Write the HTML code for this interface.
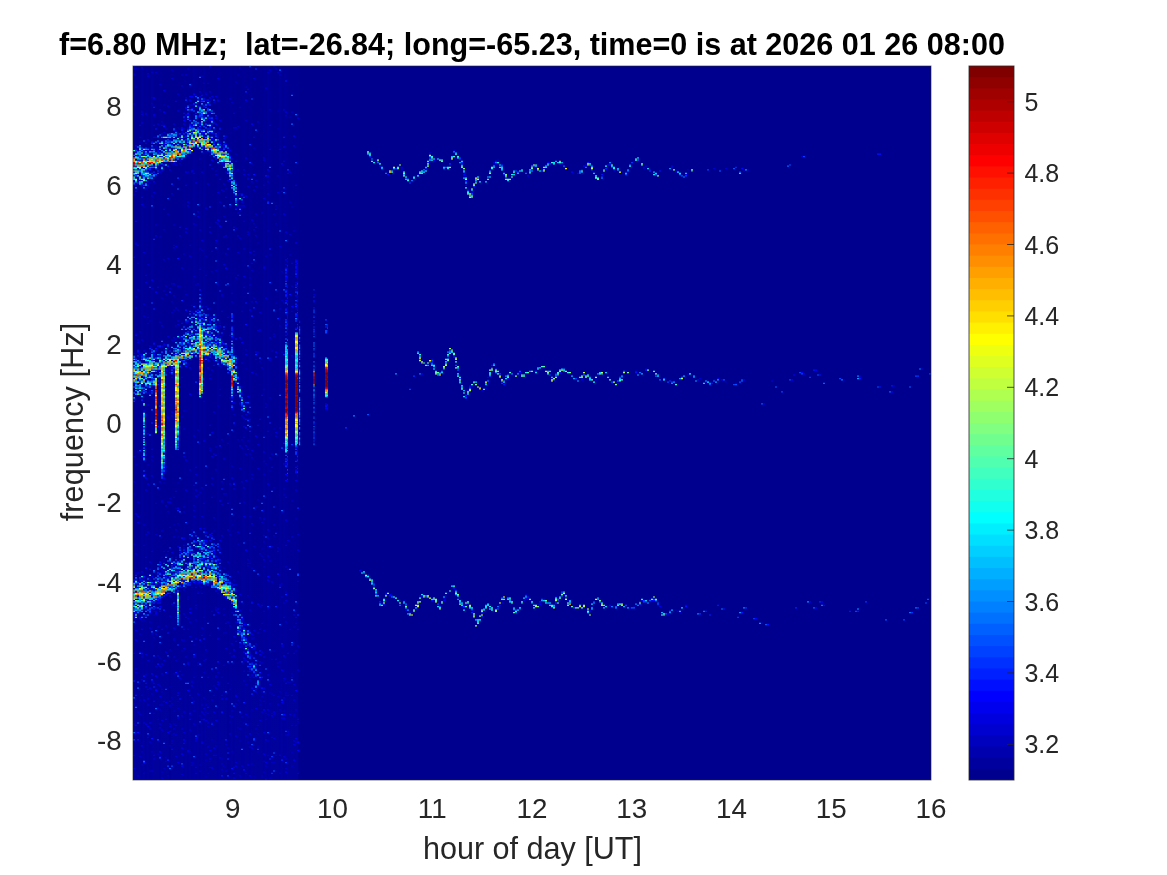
<!DOCTYPE html>
<html lang="en">
<head>
<meta charset="utf-8">
<title>Doppler spectrogram f=6.80 MHz</title>
<style>
html,body{margin:0;padding:0;background:#fff;}
body{width:1167px;height:875px;overflow:hidden;position:relative;font-family:"Liberation Sans",Arial,Helvetica,sans-serif;}
svg{position:absolute;left:0;top:0;display:block;}
text{font-family:"Liberation Sans",Arial,Helvetica,sans-serif;}
.tk{font-size:27.78px;fill:#262626;}
.cb{font-size:25px;fill:#262626;}
.lab{font-size:30.56px;fill:#262626;}
.ttl{font-size:30.56px;font-weight:bold;fill:#000;white-space:pre;}
.tm{stroke:#262626;stroke-width:1;stroke-opacity:.22;}
.cm{stroke:#262626;stroke-width:1;stroke-opacity:.8;}
</style>
</head>
<body>
<svg width="1167" height="875" viewBox="0 0 1167 875">
<rect x="0" y="0" width="1167" height="875" fill="#ffffff"/>
<!-- spectrogram background -->
<rect x="133.0" y="66.0" width="798.0" height="714.0" fill="#00008f"/>
<defs><linearGradient id="nf" x1="0" y1="0" x2="0" y2="1"><stop offset="0" stop-color="#000093"/><stop offset=".62" stop-color="#000095"/><stop offset="1" stop-color="#01019d"/></linearGradient></defs>
<rect x="133.0" y="66.0" width="165.4" height="714.0" fill="url(#nf)"/>
<rect x="141.00" y="66" width="2.000" height="714" fill="#0000b4" fill-opacity="0.22"/>
<rect x="145.00" y="66" width="2.000" height="714" fill="#0000b4" fill-opacity="0.15"/>
<rect x="149.00" y="66" width="2.000" height="714" fill="#0000b4" fill-opacity="0.09"/>
<rect x="151.00" y="66" width="2.000" height="714" fill="#0000b4" fill-opacity="0.23"/>
<rect x="159.00" y="66" width="2.000" height="714" fill="#0000b4" fill-opacity="0.10"/>
<rect x="169.00" y="66" width="2.000" height="714" fill="#00008f" fill-opacity="0.31"/>
<rect x="183.00" y="66" width="2.000" height="714" fill="#0000b4" fill-opacity="0.17"/>
<rect x="187.00" y="66" width="2.000" height="714" fill="#0000b4" fill-opacity="0.14"/>
<rect x="191.00" y="66" width="2.000" height="714" fill="#0000b4" fill-opacity="0.13"/>
<rect x="193.00" y="66" width="2.000" height="714" fill="#0000b4" fill-opacity="0.25"/>
<rect x="195.00" y="66" width="2.000" height="714" fill="#0000b4" fill-opacity="0.11"/>
<rect x="199.00" y="66" width="2.000" height="714" fill="#0000b4" fill-opacity="0.20"/>
<rect x="203.00" y="66" width="2.000" height="714" fill="#0000b4" fill-opacity="0.27"/>
<rect x="217.00" y="66" width="2.000" height="714" fill="#0000b4" fill-opacity="0.21"/>
<rect x="227.00" y="66" width="2.000" height="714" fill="#00008f" fill-opacity="0.20"/>
<rect x="229.00" y="66" width="2.000" height="714" fill="#0000b4" fill-opacity="0.18"/>
<rect x="233.00" y="66" width="2.000" height="714" fill="#0000b4" fill-opacity="0.12"/>
<rect x="241.00" y="66" width="2.000" height="714" fill="#0000b4" fill-opacity="0.11"/>
<rect x="243.00" y="66" width="2.000" height="714" fill="#0000b4" fill-opacity="0.18"/>
<rect x="249.00" y="66" width="2.000" height="714" fill="#0000b4" fill-opacity="0.21"/>
<rect x="263.00" y="66" width="2.000" height="714" fill="#0000b4" fill-opacity="0.21"/>
<rect x="267.00" y="66" width="2.000" height="714" fill="#0000b4" fill-opacity="0.22"/>
<rect x="269.00" y="66" width="2.000" height="714" fill="#0000b4" fill-opacity="0.10"/>
<rect x="279.00" y="66" width="2.000" height="714" fill="#0000b4" fill-opacity="0.24"/>
<rect x="283.00" y="66" width="2.000" height="714" fill="#0000b4" fill-opacity="0.18"/>
<rect x="285.00" y="66" width="2.000" height="714" fill="#0000b4" fill-opacity="0.13"/>
<!-- spectrogram data cells -->
<g transform="translate(133 66) scale(2 1.2)" shape-rendering="auto">
<path fill="#00009f" d="M160 73h1v1h-1zM117 74h1v1h-1zM162 74h1v1h-1zM148 76h1v1h-1zM160 77h1v1h-1zM249 83h1v1h-1zM123 84h1v1h-1zM185 86h1v1h-1zM271 86h1v1h-1zM235 89h1v1h-1zM244 89h1v1h-1zM141 92h1v1h-1zM173 94h1v1h-1zM142 240h1v1h-1zM147 246h1v1h-1zM154 253h1v1h-1zM208 255h1v1h-1zM190 256h1v1h-1zM279 260h1v1h-1zM238 262h1v1h-1zM264 262h1v1h-1zM272 262h1v1h-1zM230 264h1v1h-1zM165 269h1v1h-1zM159 435h1v1h-1zM122 442h1v1h-1zM126 442h1v1h-1zM143 442h1v1h-1zM148 444h1v1h-1zM258 446h1v1h-1zM183 450h1v1h-1zM247 450h1v1h-1z"/>
<path fill="#0000af" d="M151 77h1v1h-1zM153 77h1v1h-1zM182 78h1v1h-1zM250 79h1v1h-1zM215 84h1v1h-1zM124 86h1v1h-1zM293 86h1v1h-1zM134 87h1v1h-1zM244 88h1v1h-1zM230 90h1v1h-1zM178 91h1v1h-1zM174 96h1v1h-1zM167 101h1v1h-1zM170 101h1v1h-1zM156 245h1v1h-1zM150 251h1v1h-1zM205 251h1v1h-1zM237 258h1v1h-1zM231 260h1v1h-1zM289 263h1v1h-1zM296 263h1v1h-1zM166 277h1v1h-1zM160 437h1v1h-1zM184 442h1v1h-1zM126 443h1v1h-1zM162 443h1v1h-1zM183 446h1v1h-1zM229 447h1v1h-1zM167 449h1v1h-1zM229 450h1v1h-1zM192 451h1v1h-1zM271 453h1v1h-1zM267 457h1v1h-1z"/>
<path fill="#0000bf" d="M53 1h1v1h-1zM2 2h1v1h-1zM19 3h1v1h-1zM9 5h1v1h-1zM11 5h1v1h-1zM67 5h1v1h-1zM72 5h1v1h-1zM0 6h1v1h-1zM52 7h1v1h-1zM34 8h1v1h-1zM51 13h1v1h-1zM35 14h1v1h-1zM37 14h1v1h-1zM13 15h1v1h-1zM1 17h1v1h-1zM28 17h1v1h-1zM56 17h1v1h-1zM36 22h1v1h-1zM9 26h1v1h-1zM28 29h1v1h-1zM40 30h1v1h-1zM49 30h1v1h-1zM9 31h1v1h-1zM15 32h1v1h-1zM53 34h1v1h-1zM68 36h1v1h-1zM72 37h1v1h-1zM4 38h1v1h-1zM79 38h1v1h-1zM6 39h1v1h-1zM6 40h1v1h-1zM30 40h1v1h-1zM38 41h2v1h-2zM76 41h1v1h-1zM78 42h1v1h-1zM38 44h1v1h-1zM36 45h1v1h-1zM56 45h1v1h-1zM14 46h1v1h-1zM32 46h1v1h-1zM37 47h1v1h-1zM38 48h1v1h-1zM52 50h1v1h-1zM22 51h1v1h-1zM23 52h1v1h-1zM72 52h1v1h-1zM33 54h1v1h-1zM42 55h1v1h-1zM16 56h1v1h-1zM24 56h1v1h-1zM33 57h2v1h-2zM39 57h1v1h-1zM42 57h1v1h-1zM3 59h1v1h-1zM19 59h1v1h-1zM34 59h1v1h-1zM41 59h1v1h-1zM18 60h1v1h-1zM16 61h1v1h-1zM38 62h1v1h-1zM3 63h1v1h-1zM22 63h1v1h-1zM21 65h1v1h-1zM10 66h1v1h-1zM20 66h1v1h-1zM35 67h1v1h-1zM5 68h1v1h-1zM7 68h2v1h-2zM34 68h1v1h-1zM46 68h1v1h-1zM60 68h1v1h-1zM4 69h1v1h-1zM32 69h1v1h-1zM43 69h1v1h-1zM5 70h1v1h-1zM8 70h1v1h-1zM18 71h1v1h-1zM51 73h1v1h-1zM27 75h1v1h-1zM24 76h2v1h-2zM41 76h1v1h-1zM56 76h1v1h-1zM160 76h1v1h-1zM33 77h1v1h-1zM56 77h1v1h-1zM16 81h1v1h-1zM214 81h1v1h-1zM199 82h1v1h-1zM39 85h1v1h-1zM134 85h1v1h-1zM255 85h1v1h-1zM13 86h1v1h-1zM134 86h1v1h-1zM277 86h1v1h-1zM41 87h1v1h-1zM51 87h1v1h-1zM27 88h1v1h-1zM29 88h1v1h-1zM47 88h1v1h-1zM247 89h1v1h-1zM259 89h1v1h-1zM41 90h1v1h-1zM72 91h1v1h-1zM275 91h1v1h-1zM49 92h1v1h-1zM67 92h1v1h-1zM57 93h1v1h-1zM57 94h1v1h-1zM0 95h1v1h-1zM61 95h1v1h-1zM138 96h1v1h-1zM8 97h1v1h-1zM1 98h1v1h-1zM65 99h1v1h-1zM4 100h1v1h-1zM7 100h1v1h-1zM57 100h1v1h-1zM61 100h1v1h-1zM45 104h1v1h-1zM169 104h1v1h-1zM50 106h1v1h-1zM9 108h1v1h-1zM50 108h1v1h-1zM54 108h1v1h-1zM78 113h1v1h-1zM53 116h1v1h-1zM71 116h1v1h-1zM5 117h1v1h-1zM48 117h1v1h-1zM79 117h1v1h-1zM53 118h1v1h-1zM53 120h1v1h-1zM17 123h1v1h-1zM70 123h1v1h-1zM45 125h1v1h-1zM55 129h1v1h-1zM41 130h1v1h-1zM60 131h1v1h-1zM71 131h1v1h-1zM31 132h1v1h-1zM51 135h1v1h-1zM15 136h1v1h-1zM67 137h1v1h-1zM57 140h1v1h-1zM78 140h1v1h-1zM13 142h1v1h-1zM1 147h1v1h-1zM41 147h1v1h-1zM62 147h1v1h-1zM20 149h1v1h-1zM28 149h1v1h-1zM33 152h1v1h-1zM34 153h1v1h-1zM25 156h1v1h-1zM60 157h1v1h-1zM68 157h1v1h-1zM36 158h1v1h-1zM66 158h1v1h-1zM17 160h1v1h-1zM2 164h1v1h-1zM7 165h1v1h-1zM76 165h1v1h-1zM41 170h1v1h-1zM59 170h1v1h-1zM39 171h1v1h-1zM74 171h1v1h-1zM77 173h1v1h-1zM36 174h1v1h-1zM30 175h1v1h-1zM58 176h1v1h-1zM82 179h1v1h-1zM19 181h1v1h-1zM16 183h1v1h-1zM23 183h1v1h-1zM79 183h1v1h-1zM9 185h1v1h-1zM18 185h1v1h-1zM82 186h1v1h-1zM49 189h1v1h-1zM16 190h1v1h-1zM26 190h1v1h-1zM44 190h1v1h-1zM14 193h1v1h-1zM60 193h1v1h-1zM74 195h1v1h-1zM19 196h1v1h-1zM59 196h1v1h-1zM71 197h1v1h-1zM29 199h1v1h-1zM36 200h1v1h-1zM38 202h1v1h-1zM77 202h1v1h-1zM20 203h1v1h-1zM22 203h1v1h-1zM29 204h1v1h-1zM54 204h1v1h-1zM79 204h1v1h-1zM19 205h1v1h-1zM32 208h1v1h-1zM7 209h1v1h-1zM41 209h1v1h-1zM35 210h1v1h-1zM8 212h1v1h-1zM13 213h1v1h-1zM27 213h1v1h-1zM35 213h1v1h-1zM7 214h1v1h-1zM43 214h1v1h-1zM28 215h1v1h-1zM21 216h1v1h-1zM25 216h1v1h-1zM73 216h1v1h-1zM37 217h1v1h-1zM63 219h1v1h-1zM39 220h1v1h-1zM63 220h1v1h-1zM3 221h1v1h-1zM25 222h1v1h-1zM1 223h1v1h-1zM28 223h1v1h-1zM44 223h1v1h-1zM70 223h1v1h-1zM30 224h1v1h-1zM42 224h1v1h-1zM23 225h1v1h-1zM70 225h1v1h-1zM50 226h1v1h-1zM24 227h1v1h-1zM20 228h1v1h-1zM28 229h1v1h-1zM10 230h1v1h-1zM45 232h1v1h-1zM48 233h1v1h-1zM24 235h1v1h-1zM56 236h1v1h-1zM9 237h1v1h-1zM50 237h1v1h-1zM62 238h1v1h-1zM74 238h1v1h-1zM14 239h1v1h-1zM45 240h1v1h-1zM11 241h1v1h-1zM40 242h1v1h-1zM61 244h1v1h-1zM144 244h1v1h-1zM68 245h1v1h-1zM4 246h1v1h-1zM43 246h1v1h-1zM63 246h1v1h-1zM0 247h1v1h-1zM28 247h1v1h-1zM26 248h1v1h-1zM150 248h1v1h-1zM4 250h1v1h-1zM19 250h1v1h-1zM43 250h1v1h-1zM16 251h1v1h-1zM56 252h1v1h-1zM8 254h1v1h-1zM35 255h1v1h-1zM192 255h1v1h-1zM38 257h1v1h-1zM189 257h1v1h-1zM24 259h1v1h-1zM290 261h1v1h-1zM355 261h1v1h-1zM164 264h1v1h-1zM301 264h1v1h-1zM7 265h1v1h-1zM5 266h1v1h-1zM54 267h1v1h-1zM43 269h1v1h-1zM65 269h1v1h-1zM13 272h1v1h-1zM54 272h1v1h-1zM8 273h1v1h-1zM43 274h1v1h-1zM48 276h1v1h-1zM68 276h1v1h-1zM35 279h1v1h-1zM53 280h1v1h-1zM66 281h1v1h-1zM18 282h1v1h-1zM42 283h1v1h-1zM97 283h1v1h-1zM66 284h1v1h-1zM49 286h1v1h-1zM96 286h1v1h-1zM26 287h1v1h-1zM58 289h1v1h-1zM78 289h1v1h-1zM6 290h1v1h-1zM50 290h1v1h-1zM50 298h1v1h-1zM70 302h1v1h-1zM79 302h1v1h-1zM32 303h1v1h-1zM55 309h1v1h-1zM52 311h1v1h-1zM54 311h1v1h-1zM47 314h1v1h-1zM22 318h1v1h-1zM38 318h1v1h-1zM54 318h1v1h-1zM4 319h1v1h-1zM38 320h1v1h-1zM58 323h1v1h-1zM0 325h1v1h-1zM9 325h1v1h-1zM81 327h1v1h-1zM9 328h1v1h-1zM76 328h1v1h-1zM65 329h1v1h-1zM66 331h1v1h-1zM1 332h1v1h-1zM16 333h1v1h-1zM49 333h1v1h-1zM16 334h1v1h-1zM53 335h1v1h-1zM41 336h1v1h-1zM68 337h1v1h-1zM82 339h1v1h-1zM59 340h1v1h-1zM65 340h1v1h-1zM59 343h1v1h-1zM54 346h1v1h-1zM15 347h1v1h-1zM22 347h1v1h-1zM70 351h1v1h-1zM75 352h1v1h-1zM33 355h1v1h-1zM0 356h1v1h-1zM46 356h1v1h-1zM75 357h1v1h-1zM20 359h1v1h-1zM18 360h1v1h-1zM62 361h1v1h-1zM14 363h1v1h-1zM55 363h1v1h-1zM11 364h1v1h-1zM44 365h1v1h-1zM21 368h1v1h-1zM30 370h1v1h-1zM17 371h1v1h-1zM25 371h1v1h-1zM30 375h1v1h-1zM58 375h1v1h-1zM81 377h1v1h-1zM64 380h1v1h-1zM22 381h1v1h-1zM20 382h1v1h-1zM49 382h1v1h-1zM18 384h1v1h-1zM29 386h1v1h-1zM40 387h1v1h-1zM6 390h1v1h-1zM11 390h1v1h-1zM29 390h1v1h-1zM48 390h1v1h-1zM82 390h1v1h-1zM65 391h1v1h-1zM70 391h1v1h-1zM22 392h1v1h-1zM38 392h1v1h-1zM67 393h1v1h-1zM25 394h1v1h-1zM65 396h1v1h-1zM40 397h1v1h-1zM0 398h1v1h-1zM52 398h1v1h-1zM5 399h1v1h-1zM26 399h1v1h-1zM60 400h1v1h-1zM69 400h1v1h-1zM43 401h1v1h-1zM28 402h1v1h-1zM64 402h1v1h-1zM15 404h1v1h-1zM35 404h1v1h-1zM29 405h1v1h-1zM31 406h1v1h-1zM64 408h1v1h-1zM14 409h1v1h-1zM19 409h1v1h-1zM26 409h1v1h-1zM32 410h1v1h-1zM23 411h1v1h-1zM14 412h1v1h-1zM34 412h1v1h-1zM17 413h1v1h-1zM20 414h1v1h-1zM57 414h2v1h-2zM57 416h1v1h-1zM65 417h1v1h-1zM16 418h1v1h-1zM45 418h1v1h-1zM59 418h1v1h-1zM28 419h1v1h-1zM34 419h1v1h-1zM14 421h1v1h-1zM28 421h1v1h-1zM47 421h1v1h-1zM35 422h1v1h-1zM7 423h1v1h-1zM11 423h1v1h-1zM37 424h1v1h-1zM8 426h1v1h-1zM17 426h1v1h-1zM43 426h1v1h-1zM3 427h1v1h-1zM11 427h1v1h-1zM28 427h1v1h-1zM50 428h1v1h-1zM29 429h1v1h-1zM33 429h1v1h-1zM69 429h1v1h-1zM82 429h1v1h-1zM31 430h1v1h-1zM69 430h1v1h-1zM2 431h1v1h-1zM31 431h1v1h-1zM74 431h1v1h-1zM12 433h1v1h-1zM24 433h1v1h-1zM38 433h1v1h-1zM29 434h1v1h-1zM34 434h1v1h-1zM10 437h1v1h-1zM23 437h1v1h-1zM32 438h1v1h-1zM76 438h1v1h-1zM42 439h1v1h-1zM196 440h1v1h-1zM57 441h1v1h-1zM156 441h1v1h-1zM27 442h1v1h-1zM148 442h1v1h-1zM197 443h1v1h-1zM259 443h1v1h-1zM27 444h1v1h-1zM135 445h1v1h-1zM198 445h1v1h-1zM53 446h1v1h-1zM124 447h1v1h-1zM152 447h1v1h-1zM49 448h1v1h-1zM243 449h1v1h-1zM63 450h1v1h-1zM238 450h1v1h-1zM250 450h1v1h-1zM31 451h1v1h-1zM41 451h1v1h-1zM45 452h1v1h-1zM58 453h1v1h-1zM10 454h1v1h-1zM39 454h1v1h-1zM65 454h1v1h-1zM170 454h1v1h-1zM1 455h1v1h-1zM49 455h1v1h-1zM4 456h1v1h-1zM51 456h1v1h-1zM10 457h1v1h-1zM0 459h1v1h-1zM35 459h1v1h-1zM0 460h1v1h-1zM27 460h1v1h-1zM51 460h1v1h-1zM31 461h1v1h-1zM4 462h1v1h-1zM8 463h1v1h-1zM55 463h1v1h-1zM76 463h1v1h-1zM64 464h1v1h-1zM81 464h1v1h-1zM80 467h1v1h-1zM27 469h1v1h-1zM78 469h1v1h-1zM51 471h1v1h-1zM58 471h1v1h-1zM45 472h2v1h-2zM3 473h1v1h-1zM9 473h1v1h-1zM38 474h1v1h-1zM55 474h1v1h-1zM58 474h1v1h-1zM10 476h1v1h-1zM59 476h2v1h-2zM20 478h1v1h-1zM25 478h1v1h-1zM30 482h1v1h-1zM54 483h1v1h-1zM24 487h1v1h-1zM50 487h1v1h-1zM70 487h1v1h-1zM81 487h1v1h-1zM4 490h1v1h-1zM13 493h1v1h-1zM69 494h1v1h-1zM21 495h1v1h-1zM35 495h1v1h-1zM55 495h1v1h-1zM73 496h1v1h-1zM47 497h1v1h-1zM60 497h1v1h-1zM72 497h1v1h-1zM32 499h1v1h-1zM45 499h1v1h-1zM11 500h1v1h-1zM72 500h1v1h-1zM63 502h1v1h-1zM39 503h1v1h-1zM58 503h1v1h-1zM55 504h1v1h-1zM57 504h1v1h-1zM1 505h1v1h-1zM35 505h1v1h-1zM42 505h1v1h-1zM20 506h1v1h-1zM79 506h1v1h-1zM59 508h1v1h-1zM30 509h1v1h-1zM41 509h1v1h-1zM44 509h1v1h-1zM58 511h1v1h-1zM29 512h1v1h-1zM75 512h1v1h-1zM9 513h1v1h-1zM77 513h2v1h-2zM56 515h1v1h-1zM40 516h1v1h-1zM18 517h1v1h-1zM63 517h1v1h-1zM63 518h1v1h-1zM0 519h1v1h-1zM14 519h1v1h-1zM48 519h1v1h-1zM14 521h1v1h-1zM73 521h1v1h-1zM68 522h1v1h-1zM76 522h1v1h-1zM9 523h1v1h-1zM69 523h1v1h-1zM4 524h1v1h-1zM76 524h2v1h-2zM64 525h1v1h-1zM72 525h1v1h-1zM19 526h1v1h-1zM29 526h1v1h-1zM3 528h1v1h-1zM52 528h1v1h-1zM63 528h1v1h-1zM22 529h1v1h-1zM65 529h1v1h-1zM0 531h1v1h-1zM68 531h1v1h-1zM72 531h1v1h-1zM18 532h1v1h-1zM18 533h1v1h-1zM11 534h1v1h-1zM12 535h1v1h-1zM22 535h1v1h-1zM59 536h1v1h-1zM73 536h1v1h-1zM20 537h1v1h-1zM75 537h1v1h-1zM36 538h1v1h-1zM10 539h1v1h-1zM53 539h1v1h-1zM66 539h1v1h-1zM69 539h1v1h-1zM3 540h1v1h-1zM28 540h1v1h-1zM35 540h1v1h-1zM67 540h1v1h-1zM70 540h1v1h-1zM80 540h1v1h-1zM33 541h1v1h-1zM57 542h1v1h-1zM12 544h1v1h-1zM66 544h1v1h-1zM35 545h1v1h-1zM37 546h1v1h-1zM48 546h1v1h-1zM82 546h1v1h-1zM55 547h1v1h-1zM0 548h1v1h-1zM20 548h1v1h-1zM81 549h1v1h-1zM37 550h1v1h-1zM52 551h1v1h-1zM1 555h1v1h-1zM77 555h1v1h-1zM62 556h1v1h-1zM19 557h1v1h-1zM39 561h1v1h-1zM12 562h1v1h-1zM53 562h1v1h-1zM67 562h1v1h-1zM57 563h1v1h-1zM19 564h1v1h-1zM46 565h1v1h-1zM18 566h1v1h-1zM41 566h1v1h-1zM15 567h1v1h-1zM62 567h1v1h-1zM47 568h1v1h-1zM4 571h1v1h-1zM9 571h1v1h-1zM28 571h1v1h-1zM49 571h1v1h-1zM62 571h1v1h-1zM12 573h1v1h-1zM67 574h1v1h-1zM71 574h1v1h-1zM3 575h1v1h-1zM16 576h1v1h-1zM75 576h1v1h-1zM44 577h1v1h-1zM36 578h1v1h-1zM16 579h1v1h-1zM38 579h1v1h-1zM65 579h1v1h-1zM29 580h1v1h-1zM69 580h2v1h-2zM4 582h1v1h-1zM33 582h1v1h-1zM45 583h1v1h-1zM66 583h1v1h-1zM79 583h1v1h-1zM15 585h1v1h-1zM76 585h1v1h-1zM8 587h1v1h-1zM33 587h1v1h-1zM14 588h1v1h-1zM65 588h1v1h-1zM5 589h1v1h-1zM37 589h1v1h-1zM73 589h1v1h-1zM17 591h1v1h-1zM64 591h1v1h-1zM36 592h1v1h-1zM60 592h1v1h-1zM68 593h1v1h-1zM60 594h1v1h-1z"/>
<path fill="#0000cf" d="M0 0h1v1h-1zM70 0h1v1h-1zM4 1h1v1h-1zM27 2h1v1h-1zM71 2h1v1h-1zM68 3h1v1h-1zM7 6h1v1h-1zM0 7h1v1h-1zM24 7h1v1h-1zM73 7h1v1h-1zM7 8h1v1h-1zM19 10h1v1h-1zM60 10h1v1h-1zM24 16h1v1h-1zM66 18h1v1h-1zM57 19h1v1h-1zM38 21h1v1h-1zM22 23h1v1h-1zM36 23h1v1h-1zM26 26h1v1h-1zM38 29h1v1h-1zM42 29h1v1h-1zM0 31h1v1h-1zM17 33h1v1h-1zM13 36h1v1h-1zM75 36h1v1h-1zM50 39h1v1h-1zM4 40h1v1h-1zM10 40h1v1h-1zM26 40h1v1h-1zM26 41h1v1h-1zM35 41h1v1h-1zM25 43h1v1h-1zM30 44h1v1h-1zM62 46h1v1h-1zM12 48h1v1h-1zM20 48h1v1h-1zM3 49h1v1h-1zM29 49h1v1h-1zM33 49h1v1h-1zM36 49h1v1h-1zM43 51h1v1h-1zM50 51h1v1h-1zM16 52h1v1h-1zM25 52h1v1h-1zM40 54h1v1h-1zM15 55h1v1h-1zM24 55h1v1h-1zM38 55h1v1h-1zM32 56h1v1h-1zM46 58h1v1h-1zM45 60h1v1h-1zM26 63h1v1h-1zM25 64h1v1h-1zM15 66h1v1h-1zM31 66h1v1h-1zM43 66h1v1h-1zM17 67h1v1h-1zM11 68h1v1h-1zM13 68h1v1h-1zM38 68h1v1h-1zM43 68h1v1h-1zM44 69h1v1h-1zM68 69h1v1h-1zM73 69h1v1h-1zM17 70h1v1h-1zM23 70h1v1h-1zM47 70h1v1h-1zM160 70h1v1h-1zM36 71h1v1h-1zM5 72h1v1h-1zM149 74h1v1h-1zM65 76h1v1h-1zM21 77h1v1h-1zM65 78h1v1h-1zM121 78h1v1h-1zM75 79h1v1h-1zM19 81h1v1h-1zM23 81h1v1h-1zM59 81h1v1h-1zM158 82h1v1h-1zM256 83h1v1h-1zM134 84h1v1h-1zM269 84h1v1h-1zM290 85h1v1h-1zM296 85h1v1h-1zM52 86h1v1h-1zM55 86h1v1h-1zM236 86h1v1h-1zM307 86h1v1h-1zM271 87h1v1h-1zM34 88h1v1h-1zM46 88h1v1h-1zM78 88h1v1h-1zM271 88h1v1h-1zM30 89h1v1h-1zM190 89h1v1h-1zM55 90h1v1h-1zM57 90h1v1h-1zM165 91h1v1h-1zM189 93h1v1h-1zM2 95h1v1h-1zM48 95h1v1h-1zM59 96h1v1h-1zM67 96h1v1h-1zM37 98h1v1h-1zM45 98h1v1h-1zM81 99h1v1h-1zM46 102h1v1h-1zM44 103h1v1h-1zM60 103h1v1h-1zM74 104h1v1h-1zM10 105h1v1h-1zM72 105h1v1h-1zM67 106h1v1h-1zM0 107h1v1h-1zM52 107h1v1h-1zM167 107h1v1h-1zM51 108h1v1h-1zM46 109h1v1h-1zM65 110h1v1h-1zM43 113h1v1h-1zM36 118h1v1h-1zM51 118h1v1h-1zM71 119h1v1h-1zM64 122h1v1h-1zM61 123h1v1h-1zM32 125h1v1h-1zM30 131h1v1h-1zM42 131h1v1h-1zM11 132h1v1h-1zM20 132h1v1h-1zM50 134h1v1h-1zM26 135h1v1h-1zM33 136h1v1h-1zM60 136h1v1h-1zM80 137h1v1h-1zM57 138h1v1h-1zM23 141h1v1h-1zM46 141h1v1h-1zM52 141h1v1h-1zM61 141h1v1h-1zM53 143h1v1h-1zM34 145h1v1h-1zM1 148h1v1h-1zM2 149h1v1h-1zM21 150h1v1h-1zM73 150h1v1h-1zM20 151h1v1h-1zM55 152h1v1h-1zM39 154h1v1h-1zM60 154h1v1h-1zM5 155h1v1h-1zM52 155h1v1h-1zM46 156h1v1h-1zM78 157h1v1h-1zM15 161h1v1h-1zM81 161h1v1h-1zM77 163h1v1h-1zM59 164h1v1h-1zM45 165h1v1h-1zM81 166h1v1h-1zM24 168h1v1h-1zM65 168h1v1h-1zM33 169h1v1h-1zM6 174h1v1h-1zM51 176h1v1h-1zM82 177h1v1h-1zM76 178h1v1h-1zM6 180h1v1h-1zM81 180h1v1h-1zM32 181h1v1h-1zM31 182h1v1h-1zM42 182h1v1h-1zM58 182h1v1h-1zM22 183h1v1h-1zM12 184h1v1h-1zM55 184h1v1h-1zM2 186h1v1h-1zM77 186h1v1h-1zM15 187h1v1h-1zM20 191h1v1h-1zM44 191h1v1h-1zM1 192h1v1h-1zM76 192h1v1h-1zM49 196h1v1h-1zM75 197h1v1h-1zM5 198h1v1h-1zM34 200h1v1h-1zM1 201h1v1h-1zM21 201h1v1h-1zM73 202h1v1h-1zM81 202h1v1h-1zM44 204h1v1h-1zM76 204h2v1h-2zM29 205h1v1h-1zM63 205h1v1h-1zM5 208h1v1h-1zM36 208h1v1h-1zM47 209h1v1h-1zM38 210h1v1h-1zM49 210h1v1h-1zM77 211h1v1h-1zM22 215h1v1h-1zM34 215h1v1h-1zM37 216h1v1h-1zM42 216h1v1h-1zM42 218h1v1h-1zM32 220h1v1h-1zM62 220h1v1h-1zM77 220h1v1h-1zM27 222h1v1h-1zM42 223h1v1h-1zM31 224h1v1h-1zM17 225h1v1h-1zM43 225h1v1h-1zM21 227h1v1h-1zM2 228h1v1h-1zM4 228h1v1h-1zM19 228h1v1h-1zM28 228h1v1h-1zM41 229h2v1h-2zM2 230h1v1h-1zM15 231h1v1h-1zM42 231h1v1h-1zM8 233h1v1h-1zM21 233h1v1h-1zM31 235h1v1h-1zM2 236h1v1h-1zM15 236h1v1h-1zM24 237h1v1h-1zM32 237h1v1h-1zM69 237h1v1h-1zM46 238h1v1h-1zM0 239h1v1h-1zM157 239h1v1h-1zM29 240h1v1h-1zM56 240h1v1h-1zM20 241h1v1h-1zM3 242h1v1h-1zM10 242h1v1h-1zM18 243h1v1h-1zM39 243h1v1h-1zM45 243h1v1h-1zM8 244h1v1h-1zM14 244h1v1h-1zM26 244h1v1h-1zM43 244h1v1h-1zM51 245h1v1h-1zM25 246h1v1h-1zM54 247h1v1h-1zM156 247h1v1h-1zM27 248h1v1h-1zM50 248h1v1h-1zM12 250h1v1h-1zM64 251h1v1h-1zM256 252h1v1h-1zM394 252h1v1h-1zM39 253h1v1h-1zM47 253h1v1h-1zM8 256h1v1h-1zM12 256h1v1h-1zM61 256h1v1h-1zM231 258h1v1h-1zM363 258h1v1h-1zM19 259h1v1h-1zM177 259h1v1h-1zM227 259h1v1h-1zM38 260h1v1h-1zM209 260h1v1h-1zM224 260h1v1h-1zM283 260h1v1h-1zM231 261h1v1h-1zM2 262h1v1h-1zM6 262h1v1h-1zM51 262h1v1h-1zM270 262h1v1h-1zM12 263h1v1h-1zM184 263h1v1h-1zM177 264h1v1h-1zM303 264h1v1h-1zM0 265h1v1h-1zM52 265h1v1h-1zM52 266h1v1h-1zM380 266h1v1h-1zM173 267h1v1h-1zM13 268h1v1h-1zM176 268h1v1h-1zM3 269h1v1h-1zM8 270h1v1h-1zM174 270h1v1h-1zM53 273h2v1h-2zM51 274h1v1h-1zM50 280h1v1h-1zM56 282h1v1h-1zM25 287h1v1h-1zM40 288h1v1h-1zM56 290h1v1h-1zM19 291h1v1h-1zM17 292h1v1h-1zM24 292h1v1h-1zM17 293h1v1h-1zM55 293h1v1h-1zM58 294h1v1h-1zM38 299h1v1h-1zM55 300h1v1h-1zM12 301h1v1h-1zM20 302h1v1h-1zM25 302h1v1h-1zM67 304h1v1h-1zM30 308h1v1h-1zM71 308h1v1h-1zM44 311h1v1h-1zM57 312h1v1h-1zM62 315h1v1h-1zM22 316h1v1h-1zM41 317h1v1h-1zM59 320h1v1h-1zM2 321h1v1h-1zM40 323h1v1h-1zM56 323h1v1h-1zM69 323h1v1h-1zM5 325h1v1h-1zM25 325h1v1h-1zM39 325h1v1h-1zM59 326h1v1h-1zM82 326h1v1h-1zM77 329h1v1h-1zM7 332h1v1h-1zM31 334h1v1h-1zM62 335h1v1h-1zM15 336h1v1h-1zM28 336h1v1h-1zM16 337h1v1h-1zM81 339h1v1h-1zM31 340h1v1h-1zM82 341h1v1h-1zM5 342h1v1h-1zM39 343h1v1h-1zM56 345h1v1h-1zM0 346h1v1h-1zM44 346h1v1h-1zM50 347h1v1h-1zM39 348h1v1h-1zM48 348h1v1h-1zM30 349h1v1h-1zM34 351h1v1h-1zM6 353h1v1h-1zM31 353h1v1h-1zM81 353h1v1h-1zM21 354h1v1h-1zM45 356h1v1h-1zM32 357h1v1h-1zM39 359h1v1h-1zM76 359h1v1h-1zM79 362h1v1h-1zM2 363h1v1h-1zM35 364h1v1h-1zM30 366h1v1h-1zM25 367h1v1h-1zM61 367h1v1h-1zM74 372h1v1h-1zM2 375h1v1h-1zM34 375h1v1h-1zM40 376h1v1h-1zM63 376h1v1h-1zM35 385h1v1h-1zM21 386h1v1h-1zM7 388h1v1h-1zM29 389h1v1h-1zM38 391h1v1h-1zM39 394h1v1h-1zM33 395h1v1h-1zM77 395h1v1h-1zM27 399h1v1h-1zM22 400h1v1h-1zM67 400h1v1h-1zM39 401h1v1h-1zM72 401h1v1h-1zM43 402h1v1h-1zM39 403h1v1h-1zM9 404h1v1h-1zM17 404h1v1h-1zM26 404h1v1h-1zM72 404h1v1h-1zM31 405h1v1h-1zM1 406h1v1h-1zM63 406h1v1h-1zM16 407h1v1h-1zM34 407h1v1h-1zM67 408h1v1h-1zM6 409h1v1h-1zM21 409h1v1h-1zM31 409h1v1h-1zM15 411h1v1h-1zM57 411h1v1h-1zM25 412h1v1h-1zM42 412h1v1h-1zM8 413h1v1h-1zM21 413h1v1h-1zM47 413h1v1h-1zM42 414h1v1h-1zM22 416h1v1h-1zM26 417h1v1h-1zM34 417h1v1h-1zM76 417h1v1h-1zM17 418h1v1h-1zM26 418h1v1h-1zM29 418h1v1h-1zM32 418h1v1h-1zM21 419h1v1h-1zM31 419h1v1h-1zM38 419h1v1h-1zM77 419h1v1h-1zM14 420h1v1h-1zM40 420h1v1h-1zM19 421h1v1h-1zM33 421h1v1h-1zM52 421h1v1h-1zM1 422h1v1h-1zM19 423h1v1h-1zM17 425h1v1h-1zM42 426h1v1h-1zM42 427h1v1h-1zM1 428h1v1h-1zM42 428h1v1h-1zM6 429h1v1h-1zM31 429h1v1h-1zM39 429h1v1h-1zM48 429h1v1h-1zM45 430h1v1h-1zM12 431h1v1h-1zM32 431h1v1h-1zM39 431h1v1h-1zM9 432h1v1h-1zM13 432h1v1h-1zM44 432h1v1h-1zM6 433h1v1h-1zM33 433h1v1h-1zM49 433h1v1h-1zM1 434h1v1h-1zM8 435h1v1h-1zM25 436h1v1h-1zM32 439h1v1h-1zM34 439h1v1h-1zM157 439h1v1h-1zM74 442h1v1h-1zM185 443h1v1h-1zM197 444h1v1h-1zM13 445h1v1h-1zM76 445h1v1h-1zM195 445h1v1h-1zM59 446h1v1h-1zM207 446h1v1h-1zM1 447h1v1h-1zM75 447h1v1h-1zM124 448h1v1h-1zM202 448h1v1h-1zM31 449h1v1h-1zM64 449h1v1h-1zM21 450h1v1h-1zM49 451h1v1h-1zM67 452h1v1h-1zM41 453h1v1h-1zM11 454h1v1h-1zM80 454h1v1h-1zM228 454h1v1h-1zM272 454h1v1h-1zM138 455h1v1h-1zM273 455h1v1h-1zM25 456h1v1h-1zM45 457h1v1h-1zM80 457h1v1h-1zM18 458h1v1h-1zM75 459h1v1h-1zM81 459h1v1h-1zM52 460h1v1h-1zM5 461h1v1h-1zM53 462h1v1h-1zM28 463h1v1h-1zM47 463h1v1h-1zM46 464h1v1h-1zM314 464h1v1h-1zM56 465h1v1h-1zM16 466h1v1h-1zM48 466h1v1h-1zM12 467h1v1h-1zM8 468h1v1h-1zM34 468h1v1h-1zM63 469h1v1h-1zM82 469h1v1h-1zM1 470h1v1h-1zM53 470h1v1h-1zM60 470h1v1h-1zM65 470h1v1h-1zM62 472h1v1h-1zM11 473h1v1h-1zM34 474h1v1h-1zM28 475h1v1h-1zM20 477h1v1h-1zM59 477h1v1h-1zM24 478h1v1h-1zM57 480h1v1h-1zM53 481h2v1h-2zM61 481h1v1h-1zM53 483h1v1h-1zM74 483h1v1h-1zM82 483h1v1h-1zM25 485h1v1h-1zM46 485h1v1h-1zM55 485h1v1h-1zM59 485h1v1h-1zM18 486h1v1h-1zM3 488h1v1h-1zM0 489h1v1h-1zM48 489h1v1h-1zM77 489h1v1h-1zM80 489h1v1h-1zM6 490h1v1h-1zM58 490h1v1h-1zM12 491h1v1h-1zM4 492h1v1h-1zM20 492h1v1h-1zM26 492h1v1h-1zM36 494h1v1h-1zM58 494h1v1h-1zM71 494h1v1h-1zM7 495h1v1h-1zM15 495h1v1h-1zM56 495h1v1h-1zM32 497h1v1h-1zM64 497h1v1h-1zM13 500h1v1h-1zM59 500h1v1h-1zM1 502h1v1h-1zM82 503h1v1h-1zM23 504h1v1h-1zM6 507h1v1h-1zM24 507h1v1h-1zM41 508h1v1h-1zM37 509h1v1h-1zM58 509h1v1h-1zM23 510h1v1h-1zM75 510h1v1h-1zM9 512h1v1h-1zM55 512h1v1h-1zM29 513h1v1h-1zM47 514h1v1h-1zM12 515h1v1h-1zM42 515h1v1h-1zM80 515h1v1h-1zM13 516h1v1h-1zM60 516h1v1h-1zM7 519h1v1h-1zM45 521h1v1h-1zM64 521h1v1h-1zM40 524h1v1h-1zM44 524h1v1h-1zM70 524h1v1h-1zM79 524h1v1h-1zM35 526h1v1h-1zM75 526h1v1h-1zM39 528h1v1h-1zM80 528h1v1h-1zM15 529h1v1h-1zM18 529h1v1h-1zM30 529h1v1h-1zM19 531h1v1h-1zM51 531h1v1h-1zM13 532h2v1h-2zM34 532h1v1h-1zM36 532h1v1h-1zM63 532h1v1h-1zM72 532h1v1h-1zM35 535h1v1h-1zM13 536h1v1h-1zM81 536h1v1h-1zM30 537h1v1h-1zM49 537h1v1h-1zM2 538h1v1h-1zM25 538h1v1h-1zM64 538h1v1h-1zM37 539h1v1h-1zM44 539h1v1h-1zM56 540h1v1h-1zM78 540h1v1h-1zM24 541h1v1h-1zM48 541h1v1h-1zM80 541h1v1h-1zM54 542h1v1h-1zM22 543h1v1h-1zM34 544h1v1h-1zM14 545h1v1h-1zM36 545h1v1h-1zM63 545h1v1h-1zM37 547h1v1h-1zM39 547h1v1h-1zM13 548h1v1h-1zM18 548h1v1h-1zM30 548h1v1h-1zM21 549h1v1h-1zM57 549h1v1h-1zM62 549h1v1h-1zM79 549h1v1h-1zM18 550h1v1h-1zM13 551h1v1h-1zM53 552h1v1h-1zM61 552h1v1h-1zM14 553h1v1h-1zM28 553h1v1h-1zM18 554h1v1h-1zM77 554h1v1h-1zM25 555h1v1h-1zM65 555h1v1h-1zM20 556h1v1h-1zM48 556h1v1h-1zM32 557h1v1h-1zM76 557h1v1h-1zM56 558h1v1h-1zM7 559h1v1h-1zM69 559h1v1h-1zM70 560h1v1h-1zM19 562h1v1h-1zM8 563h1v1h-1zM81 563h1v1h-1zM34 564h1v1h-1zM27 570h1v1h-1zM27 571h1v1h-1zM79 572h1v1h-1zM36 573h1v1h-1zM0 574h1v1h-1zM41 574h1v1h-1zM73 574h1v1h-1zM13 575h1v1h-1zM21 575h1v1h-1zM75 575h1v1h-1zM43 576h1v1h-1zM76 577h1v1h-1zM51 580h1v1h-1zM44 581h1v1h-1zM59 581h1v1h-1zM29 582h1v1h-1zM54 583h1v1h-1zM31 584h1v1h-1zM38 584h2v1h-2zM0 585h1v1h-1zM39 585h1v1h-1zM44 586h1v1h-1zM9 587h1v1h-1zM46 587h1v1h-1zM31 589h1v1h-1zM56 589h1v1h-1zM82 589h1v1h-1zM24 590h1v1h-1zM2 591h1v1h-1zM53 591h1v1h-1zM14 593h1v1h-1zM50 593h1v1h-1z"/>
<path fill="#0000df" d="M0 2h2v1h-2zM26 7h1v1h-1zM42 10h1v1h-1zM15 20h1v1h-1zM33 21h1v1h-1zM33 25h1v1h-1zM39 25h1v1h-1zM41 25h1v1h-1zM10 27h1v1h-1zM32 27h1v1h-1zM48 27h1v1h-1zM42 28h1v1h-1zM21 29h1v1h-1zM28 32h3v1h-3zM35 34h1v1h-1zM76 38h1v1h-1zM37 40h1v1h-1zM10 41h1v1h-1zM82 43h1v1h-1zM39 44h1v1h-1zM38 45h1v1h-1zM43 45h1v1h-1zM4 47h1v1h-1zM25 48h1v1h-1zM10 49h1v1h-1zM14 49h1v1h-1zM32 49h1v1h-1zM39 49h1v1h-1zM68 49h1v1h-1zM27 51h1v1h-1zM51 51h1v1h-1zM34 55h1v1h-1zM14 56h1v1h-1zM22 56h1v1h-1zM28 58h1v1h-1zM35 58h1v1h-1zM10 59h2v1h-2zM60 59h1v1h-1zM15 62h1v1h-1zM43 63h1v1h-1zM6 64h1v1h-1zM46 65h1v1h-1zM41 66h1v1h-1zM44 66h1v1h-1zM80 66h1v1h-1zM8 69h1v1h-1zM7 70h1v1h-1zM43 70h2v1h-2zM48 70h1v1h-1zM12 72h1v1h-1zM1 74h1v1h-1zM4 74h1v1h-1zM38 74h1v1h-1zM334 75h1v1h-1zM4 76h1v1h-1zM49 77h1v1h-1zM23 78h1v1h-1zM51 79h1v1h-1zM20 80h1v1h-1zM44 80h1v1h-1zM180 80h1v1h-1zM20 81h1v1h-1zM44 81h1v1h-1zM180 82h1v1h-1zM269 83h1v1h-1zM255 84h1v1h-1zM18 86h1v1h-1zM305 87h1v1h-1zM13 88h1v1h-1zM26 88h1v1h-1zM191 88h1v1h-1zM246 88h1v1h-1zM77 89h1v1h-1zM142 90h1v1h-1zM67 91h1v1h-1zM166 91h1v1h-1zM2 94h1v1h-1zM9 94h1v1h-1zM43 94h1v1h-1zM47 95h1v1h-1zM51 97h1v1h-1zM26 99h1v1h-1zM6 101h1v1h-1zM167 103h1v1h-1zM42 105h1v1h-1zM169 105h1v1h-1zM19 106h1v1h-1zM53 106h1v1h-1zM56 108h1v1h-1zM52 111h1v1h-1zM27 113h1v1h-1zM54 113h1v1h-1zM4 115h1v1h-1zM27 116h1v1h-1zM54 116h2v1h-2zM52 117h1v1h-1zM15 119h1v1h-1zM32 121h1v1h-1zM52 122h1v1h-1zM75 123h1v1h-1zM59 128h1v1h-1zM1 129h1v1h-1zM38 134h1v1h-1zM61 134h1v1h-1zM26 138h1v1h-1zM38 138h1v1h-1zM76 138h1v1h-1zM11 141h1v1h-1zM45 142h1v1h-1zM41 145h1v1h-1zM58 155h1v1h-1zM28 158h1v1h-1zM0 159h1v1h-1zM79 164h1v1h-1zM81 165h1v1h-1zM65 167h1v1h-1zM76 168h2v1h-2zM81 170h1v1h-1zM81 172h2v1h-2zM52 174h1v1h-1zM55 175h1v1h-1zM81 175h1v1h-1zM20 181h1v1h-1zM81 186h1v1h-1zM77 189h1v1h-1zM82 192h1v1h-1zM66 193h1v1h-1zM82 194h1v1h-1zM33 195h1v1h-1zM77 195h1v1h-1zM82 195h1v1h-1zM77 199h1v1h-1zM81 199h1v1h-1zM77 201h1v1h-1zM58 203h1v1h-1zM35 208h1v1h-1zM38 209h2v1h-2zM77 210h1v1h-1zM82 210h1v1h-1zM22 212h1v1h-1zM77 212h1v1h-1zM36 215h1v1h-1zM14 216h1v1h-1zM38 217h1v1h-1zM32 219h1v1h-1zM28 221h1v1h-1zM97 221h1v1h-1zM29 222h1v1h-1zM48 224h1v1h-1zM68 226h1v1h-1zM29 227h1v1h-1zM24 228h1v1h-1zM27 229h1v1h-1zM44 232h1v1h-1zM22 234h1v1h-1zM31 234h1v1h-1zM22 235h1v1h-1zM61 238h1v1h-1zM8 239h1v1h-1zM3 240h2v1h-2zM30 241h1v1h-1zM79 241h1v1h-1zM11 242h1v1h-1zM18 242h1v1h-1zM68 243h1v1h-1zM40 245h1v1h-1zM24 246h1v1h-1zM26 246h1v1h-1zM143 246h1v1h-1zM37 251h1v1h-1zM1 253h1v1h-1zM200 254h1v1h-1zM246 254h1v1h-1zM59 255h1v1h-1zM0 257h1v1h-1zM232 257h1v1h-1zM277 257h1v1h-1zM212 258h1v1h-1zM177 261h1v1h-1zM319 262h1v1h-1zM177 263h1v1h-1zM286 263h1v1h-1zM168 266h1v1h-1zM8 271h1v1h-1zM7 272h1v1h-1zM32 272h1v1h-1zM0 274h1v1h-1zM57 275h1v1h-1zM10 276h1v1h-1zM53 276h1v1h-1zM49 280h1v1h-1zM96 281h1v1h-1zM315 281h1v1h-1zM7 282h1v1h-1zM96 284h1v1h-1zM49 285h1v1h-1zM97 285h1v1h-1zM97 286h1v1h-1zM19 288h1v1h-1zM16 291h1v1h-1zM54 291h1v1h-1zM63 294h1v1h-1zM62 299h1v1h-1zM73 301h1v1h-1zM39 305h1v1h-1zM71 305h1v1h-1zM22 312h1v1h-1zM53 316h1v1h-1zM56 316h1v1h-1zM9 319h1v1h-1zM65 321h1v1h-1zM6 324h1v1h-1zM4 325h1v1h-1zM68 326h1v1h-1zM77 327h1v1h-1zM26 328h1v1h-1zM76 330h1v1h-1zM75 331h1v1h-1zM69 334h1v1h-1zM76 334h1v1h-1zM81 336h1v1h-1zM15 338h1v1h-1zM15 339h1v1h-1zM9 341h1v1h-1zM49 343h1v1h-1zM81 345h1v1h-1zM13 346h1v1h-1zM7 348h1v1h-1zM67 348h1v1h-1zM55 351h1v1h-1zM12 352h1v1h-1zM50 352h1v1h-1zM26 353h1v1h-1zM31 358h1v1h-1zM14 362h1v1h-1zM17 363h2v1h-2zM16 366h1v1h-1zM1 373h1v1h-1zM55 375h1v1h-1zM65 377h1v1h-1zM76 378h1v1h-1zM2 380h1v1h-1zM5 382h1v1h-1zM70 382h1v1h-1zM47 386h1v1h-1zM67 386h1v1h-1zM14 387h1v1h-1zM52 388h1v1h-1zM44 391h1v1h-1zM20 392h1v1h-1zM79 392h1v1h-1zM25 393h1v1h-1zM28 393h1v1h-1zM43 395h1v1h-1zM36 397h1v1h-1zM34 398h1v1h-1zM25 399h1v1h-1zM76 399h1v1h-1zM25 401h1v1h-1zM82 403h1v1h-1zM32 404h1v1h-1zM40 404h1v1h-1zM19 405h1v1h-1zM40 407h1v1h-1zM24 410h2v1h-2zM35 410h1v1h-1zM38 410h1v1h-1zM42 410h1v1h-1zM65 411h1v1h-1zM68 412h1v1h-1zM36 413h1v1h-1zM35 415h1v1h-1zM13 416h1v1h-1zM21 416h1v1h-1zM31 416h1v1h-1zM43 416h1v1h-1zM22 417h1v1h-1zM20 419h1v1h-1zM43 419h1v1h-1zM22 420h1v1h-1zM4 421h1v1h-1zM12 421h1v1h-1zM14 423h1v1h-1zM15 425h2v1h-2zM18 426h1v1h-1zM5 427h1v1h-1zM67 428h1v1h-1zM14 429h1v1h-1zM16 429h1v1h-1zM0 432h1v1h-1zM73 432h1v1h-1zM26 434h1v1h-1zM31 434h1v1h-1zM161 436h1v1h-1zM51 437h1v1h-1zM53 440h1v1h-1zM143 441h1v1h-1zM45 442h1v1h-1zM130 443h1v1h-1zM217 445h1v1h-1zM8 447h1v1h-1zM19 448h1v1h-1zM262 449h1v1h-1zM165 451h1v1h-1zM42 452h1v1h-1zM141 452h1v1h-1zM53 453h1v1h-1zM228 453h1v1h-1zM1 454h1v1h-1zM0 455h1v1h-1zM11 455h1v1h-1zM0 456h1v1h-1zM3 459h1v1h-1zM21 459h1v1h-1zM26 459h1v1h-1zM52 462h1v1h-1zM51 463h1v1h-1zM20 468h1v1h-1zM4 469h1v1h-1zM14 469h1v1h-1zM25 469h1v1h-1zM52 469h1v1h-1zM54 469h1v1h-1zM50 475h1v1h-1zM55 475h1v1h-1zM56 476h1v1h-1zM31 477h1v1h-1zM1 478h1v1h-1zM51 479h1v1h-1zM49 481h1v1h-1zM53 484h1v1h-1zM60 485h1v1h-1zM36 486h1v1h-1zM16 488h1v1h-1zM64 488h1v1h-1zM59 491h1v1h-1zM49 492h1v1h-1zM65 492h1v1h-1zM55 493h1v1h-1zM63 496h1v1h-1zM14 498h1v1h-1zM27 498h1v1h-1zM57 499h1v1h-1zM58 504h1v1h-1zM14 506h1v1h-1zM22 507h1v1h-1zM67 507h1v1h-1zM60 509h1v1h-1zM79 509h1v1h-1zM4 511h1v1h-1zM42 513h1v1h-1zM10 514h1v1h-1zM68 515h1v1h-1zM29 516h1v1h-1zM62 516h1v1h-1zM8 518h1v1h-1zM41 518h1v1h-1zM65 518h1v1h-1zM11 519h1v1h-1zM32 523h1v1h-1zM51 524h1v1h-1zM13 525h1v1h-1zM51 525h1v1h-1zM7 527h1v1h-1zM5 528h1v1h-1zM16 530h1v1h-1zM7 532h1v1h-1zM61 535h1v1h-1zM67 536h1v1h-1zM34 538h1v1h-1zM70 538h1v1h-1zM49 542h1v1h-1zM74 543h2v1h-2zM16 544h1v1h-1zM82 544h1v1h-1zM41 545h1v1h-1zM5 547h1v1h-1zM6 548h1v1h-1zM1 549h1v1h-1zM7 550h1v1h-1zM8 552h1v1h-1zM20 552h1v1h-1zM24 552h1v1h-1zM0 556h1v1h-1zM21 557h1v1h-1zM77 557h1v1h-1zM51 558h1v1h-1zM31 560h1v1h-1zM81 560h1v1h-1zM66 561h1v1h-1zM31 562h1v1h-1zM80 562h1v1h-1zM34 563h1v1h-1zM80 565h1v1h-1zM4 566h1v1h-1zM37 567h1v1h-1zM58 567h1v1h-1zM24 568h1v1h-1zM40 568h1v1h-1zM59 568h1v1h-1zM38 570h1v1h-1zM65 573h1v1h-1zM10 574h1v1h-1zM40 574h1v1h-1zM10 577h1v1h-1zM38 577h1v1h-1zM22 580h1v1h-1zM66 580h1v1h-1zM51 583h1v1h-1zM50 584h1v1h-1zM76 588h1v1h-1zM58 591h1v1h-1zM66 594h1v1h-1z"/>
<path fill="#0000ef" d="M29 25h1v1h-1zM10 26h1v1h-1zM32 28h1v1h-1zM36 28h1v1h-1zM56 28h1v1h-1zM36 31h2v1h-2zM34 32h1v1h-1zM37 32h1v1h-1zM32 33h1v1h-1zM26 34h1v1h-1zM26 35h1v1h-1zM22 37h1v1h-1zM29 37h1v1h-1zM38 38h1v1h-1zM32 42h1v1h-1zM35 42h1v1h-1zM37 43h1v1h-1zM41 43h1v1h-1zM31 44h1v1h-1zM39 47h2v1h-2zM33 48h1v1h-1zM15 49h1v1h-1zM24 51h1v1h-1zM27 52h1v1h-1zM40 52h1v1h-1zM35 55h1v1h-1zM80 58h1v1h-1zM42 59h1v1h-1zM24 60h1v1h-1zM14 62h1v1h-1zM19 62h1v1h-1zM12 63h1v1h-1zM29 63h1v1h-1zM19 65h1v1h-1zM33 65h1v1h-1zM11 66h1v1h-1zM24 66h1v1h-1zM75 67h1v1h-1zM12 69h1v1h-1zM148 72h1v1h-1zM2 78h1v1h-1zM153 79h1v1h-1zM207 80h1v1h-1zM13 81h1v1h-1zM181 81h1v1h-1zM21 82h1v1h-1zM45 82h1v1h-1zM206 82h1v1h-1zM226 82h1v1h-1zM1 83h1v1h-1zM123 83h1v1h-1zM205 85h1v1h-1zM165 86h1v1h-1zM258 86h1v1h-1zM50 89h1v1h-1zM4 91h1v1h-1zM197 91h1v1h-1zM7 96h1v1h-1zM31 97h1v1h-1zM1 104h1v1h-1zM54 106h1v1h-1zM4 109h1v1h-1zM76 161h1v1h-1zM82 167h1v1h-1zM76 176h2v1h-2zM9 178h1v1h-1zM82 180h1v1h-1zM77 183h1v1h-1zM82 185h1v1h-1zM76 186h1v1h-1zM77 187h1v1h-1zM90 190h1v1h-1zM81 191h1v1h-1zM61 196h1v1h-1zM82 196h1v1h-1zM31 205h1v1h-1zM76 206h1v1h-1zM82 206h1v1h-1zM77 207h1v1h-1zM40 208h1v1h-1zM77 208h1v1h-1zM82 208h1v1h-1zM33 209h1v1h-1zM77 209h1v1h-1zM32 210h2v1h-2zM76 212h1v1h-1zM26 213h1v1h-1zM76 214h2v1h-2zM77 216h1v1h-1zM81 218h1v1h-1zM45 219h1v1h-1zM30 223h1v1h-1zM36 223h1v1h-1zM77 223h1v1h-1zM1 224h1v1h-1zM22 224h1v1h-1zM76 224h1v1h-1zM41 225h1v1h-1zM20 226h1v1h-1zM49 226h1v1h-1zM35 227h1v1h-1zM41 227h1v1h-1zM35 229h2v1h-2zM41 230h1v1h-1zM54 230h1v1h-1zM43 231h1v1h-1zM16 232h1v1h-1zM14 233h1v1h-1zM13 234h1v1h-1zM26 236h1v1h-1zM46 236h1v1h-1zM30 237h1v1h-1zM71 238h1v1h-1zM10 240h1v1h-1zM51 241h1v1h-1zM36 242h1v1h-1zM46 242h1v1h-1zM24 244h1v1h-1zM149 244h1v1h-1zM37 245h1v1h-1zM44 248h1v1h-1zM23 249h1v1h-1zM3 250h1v1h-1zM28 251h1v1h-1zM47 251h1v1h-1zM18 252h1v1h-1zM10 253h1v1h-1zM16 253h1v1h-1zM18 255h1v1h-1zM334 255h1v1h-1zM335 256h1v1h-1zM11 259h1v1h-1zM292 260h1v1h-1zM9 261h1v1h-1zM224 261h1v1h-1zM305 261h1v1h-1zM2 264h1v1h-1zM239 264h1v1h-1zM241 264h1v1h-1zM169 266h1v1h-1zM2 270h1v1h-1zM0 271h1v1h-1zM53 272h1v1h-1zM64 274h1v1h-1zM166 275h1v1h-1zM96 282h1v1h-1zM96 285h1v1h-1zM57 294h1v1h-1zM61 308h1v1h-1zM81 318h1v1h-1zM57 319h1v1h-1zM82 319h1v1h-1zM41 324h1v1h-1zM82 324h1v1h-1zM45 327h1v1h-1zM77 330h1v1h-1zM77 333h1v1h-1zM82 333h1v1h-1zM77 341h1v1h-1zM6 343h1v1h-1zM22 368h1v1h-1zM59 381h1v1h-1zM36 388h1v1h-1zM39 389h1v1h-1zM38 390h1v1h-1zM39 391h1v1h-1zM38 395h1v1h-1zM33 401h1v1h-1zM29 402h1v1h-1zM28 405h1v1h-1zM40 405h1v1h-1zM25 406h1v1h-1zM37 406h1v1h-1zM39 407h1v1h-1zM37 408h1v1h-1zM41 408h1v1h-1zM28 410h1v1h-1zM35 411h1v1h-1zM19 413h1v1h-1zM37 415h1v1h-1zM17 417h1v1h-1zM13 418h1v1h-1zM30 418h1v1h-1zM8 419h1v1h-1zM22 419h1v1h-1zM31 420h1v1h-1zM113 420h1v1h-1zM2 422h1v1h-1zM9 425h1v1h-1zM7 426h1v1h-1zM8 428h1v1h-1zM10 430h1v1h-1zM32 430h1v1h-1zM36 431h1v1h-1zM49 431h1v1h-1zM8 433h1v1h-1zM160 435h1v1h-1zM8 436h2v1h-2zM21 438h1v1h-1zM45 441h1v1h-1zM211 442h1v1h-1zM155 443h1v1h-1zM205 444h1v1h-1zM258 444h1v1h-1zM155 445h1v1h-1zM259 445h1v1h-1zM11 446h1v1h-1zM338 446h1v1h-1zM62 448h1v1h-1zM238 449h1v1h-1zM276 449h1v1h-1zM164 450h1v1h-1zM263 450h1v1h-1zM248 451h1v1h-1zM51 453h2v1h-2zM136 453h1v1h-1zM13 454h1v1h-1zM42 455h1v1h-1zM264 456h1v1h-1zM5 459h1v1h-1zM3 460h1v1h-1zM311 460h1v1h-1zM54 462h1v1h-1zM171 462h1v1h-1zM59 473h1v1h-1zM42 477h1v1h-1zM50 486h1v1h-1zM55 488h1v1h-1zM63 490h1v1h-1zM50 491h1v1h-1zM27 497h1v1h-1zM74 503h1v1h-1zM63 510h1v1h-1zM76 514h1v1h-1zM6 517h1v1h-1zM61 519h1v1h-1zM61 521h1v1h-1zM22 524h1v1h-1zM28 524h1v1h-1zM74 530h1v1h-1zM40 538h1v1h-1zM69 541h1v1h-1zM35 544h1v1h-1zM8 547h1v1h-1zM17 555h1v1h-1zM58 556h1v1h-1zM80 578h1v1h-1zM57 582h1v1h-1zM24 583h1v1h-1z"/>
<path fill="#0000ff" d="M38 0h1v1h-1zM30 23h1v1h-1zM34 24h1v1h-1zM28 25h1v1h-1zM38 26h1v1h-1zM28 28h1v1h-1zM34 28h1v1h-1zM33 29h1v1h-1zM29 35h1v1h-1zM15 38h1v1h-1zM25 39h1v1h-1zM27 40h1v1h-1zM27 43h1v1h-1zM25 45h1v1h-1zM33 47h2v1h-2zM28 48h1v1h-1zM41 48h1v1h-1zM59 48h1v1h-1zM29 50h1v1h-1zM24 52h1v1h-1zM30 53h1v1h-1zM21 54h1v1h-1zM40 56h1v1h-1zM26 59h1v1h-1zM39 60h1v1h-1zM7 61h1v1h-1zM29 61h1v1h-1zM15 64h1v1h-1zM40 64h1v1h-1zM15 65h1v1h-1zM27 65h1v1h-1zM1 66h1v1h-1zM45 66h1v1h-1zM24 67h1v1h-1zM34 67h1v1h-1zM17 68h1v1h-1zM25 68h1v1h-1zM27 68h1v1h-1zM1 69h1v1h-1zM38 69h1v1h-1zM12 70h1v1h-1zM27 70h1v1h-1zM17 71h1v1h-1zM38 71h1v1h-1zM45 71h1v1h-1zM7 72h1v1h-1zM14 72h1v1h-1zM15 76h1v1h-1zM44 77h1v1h-1zM39 78h1v1h-1zM150 78h1v1h-1zM74 81h1v1h-1zM213 81h1v1h-1zM238 81h1v1h-1zM225 83h1v1h-1zM304 85h1v1h-1zM67 86h1v1h-1zM240 86h1v1h-1zM6 87h1v1h-1zM14 87h1v1h-1zM29 87h1v1h-1zM219 88h1v1h-1zM222 89h1v1h-1zM165 90h1v1h-1zM276 90h1v1h-1zM5 91h1v1h-1zM186 93h1v1h-1zM7 94h1v1h-1zM166 95h1v1h-1zM10 96h1v1h-1zM7 99h1v1h-1zM166 99h1v1h-1zM52 104h1v1h-1zM42 128h1v1h-1zM43 133h1v1h-1zM23 134h1v1h-1zM81 147h1v1h-1zM77 160h1v1h-1zM81 162h2v1h-2zM81 163h1v1h-1zM82 164h1v1h-1zM46 168h1v1h-1zM81 168h1v1h-1zM81 171h1v1h-1zM76 174h1v1h-1zM77 175h1v1h-1zM76 177h1v1h-1zM82 183h1v1h-1zM77 184h1v1h-1zM11 188h1v1h-1zM76 195h1v1h-1zM82 199h1v1h-1zM79 200h1v1h-1zM82 203h1v1h-1zM38 212h1v1h-1zM83 212h1v1h-1zM24 214h1v1h-1zM41 214h1v1h-1zM41 216h1v1h-1zM43 216h1v1h-1zM25 219h1v1h-1zM37 223h1v1h-1zM35 224h1v1h-1zM49 224h1v1h-1zM39 225h1v1h-1zM23 226h1v1h-1zM53 226h1v1h-1zM80 227h1v1h-1zM44 229h1v1h-1zM44 230h1v1h-1zM27 231h1v1h-1zM15 232h1v1h-1zM25 233h1v1h-1zM29 233h1v1h-1zM46 233h1v1h-1zM5 237h1v1h-1zM11 237h1v1h-1zM2 238h1v1h-1zM23 241h1v1h-1zM0 243h1v1h-1zM4 243h1v1h-1zM10 243h1v1h-1zM35 244h1v1h-1zM37 244h1v1h-1zM6 246h1v1h-1zM42 246h1v1h-1zM6 247h1v1h-1zM10 247h1v1h-1zM23 247h1v1h-1zM46 247h1v1h-1zM40 249h1v1h-1zM5 253h1v1h-1zM12 253h1v1h-1zM341 253h1v1h-1zM188 254h1v1h-1zM251 254h1v1h-1zM193 255h1v1h-1zM213 255h1v1h-1zM144 256h1v1h-1zM330 257h1v1h-1zM187 260h1v1h-1zM282 261h1v1h-1zM294 261h1v1h-1zM329 261h1v1h-1zM242 264h1v1h-1zM7 266h1v1h-1zM167 270h1v1h-1zM379 271h1v1h-1zM28 273h1v1h-1zM53 281h1v1h-1zM55 286h1v1h-1zM5 287h1v1h-1zM56 294h1v1h-1zM7 306h1v1h-1zM35 312h1v1h-1zM5 316h1v1h-1zM82 320h1v1h-1zM82 321h1v1h-1zM15 322h1v1h-1zM77 326h1v1h-1zM15 329h1v1h-1zM82 329h1v1h-1zM76 331h1v1h-1zM81 334h1v1h-1zM15 335h1v1h-1zM81 337h1v1h-1zM5 340h1v1h-1zM76 340h1v1h-1zM15 343h1v1h-1zM76 345h1v1h-1zM43 362h1v1h-1zM47 364h1v1h-1zM33 385h1v1h-1zM36 395h1v1h-1zM35 399h1v1h-1zM36 402h1v1h-1zM56 403h1v1h-1zM28 404h1v1h-1zM23 405h1v1h-1zM41 413h1v1h-1zM24 414h1v1h-1zM20 415h1v1h-1zM37 416h2v1h-2zM23 417h1v1h-1zM15 421h1v1h-1zM13 422h1v1h-1zM39 424h1v1h-1zM67 425h1v1h-1zM1 427h1v1h-1zM12 428h1v1h-1zM33 430h1v1h-1zM24 431h1v1h-1zM39 432h1v1h-1zM51 432h1v1h-1zM24 434h1v1h-1zM45 436h1v1h-1zM1 437h1v1h-1zM41 437h1v1h-1zM126 439h1v1h-1zM128 440h1v1h-1zM215 440h1v1h-1zM18 441h1v1h-1zM2 442h1v1h-1zM12 443h1v1h-1zM46 443h1v1h-1zM196 443h1v1h-1zM13 444h1v1h-1zM254 445h1v1h-1zM344 446h1v1h-1zM50 447h1v1h-1zM184 447h1v1h-1zM203 448h1v1h-1zM208 448h1v1h-1zM183 449h1v1h-1zM345 449h1v1h-1zM13 450h1v1h-1zM50 451h1v1h-1zM341 451h1v1h-1zM28 452h1v1h-1zM181 452h1v1h-1zM224 452h1v1h-1zM28 455h1v1h-1zM11 456h1v1h-1zM267 456h1v1h-1zM0 458h1v1h-1zM55 465h1v1h-1zM55 468h1v1h-1zM4 489h1v1h-1zM56 490h1v1h-1zM58 491h1v1h-1zM75 491h1v1h-1zM30 492h1v1h-1zM9 506h1v1h-1zM59 507h1v1h-1zM11 508h1v1h-1zM6 514h1v1h-1zM61 514h1v1h-1zM59 518h1v1h-1zM11 520h1v1h-1zM27 520h1v1h-1zM81 520h1v1h-1zM22 522h1v1h-1zM44 527h1v1h-1zM46 527h1v1h-1zM10 529h1v1h-1zM37 534h1v1h-1zM65 536h1v1h-1zM28 539h1v1h-1zM75 540h1v1h-1zM28 544h1v1h-1zM25 561h1v1h-1zM82 563h1v1h-1zM25 564h1v1h-1zM19 569h1v1h-1zM82 570h1v1h-1zM13 571h1v1h-1zM24 573h1v1h-1zM50 589h1v1h-1z"/>
<path fill="#0010ff" d="M76 12h1v1h-1zM35 27h1v1h-1zM37 28h1v1h-1zM35 33h1v1h-1zM10 34h1v1h-1zM27 39h1v1h-1zM31 39h1v1h-1zM33 39h1v1h-1zM32 41h1v1h-1zM41 41h1v1h-1zM39 45h1v1h-1zM28 49h1v1h-1zM15 50h1v1h-1zM11 52h1v1h-1zM33 52h1v1h-1zM34 56h1v1h-1zM32 57h1v1h-1zM26 58h1v1h-1zM25 59h1v1h-1zM75 59h1v1h-1zM17 62h1v1h-1zM24 62h1v1h-1zM40 62h1v1h-1zM9 63h1v1h-1zM40 63h1v1h-1zM45 65h1v1h-1zM25 66h1v1h-1zM9 67h1v1h-1zM40 67h1v1h-1zM5 71h1v1h-1zM12 71h1v1h-1zM1 72h1v1h-1zM6 72h1v1h-1zM15 73h1v1h-1zM372 73h2v1h-2zM5 74h1v1h-1zM14 75h1v1h-1zM48 75h1v1h-1zM41 77h1v1h-1zM181 79h1v1h-1zM38 82h1v1h-1zM237 82h2v1h-2zM3 86h1v1h-1zM199 86h1v1h-1zM224 86h1v1h-1zM47 87h1v1h-1zM263 87h1v1h-1zM8 89h1v1h-1zM60 90h1v1h-1zM127 90h1v1h-1zM234 90h1v1h-1zM66 91h1v1h-1zM4 95h1v1h-1zM51 98h1v1h-1zM51 119h1v1h-1zM47 152h1v1h-1zM22 160h1v1h-1zM77 166h1v1h-1zM81 167h1v1h-1zM76 175h1v1h-1zM81 182h1v1h-1zM33 186h1v1h-1zM76 190h1v1h-1zM78 190h1v1h-1zM82 190h1v1h-1zM77 193h1v1h-1zM90 195h1v1h-1zM90 196h1v1h-1zM56 197h1v1h-1zM76 202h1v1h-1zM26 203h1v1h-1zM32 203h1v1h-1zM76 203h1v1h-1zM70 204h1v1h-1zM77 205h1v1h-1zM32 207h1v1h-1zM82 207h1v1h-1zM81 208h1v1h-1zM29 211h1v1h-1zM81 211h1v1h-1zM27 212h1v1h-1zM34 213h1v1h-1zM38 213h1v1h-1zM56 215h1v1h-1zM76 215h2v1h-2zM97 216h1v1h-1zM97 220h1v1h-1zM38 224h1v1h-1zM40 227h1v1h-1zM51 227h1v1h-1zM10 231h1v1h-1zM39 232h1v1h-1zM41 232h1v1h-1zM12 233h1v1h-1zM11 235h1v1h-1zM21 236h1v1h-1zM29 238h1v1h-1zM48 239h1v1h-1zM20 240h1v1h-1zM4 241h1v1h-1zM50 241h1v1h-1zM12 242h1v1h-1zM17 242h1v1h-1zM31 242h1v1h-1zM23 244h1v1h-1zM1 245h1v1h-1zM9 245h1v1h-1zM2 247h1v1h-1zM13 247h1v1h-1zM46 249h1v1h-1zM179 249h1v1h-1zM26 250h1v1h-1zM19 251h1v1h-1zM256 253h1v1h-1zM340 253h1v1h-1zM4 254h1v1h-1zM251 255h1v1h-1zM261 257h1v1h-1zM343 257h1v1h-1zM5 260h1v1h-1zM363 260h1v1h-1zM289 264h1v1h-1zM185 265h1v1h-1zM379 266h1v1h-1zM168 267h1v1h-1zM373 267h1v1h-1zM5 271h1v1h-1zM49 276h1v1h-1zM97 282h1v1h-1zM54 283h1v1h-1zM96 283h1v1h-1zM54 285h1v1h-1zM12 300h1v1h-1zM56 301h1v1h-1zM58 304h1v1h-1zM75 314h1v1h-1zM43 316h1v1h-1zM77 331h1v1h-1zM77 332h1v1h-1zM15 333h1v1h-1zM82 335h1v1h-1zM81 338h1v1h-1zM14 341h1v1h-1zM77 344h1v1h-1zM44 352h1v1h-1zM24 393h1v1h-1zM37 403h1v1h-1zM26 405h1v1h-1zM38 408h1v1h-1zM41 411h1v1h-1zM43 411h1v1h-1zM40 412h1v1h-1zM13 413h1v1h-1zM28 413h1v1h-1zM34 416h1v1h-1zM6 418h1v1h-1zM23 419h1v1h-1zM42 419h1v1h-1zM72 423h1v1h-1zM1 424h1v1h-1zM16 424h1v1h-1zM5 425h1v1h-1zM0 428h1v1h-1zM3 428h2v1h-2zM25 428h1v1h-1zM20 429h1v1h-1zM30 430h1v1h-1zM27 431h1v1h-1zM14 432h1v1h-1zM37 432h1v1h-1zM50 432h1v1h-1zM49 435h1v1h-1zM43 436h1v1h-1zM18 439h1v1h-1zM16 440h1v1h-1zM128 441h2v1h-2zM144 442h1v1h-1zM162 442h1v1h-1zM197 442h1v1h-1zM8 445h1v1h-1zM12 445h1v1h-1zM149 445h1v1h-1zM260 445h1v1h-1zM166 446h1v1h-1zM203 446h1v1h-1zM253 446h1v1h-1zM3 447h1v1h-1zM12 447h2v1h-2zM59 447h1v1h-1zM166 448h1v1h-1zM292 449h1v1h-1zM276 450h1v1h-1zM5 451h1v1h-1zM11 451h1v1h-1zM1 452h1v1h-1zM295 452h1v1h-1zM286 454h1v1h-1zM358 454h1v1h-1zM362 454h1v1h-1zM304 455h1v1h-1zM54 460h1v1h-1zM317 465h1v1h-1zM17 472h1v1h-1zM35 477h1v1h-1zM33 478h1v1h-1zM74 481h1v1h-1zM63 487h1v1h-1zM61 488h1v1h-1zM61 489h1v1h-1zM42 496h1v1h-1zM59 497h1v1h-1zM12 498h1v1h-1zM21 505h1v1h-1zM5 508h1v1h-1zM64 509h1v1h-1zM64 518h1v1h-1zM1 524h1v1h-1zM23 527h1v1h-1zM44 538h1v1h-1zM2 555h1v1h-1zM9 560h1v1h-1zM2 561h1v1h-1zM49 585h1v1h-1zM55 586h1v1h-1zM44 591h1v1h-1z"/>
<path fill="#0020ff" d="M56 21h1v1h-1zM30 31h1v1h-1zM36 34h1v1h-1zM37 35h1v1h-1zM33 40h1v1h-1zM33 42h1v1h-1zM35 43h1v1h-1zM38 43h1v1h-1zM30 48h1v1h-1zM29 51h2v1h-2zM32 51h1v1h-1zM32 52h1v1h-1zM37 52h2v1h-2zM43 52h1v1h-1zM20 53h1v1h-1zM24 53h1v1h-1zM34 53h1v1h-1zM17 56h1v1h-1zM25 56h1v1h-1zM19 57h1v1h-1zM20 58h1v1h-1zM12 59h1v1h-1zM26 61h1v1h-1zM9 64h1v1h-1zM17 64h1v1h-1zM43 65h1v1h-1zM35 66h1v1h-1zM30 67h1v1h-1zM45 68h1v1h-1zM16 69h1v1h-1zM28 70h1v1h-1zM5 73h1v1h-1zM40 73h2v1h-2zM44 73h1v1h-1zM10 74h1v1h-1zM3 76h1v1h-1zM48 77h1v1h-1zM147 80h1v1h-1zM227 80h1v1h-1zM184 82h1v1h-1zM17 83h1v1h-1zM301 84h1v1h-1zM7 85h2v1h-2zM131 85h1v1h-1zM146 85h1v1h-1zM236 85h1v1h-1zM2 86h1v1h-1zM8 86h1v1h-1zM145 87h1v1h-1zM10 88h1v1h-1zM1 90h1v1h-1zM185 90h1v1h-1zM8 91h1v1h-1zM4 98h1v1h-1zM50 104h1v1h-1zM54 107h1v1h-1zM55 109h1v1h-1zM67 113h1v1h-1zM67 114h1v1h-1zM10 144h1v1h-1zM68 152h1v1h-1zM76 169h1v1h-1zM76 170h1v1h-1zM76 172h1v1h-1zM76 179h1v1h-1zM76 183h1v1h-1zM8 184h1v1h-1zM81 184h1v1h-1zM76 187h1v1h-1zM18 188h1v1h-1zM76 188h1v1h-1zM76 191h1v1h-1zM24 195h1v1h-1zM77 198h1v1h-1zM81 198h1v1h-1zM81 200h1v1h-1zM60 201h1v1h-1zM90 201h1v1h-1zM10 202h1v1h-1zM37 202h1v1h-1zM28 204h1v1h-1zM82 205h1v1h-1zM81 206h1v1h-1zM37 207h1v1h-1zM81 207h1v1h-1zM49 208h1v1h-1zM59 208h1v1h-1zM90 208h1v1h-1zM49 209h1v1h-1zM72 210h1v1h-1zM49 211h1v1h-1zM26 212h1v1h-1zM83 213h1v1h-1zM82 215h1v1h-1zM97 215h1v1h-1zM41 217h1v1h-1zM49 217h1v1h-1zM82 217h1v1h-1zM96 217h2v1h-2zM40 218h1v1h-1zM83 218h1v1h-1zM49 219h1v1h-1zM81 219h1v1h-1zM49 220h1v1h-1zM27 221h1v1h-1zM36 222h1v1h-1zM38 223h1v1h-1zM83 223h1v1h-1zM37 224h1v1h-1zM25 225h1v1h-1zM31 225h1v1h-1zM49 225h1v1h-1zM24 230h1v1h-1zM42 230h1v1h-1zM24 231h1v1h-1zM28 231h1v1h-1zM45 231h1v1h-1zM13 233h1v1h-1zM42 233h1v1h-1zM41 234h1v1h-1zM2 237h1v1h-1zM18 237h1v1h-1zM10 238h1v1h-1zM45 238h1v1h-1zM21 240h1v1h-1zM38 240h1v1h-1zM61 240h1v1h-1zM75 240h1v1h-1zM0 241h1v1h-1zM2 241h1v1h-1zM37 241h1v1h-1zM38 242h1v1h-1zM71 242h1v1h-1zM160 242h1v1h-1zM6 243h1v1h-1zM47 243h1v1h-1zM157 243h1v1h-1zM24 245h1v1h-1zM149 246h1v1h-1zM1 249h1v1h-1zM12 251h1v1h-1zM179 251h1v1h-1zM181 252h1v1h-1zM201 254h1v1h-1zM19 256h1v1h-1zM50 259h1v1h-1zM52 260h1v1h-1zM8 262h1v1h-1zM170 264h1v1h-1zM12 265h1v1h-1zM168 268h1v1h-1zM4 271h1v1h-1zM166 274h1v1h-1zM0 277h1v1h-1zM4 278h1v1h-1zM13 283h1v1h-1zM9 297h1v1h-1zM50 297h1v1h-1zM68 297h1v1h-1zM90 298h1v1h-1zM90 308h1v1h-1zM22 314h1v1h-1zM82 317h1v1h-1zM82 325h1v1h-1zM77 328h1v1h-1zM82 328h1v1h-1zM81 329h1v1h-1zM14 338h1v1h-1zM50 348h1v1h-1zM53 364h1v1h-1zM82 368h1v1h-1zM22 370h1v1h-1zM58 389h1v1h-1zM71 389h1v1h-1zM31 391h1v1h-1zM36 391h1v1h-1zM40 394h1v1h-1zM30 395h1v1h-1zM35 395h1v1h-1zM31 396h1v1h-1zM35 398h1v1h-1zM38 400h1v1h-1zM25 403h1v1h-1zM34 410h1v1h-1zM23 412h1v1h-1zM15 414h1v1h-1zM27 414h1v1h-1zM35 414h1v1h-1zM13 415h1v1h-1zM19 416h1v1h-1zM18 421h1v1h-1zM41 422h1v1h-1zM32 423h1v1h-1zM25 425h1v1h-1zM42 425h1v1h-1zM16 426h1v1h-1zM15 429h1v1h-1zM0 430h1v1h-1zM13 430h1v1h-1zM28 430h1v1h-1zM120 431h1v1h-1zM11 432h1v1h-1zM25 432h1v1h-1zM21 433h1v1h-1zM73 434h1v1h-1zM160 434h1v1h-1zM17 439h1v1h-1zM76 440h1v1h-1zM126 440h1v1h-1zM15 441h1v1h-1zM49 443h1v1h-1zM12 444h1v1h-1zM123 446h1v1h-1zM343 446h1v1h-1zM125 448h1v1h-1zM71 450h1v1h-1zM8 451h1v1h-1zM331 451h1v1h-1zM10 452h1v1h-1zM8 453h1v1h-1zM15 453h1v1h-1zM169 453h1v1h-1zM190 453h1v1h-1zM2 454h1v1h-1zM8 455h1v1h-1zM169 455h1v1h-1zM174 455h1v1h-1zM1 456h1v1h-1zM6 457h1v1h-1zM40 457h1v1h-1zM82 457h1v1h-1zM288 457h1v1h-1zM52 463h1v1h-1zM56 477h1v1h-1zM55 481h1v1h-1zM58 483h1v1h-1zM58 500h1v1h-1zM58 502h1v1h-1zM16 505h1v1h-1zM63 505h1v1h-1zM9 511h1v1h-1zM0 512h1v1h-1zM10 517h1v1h-1zM59 523h1v1h-1zM74 528h1v1h-1zM55 530h1v1h-1zM39 548h1v1h-1zM46 561h1v1h-1zM47 572h1v1h-1zM47 577h1v1h-1zM68 577h1v1h-1zM17 578h1v1h-1zM74 578h1v1h-1zM5 580h1v1h-1zM69 589h1v1h-1z"/>
<path fill="#0030ff" d="M61 2h1v1h-1zM26 28h1v1h-1zM40 28h1v1h-1zM34 29h1v1h-1zM38 32h1v1h-1zM28 36h1v1h-1zM37 37h1v1h-1zM34 38h1v1h-1zM25 42h1v1h-1zM28 45h1v1h-1zM30 46h1v1h-1zM36 48h1v1h-1zM34 49h1v1h-1zM28 50h1v1h-1zM33 50h1v1h-1zM35 50h1v1h-1zM38 50h1v1h-1zM33 53h1v1h-1zM26 55h1v1h-1zM21 56h1v1h-1zM23 56h1v1h-1zM41 56h1v1h-1zM17 58h1v1h-1zM41 58h1v1h-1zM45 58h1v1h-1zM23 59h1v1h-1zM30 59h1v1h-1zM38 59h1v1h-1zM28 61h1v1h-1zM16 63h1v1h-1zM24 64h1v1h-1zM58 65h1v1h-1zM4 68h1v1h-1zM6 68h1v1h-1zM45 69h1v1h-1zM1 70h1v1h-1zM12 73h1v1h-1zM11 75h1v1h-1zM118 75h1v1h-1zM163 76h1v1h-1zM149 77h1v1h-1zM163 77h1v1h-1zM122 79h1v1h-1zM48 80h1v1h-1zM58 80h1v1h-1zM164 80h1v1h-1zM249 80h1v1h-1zM2 81h1v1h-1zM158 81h1v1h-1zM208 81h1v1h-1zM15 82h1v1h-1zM7 84h1v1h-1zM47 84h1v1h-1zM239 84h1v1h-1zM77 86h1v1h-1zM229 86h1v1h-1zM12 87h1v1h-1zM48 87h1v1h-1zM258 87h1v1h-1zM3 88h1v1h-1zM303 88h1v1h-1zM9 89h1v1h-1zM47 89h1v1h-1zM4 92h1v1h-1zM22 93h1v1h-1zM49 94h1v1h-1zM2 97h1v1h-1zM0 98h1v1h-1zM19 98h1v1h-1zM5 99h1v1h-1zM170 100h1v1h-1zM75 101h1v1h-1zM38 117h1v1h-1zM81 173h1v1h-1zM82 181h1v1h-1zM90 186h1v1h-1zM43 187h1v1h-1zM81 188h2v1h-2zM82 189h1v1h-1zM90 192h1v1h-1zM81 195h1v1h-1zM30 200h1v1h-1zM31 204h1v1h-1zM28 206h1v1h-1zM34 210h1v1h-1zM35 211h1v1h-1zM40 211h1v1h-1zM76 211h1v1h-1zM96 211h1v1h-1zM90 212h1v1h-1zM90 214h1v1h-1zM76 216h1v1h-1zM82 218h1v1h-1zM34 219h1v1h-1zM41 219h1v1h-1zM90 220h1v1h-1zM76 221h1v1h-1zM44 222h1v1h-1zM90 223h1v1h-1zM32 229h1v1h-1zM38 230h1v1h-1zM38 231h1v1h-1zM17 233h1v1h-1zM8 235h1v1h-1zM40 236h1v1h-1zM22 239h1v1h-1zM49 240h1v1h-1zM13 242h1v1h-1zM49 243h1v1h-1zM63 243h1v1h-1zM7 244h1v1h-1zM27 244h1v1h-1zM50 244h1v1h-1zM2 246h1v1h-1zM51 247h1v1h-1zM149 247h1v1h-1zM13 248h1v1h-1zM16 248h1v1h-1zM13 249h1v1h-1zM162 252h1v1h-1zM47 255h1v1h-1zM211 256h1v1h-1zM8 257h1v1h-1zM208 257h1v1h-1zM9 258h1v1h-1zM140 258h1v1h-1zM211 258h1v1h-1zM392 258h1v1h-1zM12 259h1v1h-1zM244 259h1v1h-1zM338 259h1v1h-1zM221 260h1v1h-1zM12 262h1v1h-1zM268 262h1v1h-1zM31 263h1v1h-1zM1 264h1v1h-1zM184 264h1v1h-1zM7 267h1v1h-1zM53 267h1v1h-1zM49 275h1v1h-1zM0 279h1v1h-1zM56 280h1v1h-1zM57 295h1v1h-1zM106 301h1v1h-1zM90 306h1v1h-1zM22 308h1v1h-1zM65 309h1v1h-1zM79 315h1v1h-1zM81 317h1v1h-1zM81 319h1v1h-1zM3 320h1v1h-1zM81 321h1v1h-1zM81 322h1v1h-1zM81 323h1v1h-1zM77 325h1v1h-1zM76 327h1v1h-1zM76 329h1v1h-1zM15 332h1v1h-1zM76 333h1v1h-1zM82 338h1v1h-1zM14 343h1v1h-1zM36 349h1v1h-1zM70 367h1v1h-1zM64 370h1v1h-1zM13 391h1v1h-1zM34 396h1v1h-1zM40 398h1v1h-1zM34 400h1v1h-1zM42 400h1v1h-1zM68 400h1v1h-1zM18 401h1v1h-1zM28 401h1v1h-1zM40 403h1v1h-1zM43 405h1v1h-1zM26 407h1v1h-1zM23 408h1v1h-1zM23 409h1v1h-1zM25 409h1v1h-1zM39 410h1v1h-1zM42 411h1v1h-1zM30 412h1v1h-1zM35 413h1v1h-1zM19 418h1v1h-1zM22 421h1v1h-1zM12 422h1v1h-1zM20 423h1v1h-1zM26 423h1v1h-1zM46 423h1v1h-1zM12 424h1v1h-1zM47 424h1v1h-1zM48 425h1v1h-1zM46 426h1v1h-1zM22 427h1v1h-1zM21 428h1v1h-1zM2 430h1v1h-1zM27 430h1v1h-1zM34 430h1v1h-1zM47 430h2v1h-2zM4 431h1v1h-1zM4 432h1v1h-1zM27 432h2v1h-2zM18 433h1v1h-1zM18 434h1v1h-1zM7 437h1v1h-1zM50 437h1v1h-1zM48 439h1v1h-1zM121 440h1v1h-1zM9 441h1v1h-1zM14 442h1v1h-1zM7 444h1v1h-1zM212 445h1v1h-1zM366 446h1v1h-1zM10 447h1v1h-1zM211 447h1v1h-1zM0 448h1v1h-1zM3 451h1v1h-1zM306 451h1v1h-1zM227 453h1v1h-1zM3 454h1v1h-1zM389 455h1v1h-1zM283 456h1v1h-1zM174 458h1v1h-1zM302 459h1v1h-1zM310 460h1v1h-1zM173 462h1v1h-1zM22 464h1v1h-1zM55 469h1v1h-1zM52 470h1v1h-1zM53 473h1v1h-1zM54 476h1v1h-1zM55 477h1v1h-1zM56 478h1v1h-1zM53 480h1v1h-1zM22 482h1v1h-1zM57 482h1v1h-1zM79 482h1v1h-1zM56 483h1v1h-1zM57 486h1v1h-1zM30 490h1v1h-1zM10 491h1v1h-1zM58 492h1v1h-1zM60 493h1v1h-1zM54 496h1v1h-1zM57 496h1v1h-1zM59 498h1v1h-1zM61 498h1v1h-1zM63 499h1v1h-1zM57 500h1v1h-1zM61 502h1v1h-1zM59 503h1v1h-1zM60 504h1v1h-1zM60 505h1v1h-1zM61 508h1v1h-1zM61 516h1v1h-1zM16 519h1v1h-1zM60 520h1v1h-1zM29 530h1v1h-1zM50 533h1v1h-1zM53 538h1v1h-1zM33 546h1v1h-1zM56 548h1v1h-1zM76 554h1v1h-1zM60 560h1v1h-1zM62 569h1v1h-1zM69 575h1v1h-1zM76 580h1v1h-1zM17 583h1v1h-1zM47 591h1v1h-1z"/>
<path fill="#0040ff" d="M58 0h1v1h-1zM31 25h1v1h-1zM59 27h1v1h-1zM27 33h1v1h-1zM34 40h1v1h-1zM33 41h1v1h-1zM39 43h1v1h-1zM36 51h1v1h-1zM27 53h1v1h-1zM29 55h1v1h-1zM39 55h1v1h-1zM18 56h1v1h-1zM36 59h1v1h-1zM17 61h1v1h-1zM18 62h1v1h-1zM42 64h1v1h-1zM40 65h1v1h-1zM23 66h1v1h-1zM42 68h1v1h-1zM3 70h1v1h-1zM10 70h1v1h-1zM7 73h1v1h-1zM46 73h1v1h-1zM2 75h1v1h-1zM335 75h1v1h-1zM252 78h1v1h-1zM81 80h1v1h-1zM0 81h1v1h-1zM14 81h1v1h-1zM4 85h1v1h-1zM1 86h1v1h-1zM6 86h1v1h-1zM287 86h1v1h-1zM204 87h1v1h-1zM6 88h2v1h-2zM192 88h1v1h-1zM12 89h1v1h-1zM11 90h1v1h-1zM276 91h1v1h-1zM6 92h1v1h-1zM48 92h1v1h-1zM234 92h1v1h-1zM136 93h1v1h-1zM166 96h1v1h-1zM138 97h1v1h-1zM17 110h1v1h-1zM51 113h1v1h-1zM45 116h1v1h-1zM50 136h1v1h-1zM41 151h1v1h-1zM57 166h1v1h-1zM68 180h1v1h-1zM33 190h1v1h-1zM33 196h1v1h-1zM9 197h1v1h-1zM76 197h1v1h-1zM33 201h1v1h-1zM33 204h1v1h-1zM30 206h1v1h-1zM35 206h1v1h-1zM49 207h1v1h-1zM81 212h1v1h-1zM34 216h1v1h-1zM40 217h1v1h-1zM45 217h1v1h-1zM90 217h1v1h-1zM49 218h1v1h-1zM97 218h1v1h-1zM30 219h1v1h-1zM96 220h1v1h-1zM38 221h1v1h-1zM83 221h1v1h-1zM96 221h1v1h-1zM96 222h1v1h-1zM29 223h1v1h-1zM83 227h1v1h-1zM40 230h1v1h-1zM37 231h1v1h-1zM36 232h1v1h-1zM37 235h1v1h-1zM45 235h1v1h-1zM9 236h1v1h-1zM32 236h1v1h-1zM29 237h1v1h-1zM14 238h1v1h-1zM46 240h1v1h-1zM90 240h1v1h-1zM49 241h1v1h-1zM4 242h1v1h-1zM1 244h1v1h-1zM36 244h1v1h-1zM25 245h1v1h-1zM3 246h1v1h-1zM7 247h1v1h-1zM25 247h1v1h-1zM0 250h1v1h-1zM23 250h1v1h-1zM47 250h1v1h-1zM19 253h1v1h-1zM162 253h1v1h-1zM333 255h1v1h-1zM183 256h1v1h-1zM334 256h1v1h-1zM398 256h1v1h-1zM391 258h1v1h-1zM52 259h1v1h-1zM243 259h1v1h-1zM9 260h1v1h-1zM353 260h1v1h-1zM304 261h1v1h-1zM328 261h1v1h-1zM51 263h1v1h-1zM239 263h1v1h-1zM267 263h1v1h-1zM269 263h1v1h-1zM163 264h1v1h-1zM300 265h1v1h-1zM138 269h1v1h-1zM5 270h1v1h-1zM6 271h1v1h-1zM324 271h1v1h-1zM9 272h1v1h-1zM33 274h1v1h-1zM57 280h1v1h-1zM54 282h1v1h-1zM49 283h1v1h-1zM58 284h1v1h-1zM90 287h1v1h-1zM57 288h1v1h-1zM90 307h1v1h-1zM90 312h1v1h-1zM22 313h1v1h-1zM32 313h1v1h-1zM90 314h1v1h-1zM22 315h1v1h-1zM74 318h1v1h-1zM76 324h1v1h-1zM15 327h1v1h-1zM5 328h1v1h-1zM15 331h1v1h-1zM14 336h1v1h-1zM5 337h1v1h-1zM77 339h1v1h-1zM14 342h1v1h-1zM45 344h1v1h-1zM60 368h1v1h-1zM26 380h1v1h-1zM66 392h1v1h-1zM39 393h1v1h-1zM41 399h1v1h-1zM23 401h1v1h-1zM23 403h1v1h-1zM42 403h1v1h-1zM29 406h1v1h-1zM35 407h1v1h-1zM36 409h1v1h-1zM21 411h1v1h-1zM31 414h1v1h-1zM27 415h1v1h-1zM37 417h2v1h-2zM38 420h1v1h-1zM60 420h1v1h-1zM21 421h1v1h-1zM62 423h1v1h-1zM82 423h1v1h-1zM21 424h1v1h-1zM43 424h1v1h-1zM46 424h1v1h-1zM82 424h1v1h-1zM117 424h1v1h-1zM12 425h1v1h-1zM18 425h1v1h-1zM45 425h1v1h-1zM3 426h1v1h-1zM13 427h1v1h-1zM16 428h1v1h-1zM33 428h1v1h-1zM43 428h1v1h-1zM24 429h1v1h-1zM9 430h1v1h-1zM36 430h1v1h-1zM46 430h1v1h-1zM46 431h1v1h-1zM48 431h1v1h-1zM23 433h1v1h-1zM19 434h1v1h-1zM121 437h1v1h-1zM49 438h1v1h-1zM214 439h1v1h-1zM11 443h1v1h-1zM13 443h1v1h-1zM260 444h1v1h-1zM255 445h1v1h-1zM9 446h1v1h-1zM54 446h1v1h-1zM125 446h1v1h-1zM230 446h1v1h-1zM256 446h1v1h-1zM20 447h1v1h-1zM163 447h1v1h-1zM6 448h1v1h-1zM152 448h1v1h-1zM262 448h1v1h-1zM136 449h1v1h-1zM246 449h1v1h-1zM67 450h1v1h-1zM153 450h1v1h-1zM165 450h1v1h-1zM6 451h1v1h-1zM12 451h1v1h-1zM220 451h1v1h-1zM392 451h1v1h-1zM13 452h1v1h-1zM8 454h1v1h-1zM361 454h1v1h-1zM385 461h1v1h-1zM37 464h1v1h-1zM54 466h1v1h-1zM24 467h1v1h-1zM42 468h1v1h-1zM57 470h1v1h-1zM9 471h1v1h-1zM53 471h1v1h-1zM57 471h1v1h-1zM58 472h1v1h-1zM54 478h1v1h-1zM58 482h1v1h-1zM3 489h1v1h-1zM56 489h1v1h-1zM17 491h1v1h-1zM58 493h1v1h-1zM25 498h1v1h-1zM33 498h1v1h-1zM39 502h1v1h-1zM22 508h1v1h-1zM34 509h1v1h-1zM63 509h1v1h-1zM5 512h1v1h-1zM2 513h1v1h-1zM65 521h1v1h-1zM22 541h1v1h-1zM0 561h1v1h-1zM12 561h1v1h-1zM59 565h1v1h-1zM13 576h1v1h-1zM24 581h1v1h-1zM19 583h1v1h-1z"/>
<path fill="#0050ff" d="M28 15h1v1h-1zM35 29h1v1h-1zM37 36h1v1h-1zM30 37h1v1h-1zM40 39h1v1h-1zM34 41h1v1h-1zM27 44h1v1h-1zM35 53h1v1h-1zM61 53h1v1h-1zM28 54h1v1h-1zM20 56h1v1h-1zM13 57h1v1h-1zM27 57h1v1h-1zM41 62h1v1h-1zM18 63h1v1h-1zM37 67h1v1h-1zM21 68h1v1h-1zM47 68h1v1h-1zM34 71h1v1h-1zM13 72h1v1h-1zM39 72h1v1h-1zM24 73h1v1h-1zM3 75h1v1h-1zM328 82h1v1h-1zM11 85h1v1h-1zM300 85h1v1h-1zM5 87h1v1h-1zM191 87h1v1h-1zM198 87h1v1h-1zM223 89h1v1h-1zM7 90h1v1h-1zM246 90h1v1h-1zM1 91h1v1h-1zM274 91h1v1h-1zM59 94h1v1h-1zM50 95h1v1h-1zM75 105h1v1h-1zM169 106h1v1h-1zM54 111h1v1h-1zM51 112h1v1h-1zM53 124h1v1h-1zM76 181h1v1h-1zM46 182h1v1h-1zM71 186h1v1h-1zM75 186h1v1h-1zM57 189h1v1h-1zM33 199h1v1h-1zM90 204h1v1h-1zM32 205h2v1h-2zM76 205h1v1h-1zM90 205h1v1h-1zM49 206h1v1h-1zM90 209h1v1h-1zM76 213h1v1h-1zM34 214h1v1h-1zM96 215h1v1h-1zM29 216h1v1h-1zM25 217h1v1h-1zM83 217h1v1h-1zM35 218h1v1h-1zM90 219h1v1h-1zM29 220h1v1h-1zM83 220h1v1h-1zM36 221h1v1h-1zM49 222h1v1h-1zM29 225h1v1h-1zM37 226h1v1h-1zM28 227h1v1h-1zM76 227h1v1h-1zM83 229h1v1h-1zM23 231h1v1h-1zM24 232h1v1h-1zM28 233h1v1h-1zM36 233h1v1h-1zM39 233h1v1h-1zM29 234h1v1h-1zM42 234h1v1h-1zM49 235h1v1h-1zM23 236h1v1h-1zM44 236h1v1h-1zM28 239h1v1h-1zM30 239h1v1h-1zM35 239h1v1h-1zM90 239h1v1h-1zM11 243h1v1h-1zM4 244h1v1h-1zM16 244h1v1h-1zM46 244h1v1h-1zM143 244h1v1h-1zM149 245h1v1h-1zM26 247h1v1h-1zM46 248h1v1h-1zM90 249h1v1h-1zM161 249h1v1h-1zM51 250h1v1h-1zM10 251h1v1h-1zM20 251h1v1h-1zM11 254h1v1h-1zM193 254h1v1h-1zM153 255h1v1h-1zM7 257h1v1h-1zM162 257h1v1h-1zM187 257h1v1h-1zM342 257h1v1h-1zM178 258h1v1h-1zM2 260h1v1h-1zM10 260h1v1h-1zM51 260h1v1h-1zM163 260h1v1h-1zM265 260h1v1h-1zM295 261h1v1h-1zM303 263h1v1h-1zM9 265h1v1h-1zM288 265h1v1h-1zM301 265h1v1h-1zM372 267h1v1h-1zM9 270h1v1h-1zM166 276h1v1h-1zM54 281h1v1h-1zM314 281h1v1h-1zM49 284h1v1h-1zM90 285h1v1h-1zM55 287h1v1h-1zM117 290h1v1h-1zM90 292h1v1h-1zM90 296h1v1h-1zM90 297h1v1h-1zM58 300h1v1h-1zM22 302h1v1h-1zM49 303h1v1h-1zM90 304h1v1h-1zM47 306h1v1h-1zM83 309h1v1h-1zM90 309h1v1h-1zM90 310h1v1h-1zM22 319h1v1h-1zM25 322h1v1h-1zM15 328h1v1h-1zM36 333h1v1h-1zM77 336h1v1h-1zM10 348h1v1h-1zM12 351h1v1h-1zM69 354h1v1h-1zM65 358h1v1h-1zM64 364h1v1h-1zM49 369h1v1h-1zM23 371h1v1h-1zM35 388h1v1h-1zM30 396h1v1h-1zM55 397h1v1h-1zM39 400h1v1h-1zM34 404h1v1h-1zM30 406h1v1h-1zM27 407h1v1h-1zM30 409h1v1h-1zM40 409h1v1h-1zM30 410h1v1h-1zM33 410h1v1h-1zM30 411h1v1h-1zM18 412h1v1h-1zM21 414h1v1h-1zM43 414h1v1h-1zM31 415h1v1h-1zM28 417h1v1h-1zM12 419h1v1h-1zM41 419h1v1h-1zM10 421h1v1h-1zM22 422h1v1h-1zM13 423h1v1h-1zM42 423h1v1h-1zM19 424h1v1h-1zM21 425h1v1h-1zM13 426h1v1h-1zM10 427h1v1h-1zM14 428h1v1h-1zM47 428h1v1h-1zM11 429h2v1h-2zM6 430h1v1h-1zM16 430h1v1h-1zM17 433h1v1h-1zM10 435h1v1h-1zM21 435h1v1h-1zM22 437h1v1h-1zM0 438h1v1h-1zM214 438h1v1h-1zM196 441h1v1h-1zM184 443h1v1h-1zM216 443h1v1h-1zM4 444h1v1h-1zM204 444h1v1h-1zM212 444h1v1h-1zM397 444h1v1h-1zM258 445h1v1h-1zM255 446h1v1h-1zM262 447h1v1h-1zM396 447h1v1h-1zM253 448h1v1h-1zM241 450h1v1h-1zM9 451h1v1h-1zM182 452h1v1h-1zM0 453h1v1h-1zM7 453h1v1h-1zM80 453h1v1h-1zM191 453h1v1h-1zM268 454h1v1h-1zM266 456h1v1h-1zM6 459h1v1h-1zM52 459h1v1h-1zM22 461h1v1h-1zM376 461h1v1h-1zM73 465h1v1h-1zM316 465h1v1h-1zM53 468h1v1h-1zM55 471h1v1h-1zM52 472h1v1h-1zM54 475h1v1h-1zM55 476h1v1h-1zM5 479h1v1h-1zM13 480h1v1h-1zM79 480h1v1h-1zM60 483h1v1h-1zM61 495h1v1h-1zM47 496h1v1h-1zM58 498h1v1h-1zM41 501h1v1h-1zM66 502h1v1h-1zM79 511h1v1h-1zM26 514h1v1h-1zM74 540h1v1h-1zM2 547h1v1h-1zM67 555h1v1h-1zM7 556h1v1h-1zM31 558h1v1h-1zM60 561h1v1h-1zM70 572h1v1h-1zM30 575h1v1h-1zM70 587h1v1h-1z"/>
<path fill="#0060ff" d="M73 3h1v1h-1zM33 9h1v1h-1zM79 24h1v1h-1zM29 36h1v1h-1zM39 37h1v1h-1zM81 40h1v1h-1zM79 48h1v1h-1zM28 51h1v1h-1zM37 54h1v1h-1zM18 57h1v1h-1zM18 58h1v1h-1zM21 58h1v1h-1zM21 61h1v1h-1zM42 61h1v1h-1zM5 62h1v1h-1zM30 63h1v1h-1zM16 64h1v1h-1zM9 66h1v1h-1zM22 70h1v1h-1zM37 70h1v1h-1zM3 74h1v1h-1zM40 75h1v1h-1zM252 77h1v1h-1zM4 79h1v1h-1zM122 80h1v1h-1zM12 82h1v1h-1zM47 82h1v1h-1zM11 83h1v1h-1zM200 83h1v1h-1zM215 83h1v1h-1zM327 83h1v1h-1zM9 84h2v1h-2zM49 84h1v1h-1zM68 84h1v1h-1zM156 84h1v1h-1zM293 87h1v1h-1zM196 89h1v1h-1zM10 90h1v1h-1zM48 90h1v1h-1zM261 90h1v1h-1zM9 91h1v1h-1zM172 93h1v1h-1zM48 94h1v1h-1zM22 102h1v1h-1zM69 114h1v1h-1zM32 115h1v1h-1zM48 115h1v1h-1zM9 116h1v1h-1zM30 123h1v1h-1zM46 129h1v1h-1zM73 137h1v1h-1zM76 145h1v1h-1zM60 161h1v1h-1zM41 162h1v1h-1zM41 180h1v1h-1zM47 181h1v1h-1zM40 197h1v1h-1zM70 203h1v1h-1zM90 203h1v1h-1zM33 208h1v1h-1zM33 215h1v1h-1zM27 218h1v1h-1zM76 218h1v1h-1zM38 219h1v1h-1zM26 222h1v1h-1zM83 222h1v1h-1zM28 224h1v1h-1zM24 225h1v1h-1zM38 226h1v1h-1zM31 228h1v1h-1zM14 229h1v1h-1zM27 230h1v1h-1zM17 232h1v1h-1zM90 232h1v1h-1zM25 235h1v1h-1zM46 235h1v1h-1zM90 236h1v1h-1zM39 237h1v1h-1zM32 238h1v1h-1zM41 239h1v1h-1zM13 240h1v1h-1zM90 241h1v1h-1zM143 241h1v1h-1zM90 242h1v1h-1zM17 243h1v1h-1zM67 243h1v1h-1zM148 246h1v1h-1zM44 247h1v1h-1zM10 249h2v1h-2zM48 252h2v1h-2zM90 252h1v1h-1zM90 253h1v1h-1zM215 254h1v1h-1zM245 254h1v1h-1zM19 255h1v1h-1zM7 256h1v1h-1zM16 257h1v1h-1zM50 257h1v1h-1zM261 258h1v1h-1zM6 259h1v1h-1zM274 259h1v1h-1zM280 259h1v1h-1zM210 261h1v1h-1zM263 261h1v1h-1zM83 264h1v1h-1zM345 264h1v1h-1zM6 266h1v1h-1zM321 267h1v1h-1zM388 267h1v1h-1zM5 268h1v1h-1zM173 269h1v1h-1zM90 271h1v1h-1zM378 271h1v1h-1zM73 274h1v1h-1zM90 281h1v1h-1zM83 284h1v1h-1zM9 286h1v1h-1zM67 292h1v1h-1zM57 299h1v1h-1zM5 301h1v1h-1zM5 307h1v1h-1zM8 307h1v1h-1zM38 307h1v1h-1zM5 318h1v1h-1zM71 323h1v1h-1zM5 326h1v1h-1zM15 334h1v1h-1zM23 343h1v1h-1zM31 347h1v1h-1zM74 370h1v1h-1zM49 373h1v1h-1zM30 388h1v1h-1zM28 390h1v1h-1zM29 391h1v1h-1zM35 397h1v1h-1zM42 398h1v1h-1zM28 400h1v1h-1zM40 401h1v1h-1zM33 402h1v1h-1zM35 402h1v1h-1zM27 404h1v1h-1zM38 404h2v1h-2zM38 405h1v1h-1zM37 411h1v1h-1zM30 414h1v1h-1zM12 418h1v1h-1zM19 419h1v1h-1zM26 419h1v1h-1zM78 419h1v1h-1zM43 420h1v1h-1zM43 423h1v1h-1zM20 424h1v1h-1zM11 426h1v1h-1zM20 426h1v1h-1zM37 426h1v1h-1zM30 427h1v1h-1zM30 428h1v1h-1zM41 429h1v1h-1zM45 429h1v1h-1zM26 431h1v1h-1zM120 432h1v1h-1zM40 433h1v1h-1zM40 434h1v1h-1zM161 437h1v1h-1zM47 439h1v1h-1zM47 441h2v1h-2zM214 441h1v1h-1zM6 445h1v1h-1zM81 446h1v1h-1zM49 447h1v1h-1zM218 447h1v1h-1zM2 448h1v1h-1zM136 448h1v1h-1zM133 449h1v1h-1zM10 450h1v1h-1zM249 451h2v1h-2zM340 451h1v1h-1zM3 452h1v1h-1zM193 452h1v1h-1zM6 454h1v1h-1zM50 457h1v1h-1zM22 459h1v1h-1zM54 459h1v1h-1zM0 463h1v1h-1zM11 470h1v1h-1zM54 472h1v1h-1zM13 475h1v1h-1zM29 479h1v1h-1zM55 480h1v1h-1zM58 481h1v1h-1zM68 486h1v1h-1zM57 491h1v1h-1zM49 496h1v1h-1zM57 507h1v1h-1zM61 507h1v1h-1zM67 511h1v1h-1zM27 514h1v1h-1zM2 518h1v1h-1zM38 520h1v1h-1zM46 521h1v1h-1zM0 526h1v1h-1zM49 531h1v1h-1zM41 533h1v1h-1zM1 534h1v1h-1zM11 535h1v1h-1zM8 539h1v1h-1zM0 555h1v1h-1zM15 564h1v1h-1zM54 569h1v1h-1zM5 579h1v1h-1zM18 585h1v1h-1z"/>
<path fill="#0070ff" d="M34 39h1v1h-1zM30 45h1v1h-1zM31 46h1v1h-1zM30 49h1v1h-1zM20 52h1v1h-1zM29 53h1v1h-1zM21 55h1v1h-1zM27 56h1v1h-1zM19 58h1v1h-1zM14 59h1v1h-1zM11 63h1v1h-1zM17 63h1v1h-1zM45 63h1v1h-1zM18 65h1v1h-1zM28 65h1v1h-1zM42 67h1v1h-1zM7 69h1v1h-1zM28 71h1v1h-1zM3 72h1v1h-1zM0 74h1v1h-1zM21 76h1v1h-1zM48 76h1v1h-1zM24 77h1v1h-1zM119 77h1v1h-1zM148 77h1v1h-1zM6 78h1v1h-1zM16 78h1v1h-1zM164 82h1v1h-1zM184 83h1v1h-1zM229 83h1v1h-1zM226 84h1v1h-1zM145 86h1v1h-1zM247 86h1v1h-1zM247 87h1v1h-1zM126 89h1v1h-1zM198 89h1v1h-1zM4 90h1v1h-1zM49 90h1v1h-1zM273 90h1v1h-1zM8 92h1v1h-1zM234 93h1v1h-1zM139 95h1v1h-1zM171 96h1v1h-1zM51 102h1v1h-1zM50 105h1v1h-1zM51 107h1v1h-1zM169 107h1v1h-1zM53 119h1v1h-1zM81 210h1v1h-1zM40 212h1v1h-1zM40 216h1v1h-1zM24 219h1v1h-1zM28 219h1v1h-1zM83 219h1v1h-1zM31 220h1v1h-1zM90 221h1v1h-1zM26 223h1v1h-1zM90 225h1v1h-1zM43 227h1v1h-1zM77 228h1v1h-1zM36 230h1v1h-1zM90 230h1v1h-1zM35 231h1v1h-1zM41 231h1v1h-1zM46 231h1v1h-1zM37 232h1v1h-1zM43 232h1v1h-1zM83 232h1v1h-1zM83 233h1v1h-1zM23 234h1v1h-1zM20 235h1v1h-1zM90 235h1v1h-1zM23 237h1v1h-1zM9 238h1v1h-1zM83 238h1v1h-1zM44 239h1v1h-1zM48 240h1v1h-1zM16 241h1v1h-1zM13 244h1v1h-1zM45 244h1v1h-1zM14 246h1v1h-1zM42 248h1v1h-1zM1 251h1v1h-1zM154 254h1v1h-1zM8 255h1v1h-1zM13 255h1v1h-1zM253 255h1v1h-1zM143 256h1v1h-1zM5 258h1v1h-1zM354 261h1v1h-1zM9 262h1v1h-1zM290 262h1v1h-1zM304 262h1v1h-1zM0 263h1v1h-1zM3 263h1v1h-1zM164 267h1v1h-1zM49 270h1v1h-1zM0 272h1v1h-1zM2 272h1v1h-1zM90 275h1v1h-1zM54 276h1v1h-1zM83 276h1v1h-1zM90 278h1v1h-1zM54 280h1v1h-1zM83 283h1v1h-1zM83 291h1v1h-1zM90 293h1v1h-1zM90 302h1v1h-1zM5 305h1v1h-1zM90 305h1v1h-1zM83 307h1v1h-1zM22 309h1v1h-1zM90 315h1v1h-1zM81 316h1v1h-1zM21 319h1v1h-1zM5 341h1v1h-1zM37 392h1v1h-1zM34 401h1v1h-1zM25 405h1v1h-1zM27 405h1v1h-1zM24 406h1v1h-1zM17 412h1v1h-1zM41 412h1v1h-1zM26 414h1v1h-1zM39 415h1v1h-1zM36 416h1v1h-1zM41 417h1v1h-1zM21 418h1v1h-1zM10 420h1v1h-1zM25 423h1v1h-1zM7 427h1v1h-1zM17 427h1v1h-1zM29 428h1v1h-1zM37 429h1v1h-1zM16 432h1v1h-1zM21 434h1v1h-1zM39 434h1v1h-1zM120 434h1v1h-1zM7 435h1v1h-1zM13 435h1v1h-1zM42 435h1v1h-1zM46 439h1v1h-1zM121 439h1v1h-1zM9 440h1v1h-1zM46 441h1v1h-1zM13 442h1v1h-1zM146 442h1v1h-1zM4 446h1v1h-1zM217 448h1v1h-1zM0 449h1v1h-1zM252 449h1v1h-1zM344 449h1v1h-1zM182 450h1v1h-1zM391 451h1v1h-1zM8 452h1v1h-1zM294 452h1v1h-1zM4 454h1v1h-1zM22 454h1v1h-1zM285 454h1v1h-1zM2 455h1v1h-1zM388 455h1v1h-1zM7 457h1v1h-1zM4 459h1v1h-1zM170 459h1v1h-1zM54 464h1v1h-1zM53 466h1v1h-1zM54 473h1v1h-1zM57 489h1v1h-1zM62 515h1v1h-1z"/>
<path fill="#0080ff" d="M27 34h1v1h-1zM33 34h1v1h-1zM27 36h1v1h-1zM33 38h1v1h-1zM39 39h1v1h-1zM31 41h1v1h-1zM31 42h1v1h-1zM35 44h1v1h-1zM40 51h1v1h-1zM32 53h1v1h-1zM12 58h1v1h-1zM20 61h1v1h-1zM10 64h1v1h-1zM26 65h1v1h-1zM16 66h1v1h-1zM46 66h1v1h-1zM2 67h1v1h-1zM32 67h1v1h-1zM10 69h1v1h-1zM4 70h1v1h-1zM14 70h1v1h-1zM2 71h1v1h-1zM39 71h1v1h-1zM160 71h1v1h-1zM25 73h1v1h-1zM16 75h1v1h-1zM6 76h1v1h-1zM43 78h1v1h-1zM45 79h1v1h-1zM181 80h1v1h-1zM238 80h1v1h-1zM1 81h1v1h-1zM6 82h2v1h-2zM248 82h1v1h-1zM8 84h1v1h-1zM155 85h1v1h-1zM306 86h1v1h-1zM178 87h1v1h-1zM5 88h1v1h-1zM165 88h1v1h-1zM275 92h1v1h-1zM8 93h1v1h-1zM0 97h1v1h-1zM6 99h1v1h-1zM51 99h1v1h-1zM5 101h1v1h-1zM50 101h1v1h-1zM33 193h1v1h-1zM30 209h1v1h-1zM26 211h1v1h-1zM39 211h1v1h-1zM38 215h1v1h-1zM26 219h1v1h-1zM41 220h1v1h-1zM36 224h1v1h-1zM38 225h1v1h-1zM26 227h1v1h-1zM31 227h1v1h-1zM38 228h1v1h-1zM37 229h1v1h-1zM49 229h1v1h-1zM25 230h1v1h-1zM76 230h1v1h-1zM90 231h1v1h-1zM25 234h1v1h-1zM83 234h1v1h-1zM21 235h1v1h-1zM42 235h1v1h-1zM28 236h1v1h-1zM16 237h1v1h-1zM22 237h1v1h-1zM47 237h1v1h-1zM16 238h1v1h-1zM30 238h1v1h-1zM48 238h1v1h-1zM157 238h2v1h-2zM16 239h1v1h-1zM38 239h1v1h-1zM83 240h1v1h-1zM5 241h1v1h-1zM15 241h1v1h-1zM41 241h1v1h-1zM7 243h1v1h-1zM41 245h1v1h-1zM47 249h1v1h-1zM48 250h1v1h-1zM90 250h1v1h-1zM0 251h1v1h-1zM4 251h1v1h-1zM11 251h1v1h-1zM51 251h1v1h-1zM215 252h1v1h-1zM393 252h1v1h-1zM83 253h1v1h-1zM0 255h1v1h-1zM189 256h1v1h-1zM225 257h1v1h-1zM362 258h1v1h-1zM9 259h1v1h-1zM177 262h1v1h-1zM242 262h1v1h-1zM176 264h1v1h-1zM269 264h1v1h-1zM288 264h1v1h-1zM1 265h1v1h-1zM0 267h1v1h-1zM90 267h1v1h-1zM49 268h1v1h-1zM52 268h1v1h-1zM49 271h1v1h-1zM83 271h1v1h-1zM49 279h1v1h-1zM90 280h1v1h-1zM110 291h1v1h-1zM90 300h1v1h-1zM83 305h1v1h-1zM83 311h1v1h-1zM15 314h1v1h-1zM83 314h1v1h-1zM22 317h1v1h-1zM15 337h1v1h-1zM38 401h1v1h-1zM27 403h2v1h-2zM36 405h1v1h-1zM23 407h1v1h-1zM18 410h1v1h-1zM18 411h1v1h-1zM22 413h1v1h-1zM33 414h1v1h-1zM39 414h1v1h-1zM12 415h1v1h-1zM27 419h1v1h-1zM25 421h1v1h-1zM39 422h1v1h-1zM115 422h1v1h-1zM37 423h1v1h-1zM29 424h1v1h-1zM1 426h1v1h-1zM14 427h1v1h-1zM25 430h1v1h-1zM16 431h1v1h-1zM25 431h1v1h-1zM8 432h1v1h-1zM39 433h1v1h-1zM41 434h1v1h-1zM1 435h2v1h-2zM19 435h1v1h-1zM47 436h1v1h-1zM6 437h1v1h-1zM2 438h1v1h-1zM6 438h1v1h-1zM9 439h1v1h-1zM129 442h1v1h-1zM5 443h1v1h-1zM162 444h1v1h-1zM232 444h1v1h-1zM188 445h1v1h-1zM233 446h1v1h-1zM251 448h1v1h-1zM5 449h1v1h-1zM123 449h1v1h-1zM6 450h1v1h-1zM239 450h1v1h-1zM190 451h1v1h-1zM305 451h1v1h-1zM191 455h1v1h-1zM282 456h1v1h-1zM52 458h1v1h-1zM22 463h1v1h-1zM53 464h1v1h-1zM22 465h1v1h-1zM57 465h1v1h-1zM55 472h1v1h-1zM60 501h1v1h-1zM62 514h1v1h-1z"/>
<path fill="#008fff" d="M32 26h1v1h-1zM36 32h1v1h-1zM34 36h1v1h-1zM36 39h1v1h-1zM37 41h1v1h-1zM31 54h1v1h-1zM37 55h1v1h-1zM12 62h1v1h-1zM16 62h1v1h-1zM22 65h1v1h-1zM19 66h1v1h-1zM6 69h1v1h-1zM34 69h1v1h-1zM9 71h1v1h-1zM11 73h1v1h-1zM117 73h1v1h-1zM7 75h1v1h-1zM17 75h1v1h-1zM148 75h1v1h-1zM19 76h1v1h-1zM46 76h1v1h-1zM4 77h1v1h-1zM16 79h2v1h-2zM163 80h1v1h-1zM147 82h1v1h-1zM199 83h1v1h-1zM14 84h1v1h-1zM45 84h1v1h-1zM180 84h1v1h-1zM268 85h1v1h-1zM223 88h1v1h-1zM4 89h1v1h-1zM50 96h1v1h-1zM1 101h1v1h-1zM51 111h1v1h-1zM33 207h2v1h-2zM36 207h1v1h-1zM27 209h1v1h-1zM29 209h1v1h-1zM28 210h1v1h-1zM33 211h1v1h-1zM42 211h1v1h-1zM49 212h1v1h-1zM25 224h1v1h-1zM32 226h1v1h-1zM41 226h1v1h-1zM83 226h1v1h-1zM23 230h1v1h-1zM22 232h1v1h-1zM90 233h1v1h-1zM43 234h1v1h-1zM83 235h1v1h-1zM20 237h1v1h-1zM25 237h1v1h-1zM158 237h1v1h-1zM28 238h1v1h-1zM12 240h1v1h-1zM9 244h1v1h-1zM83 244h1v1h-1zM2 245h1v1h-1zM90 246h1v1h-1zM3 247h1v1h-1zM83 247h1v1h-1zM149 248h1v1h-1zM180 248h1v1h-1zM18 249h1v1h-1zM20 249h1v1h-1zM83 249h1v1h-1zM83 250h1v1h-1zM155 252h1v1h-1zM6 254h2v1h-2zM15 254h1v1h-1zM83 254h1v1h-1zM6 255h1v1h-1zM181 255h1v1h-1zM131 256h1v1h-1zM192 256h1v1h-1zM232 256h1v1h-1zM83 257h1v1h-1zM8 258h1v1h-1zM186 258h1v1h-1zM83 259h1v1h-1zM228 259h1v1h-1zM185 262h1v1h-1zM270 263h1v1h-1zM3 265h1v1h-1zM34 271h1v1h-1zM97 275h1v1h-1zM90 276h1v1h-1zM83 277h1v1h-1zM83 281h1v1h-1zM90 284h1v1h-1zM54 286h1v1h-1zM83 294h1v1h-1zM83 295h1v1h-1zM83 306h1v1h-1zM83 313h1v1h-1zM14 337h1v1h-1zM14 339h1v1h-1zM33 396h1v1h-1zM27 398h1v1h-1zM31 400h1v1h-1zM35 401h1v1h-1zM27 402h1v1h-1zM29 403h1v1h-1zM35 409h1v1h-1zM33 412h1v1h-1zM36 412h1v1h-1zM39 412h1v1h-1zM20 413h1v1h-1zM30 413h2v1h-2zM37 414h1v1h-1zM33 417h1v1h-1zM37 419h1v1h-1zM29 420h1v1h-1zM34 421h1v1h-1zM36 421h1v1h-1zM41 421h1v1h-1zM34 422h1v1h-1zM31 425h1v1h-1zM44 427h1v1h-1zM36 428h1v1h-1zM46 428h1v1h-1zM15 430h1v1h-1zM37 430h1v1h-1zM119 430h1v1h-1zM14 431h1v1h-1zM19 433h1v1h-1zM48 434h1v1h-1zM6 436h1v1h-1zM9 437h1v1h-1zM46 438h1v1h-1zM5 440h1v1h-1zM261 445h1v1h-1zM135 446h1v1h-1zM337 446h1v1h-1zM199 447h1v1h-1zM210 450h1v1h-1zM241 451h1v1h-1zM0 452h1v1h-1zM2 453h1v1h-1zM137 453h1v1h-1zM268 455h1v1h-1zM303 455h1v1h-1zM313 464h1v1h-1zM54 474h1v1h-1zM59 484h1v1h-1zM57 492h1v1h-1zM60 499h1v1h-1zM59 502h1v1h-1z"/>
<path fill="#009fff" d="M34 27h1v1h-1zM37 30h1v1h-1zM36 38h1v1h-1zM31 43h1v1h-1zM32 47h1v1h-1zM31 48h1v1h-1zM29 52h1v1h-1zM34 54h1v1h-1zM34 62h1v1h-1zM24 63h1v1h-1zM27 63h1v1h-1zM46 67h1v1h-1zM11 72h1v1h-1zM28 72h1v1h-1zM6 73h1v1h-1zM26 73h1v1h-1zM19 74h1v1h-1zM8 75h1v1h-1zM22 77h1v1h-1zM3 79h1v1h-1zM21 79h1v1h-1zM211 79h1v1h-1zM42 80h1v1h-1zM214 80h1v1h-1zM12 81h1v1h-1zM207 81h1v1h-1zM180 83h1v1h-1zM46 84h1v1h-1zM48 84h1v1h-1zM124 85h1v1h-1zM235 86h1v1h-1zM199 87h1v1h-1zM223 87h1v1h-1zM224 88h1v1h-1zM260 88h1v1h-1zM5 89h1v1h-1zM0 90h1v1h-1zM135 90h1v1h-1zM5 92h1v1h-1zM9 93h1v1h-1zM3 94h1v1h-1zM137 94h1v1h-1zM171 95h1v1h-1zM6 98h1v1h-1zM33 200h1v1h-1zM40 210h1v1h-1zM32 213h1v1h-1zM37 215h1v1h-1zM38 218h2v1h-2zM37 219h1v1h-1zM49 223h1v1h-1zM36 226h1v1h-1zM27 228h1v1h-1zM41 228h1v1h-1zM21 230h1v1h-1zM35 232h1v1h-1zM26 233h1v1h-1zM19 234h1v1h-1zM49 234h1v1h-1zM159 236h1v1h-1zM22 238h1v1h-1zM142 238h1v1h-1zM6 239h1v1h-1zM21 239h1v1h-1zM40 239h1v1h-1zM83 239h1v1h-1zM9 240h1v1h-1zM35 240h1v1h-1zM40 240h1v1h-1zM77 240h1v1h-1zM9 241h1v1h-1zM29 241h1v1h-1zM26 242h1v1h-1zM83 242h1v1h-1zM5 243h1v1h-1zM9 243h1v1h-1zM13 243h1v1h-1zM14 245h1v1h-1zM7 248h1v1h-1zM10 248h1v1h-1zM147 249h1v1h-1zM13 250h1v1h-1zM49 251h1v1h-1zM202 251h1v1h-1zM3 252h1v1h-1zM48 253h1v1h-1zM198 254h1v1h-1zM152 256h1v1h-1zM2 257h1v1h-1zM252 257h1v1h-1zM244 258h1v1h-1zM275 258h1v1h-1zM220 260h1v1h-1zM243 260h1v1h-1zM273 260h1v1h-1zM362 260h1v1h-1zM292 261h1v1h-1zM281 262h1v1h-1zM286 262h1v1h-1zM9 263h1v1h-1zM291 263h1v1h-1zM10 264h1v1h-1zM90 269h1v1h-1zM1 270h1v1h-1zM83 270h1v1h-1zM5 272h1v1h-1zM90 273h1v1h-1zM90 274h1v1h-1zM4 275h1v1h-1zM53 275h1v1h-1zM83 280h1v1h-1zM90 288h1v1h-1zM83 302h1v1h-1zM5 304h1v1h-1zM22 310h1v1h-1zM21 314h1v1h-1zM15 315h1v1h-1zM83 315h1v1h-1zM15 325h1v1h-1zM15 330h1v1h-1zM32 395h1v1h-1zM29 397h1v1h-1zM39 398h1v1h-1zM27 401h1v1h-1zM26 406h1v1h-1zM34 408h1v1h-1zM40 408h1v1h-1zM16 409h1v1h-1zM24 412h1v1h-1zM24 413h1v1h-1zM39 417h2v1h-2zM42 417h1v1h-1zM35 419h1v1h-1zM26 421h1v1h-1zM42 422h1v1h-1zM15 424h1v1h-1zM41 424h1v1h-1zM23 425h1v1h-1zM34 425h1v1h-1zM116 425h1v1h-1zM41 427h1v1h-1zM32 428h1v1h-1zM5 429h1v1h-1zM42 430h1v1h-1zM21 431h1v1h-1zM25 433h1v1h-1zM17 435h1v1h-1zM50 435h1v1h-1zM0 436h1v1h-1zM20 436h1v1h-1zM48 436h1v1h-1zM20 438h1v1h-1zM48 438h1v1h-1zM161 440h1v1h-1zM146 441h1v1h-1zM187 443h1v1h-1zM11 444h1v1h-1zM188 444h1v1h-1zM10 445h1v1h-1zM204 445h1v1h-1zM218 445h1v1h-1zM206 446h1v1h-1zM6 447h1v1h-1zM230 447h1v1h-1zM257 447h1v1h-1zM8 448h1v1h-1zM22 449h1v1h-1zM210 449h1v1h-1zM229 451h1v1h-1zM247 451h1v1h-1zM169 452h1v1h-1zM362 452h1v1h-1zM269 453h1v1h-1zM51 454h1v1h-1zM137 456h1v1h-1zM53 461h1v1h-1zM61 503h1v1h-1z"/>
<path fill="#00afff" d="M34 31h1v1h-1zM34 43h1v1h-1zM37 49h1v1h-1zM29 57h1v1h-1zM17 59h1v1h-1zM39 59h1v1h-1zM27 61h1v1h-1zM30 61h1v1h-1zM25 62h1v1h-1zM3 66h1v1h-1zM27 66h1v1h-1zM16 68h1v1h-1zM9 69h1v1h-1zM13 69h1v1h-1zM39 69h1v1h-1zM42 69h1v1h-1zM118 72h1v1h-1zM2 73h1v1h-1zM1 75h1v1h-1zM21 75h1v1h-1zM159 75h1v1h-1zM148 78h1v1h-1zM146 84h1v1h-1zM242 85h1v1h-1zM194 86h1v1h-1zM49 87h1v1h-1zM279 87h1v1h-1zM185 89h1v1h-1zM192 89h1v1h-1zM246 89h1v1h-1zM177 92h1v1h-1zM186 92h1v1h-1zM165 93h1v1h-1zM136 94h1v1h-1zM171 94h1v1h-1zM6 95h1v1h-1zM49 96h1v1h-1zM4 97h1v1h-1zM3 98h1v1h-1zM49 101h1v1h-1zM50 103h1v1h-1zM169 103h1v1h-1zM167 104h1v1h-1zM168 108h1v1h-1zM169 109h1v1h-1zM51 110h1v1h-1zM31 212h1v1h-1zM32 214h2v1h-2zM39 217h1v1h-1zM32 218h1v1h-1zM34 218h1v1h-1zM39 222h1v1h-1zM39 230h1v1h-1zM32 233h1v1h-1zM37 233h1v1h-1zM29 235h1v1h-1zM17 240h1v1h-1zM22 241h1v1h-1zM31 241h1v1h-1zM157 241h1v1h-1zM19 243h1v1h-1zM25 243h2v1h-2zM51 243h1v1h-1zM8 245h1v1h-1zM49 245h1v1h-1zM44 246h1v1h-1zM12 247h1v1h-1zM49 249h1v1h-1zM254 256h1v1h-1zM3 257h1v1h-1zM11 257h1v1h-1zM152 257h1v1h-1zM211 257h1v1h-1zM262 257h1v1h-1zM219 258h1v1h-1zM280 258h1v1h-1zM0 259h1v1h-1zM7 259h1v1h-1zM183 259h1v1h-1zM6 260h1v1h-1zM83 260h1v1h-1zM1 262h1v1h-1zM7 262h1v1h-1zM83 262h1v1h-1zM163 262h1v1h-1zM222 262h1v1h-1zM2 266h2v1h-2zM83 267h1v1h-1zM4 268h1v1h-1zM83 269h1v1h-1zM164 269h1v1h-1zM165 270h1v1h-1zM1 273h1v1h-1zM8 274h1v1h-1zM83 282h1v1h-1zM83 285h1v1h-1zM83 289h1v1h-1zM83 296h1v1h-1zM22 307h1v1h-1zM5 309h1v1h-1zM21 310h1v1h-1zM15 311h1v1h-1zM22 311h1v1h-1zM21 318h1v1h-1zM77 318h1v1h-1zM14 319h1v1h-1zM15 321h1v1h-1zM14 335h1v1h-1zM14 340h1v1h-1zM36 403h1v1h-1zM35 405h1v1h-1zM37 409h1v1h-1zM34 413h1v1h-1zM29 414h1v1h-1zM22 415h1v1h-1zM32 415h1v1h-1zM41 415h1v1h-1zM40 416h1v1h-1zM20 418h1v1h-1zM23 418h1v1h-1zM28 418h1v1h-1zM40 418h1v1h-1zM20 420h1v1h-1zM37 420h1v1h-1zM40 421h1v1h-1zM27 422h1v1h-1zM36 423h1v1h-1zM34 424h1v1h-1zM15 426h1v1h-1zM20 427h1v1h-1zM46 427h1v1h-1zM119 429h1v1h-1zM1 430h1v1h-1zM14 430h1v1h-1zM5 431h1v1h-1zM41 431h1v1h-1zM2 433h1v1h-1zM11 437h1v1h-1zM50 443h1v1h-1zM232 443h1v1h-1zM3 444h1v1h-1zM51 444h1v1h-1zM3 445h1v1h-1zM0 446h1v1h-1zM164 448h1v1h-1zM176 449h1v1h-1zM245 450h1v1h-1zM22 451h1v1h-1zM136 451h1v1h-1zM141 451h1v1h-1zM235 451h1v1h-1zM175 452h1v1h-1zM175 453h1v1h-1zM140 454h1v1h-1zM273 454h1v1h-1zM264 455h1v1h-1zM5 456h1v1h-1zM22 456h1v1h-1zM22 457h1v1h-1zM51 457h1v1h-1zM170 457h1v1h-1zM52 461h1v1h-1zM62 512h1v1h-1z"/>
<path fill="#00bfff" d="M31 30h1v1h-1zM33 35h1v1h-1zM29 47h1v1h-1zM32 55h1v1h-1zM29 58h1v1h-1zM18 59h1v1h-1zM37 59h1v1h-1zM27 60h1v1h-1zM38 61h1v1h-1zM17 65h1v1h-1zM14 66h1v1h-1zM21 66h1v1h-1zM18 69h1v1h-1zM20 69h1v1h-1zM6 71h1v1h-1zM161 72h1v1h-1zM17 73h2v1h-2zM39 73h1v1h-1zM47 73h1v1h-1zM24 74h1v1h-1zM44 74h1v1h-1zM118 74h1v1h-1zM12 76h1v1h-1zM252 76h1v1h-1zM2 79h1v1h-1zM15 79h1v1h-1zM18 79h1v1h-1zM49 82h1v1h-1zM228 82h1v1h-1zM49 83h1v1h-1zM201 83h1v1h-1zM206 83h1v1h-1zM124 84h1v1h-1zM155 84h1v1h-1zM14 85h1v1h-1zM130 85h1v1h-1zM242 86h1v1h-1zM129 87h1v1h-1zM190 87h1v1h-1zM1 88h1v1h-1zM144 88h1v1h-1zM230 89h1v1h-1zM276 89h1v1h-1zM6 90h1v1h-1zM10 91h1v1h-1zM49 91h1v1h-1zM5 93h1v1h-1zM1 96h1v1h-1zM166 97h1v1h-1zM51 101h1v1h-1zM34 203h1v1h-1zM35 220h1v1h-1zM31 223h1v1h-1zM25 227h1v1h-1zM30 231h1v1h-1zM49 231h1v1h-1zM30 233h1v1h-1zM16 235h1v1h-1zM76 235h1v1h-1zM10 237h1v1h-1zM49 237h1v1h-1zM77 237h1v1h-1zM83 237h1v1h-1zM40 238h1v1h-1zM43 239h1v1h-1zM76 239h1v1h-1zM23 243h1v1h-1zM77 243h1v1h-1zM96 243h1v1h-1zM0 244h1v1h-1zM1 246h1v1h-1zM25 248h1v1h-1zM82 248h1v1h-1zM180 249h1v1h-1zM150 250h1v1h-1zM82 251h1v1h-1zM12 252h1v1h-1zM214 252h1v1h-1zM207 254h1v1h-1zM212 257h1v1h-1zM2 258h1v1h-1zM13 258h1v1h-1zM50 258h2v1h-2zM209 259h1v1h-1zM8 263h1v1h-1zM34 265h1v1h-1zM176 265h1v1h-1zM83 266h1v1h-1zM3 267h1v1h-1zM8 267h1v1h-1zM22 267h1v1h-1zM2 268h1v1h-1zM34 269h1v1h-1zM90 270h1v1h-1zM53 271h1v1h-1zM3 273h1v1h-1zM167 273h1v1h-1zM0 276h1v1h-1zM83 288h1v1h-1zM83 290h1v1h-1zM5 292h1v1h-1zM83 292h1v1h-1zM83 301h1v1h-1zM22 303h1v1h-1zM83 310h1v1h-1zM5 311h1v1h-1zM15 312h1v1h-1zM82 314h1v1h-1zM77 315h1v1h-1zM76 318h1v1h-1zM15 319h1v1h-1zM77 320h1v1h-1zM5 322h1v1h-1zM5 324h1v1h-1zM14 327h1v1h-1zM14 332h1v1h-1zM32 393h1v1h-1zM34 395h1v1h-1zM33 398h1v1h-1zM36 399h1v1h-1zM22 418h1v1h-1zM39 418h1v1h-1zM45 423h1v1h-1zM43 425h1v1h-1zM37 428h1v1h-1zM17 429h1v1h-1zM4 430h1v1h-1zM35 431h1v1h-1zM41 433h1v1h-1zM5 435h1v1h-1zM12 435h1v1h-1zM5 437h1v1h-1zM10 438h1v1h-1zM215 438h1v1h-1zM49 441h1v1h-1zM2 443h1v1h-1zM10 443h1v1h-1zM195 443h1v1h-1zM9 444h1v1h-1zM4 447h1v1h-1zM123 448h1v1h-1zM3 449h1v1h-1zM3 453h1v1h-1zM22 460h1v1h-1zM171 461h1v1h-1zM53 463h1v1h-1zM62 513h1v1h-1z"/>
<path fill="#00cfff" d="M33 36h1v1h-1zM35 38h1v1h-1zM35 45h1v1h-1zM19 56h1v1h-1zM22 62h1v1h-1zM13 64h1v1h-1zM18 66h1v1h-1zM16 67h1v1h-1zM3 71h1v1h-1zM10 71h1v1h-1zM43 71h1v1h-1zM19 72h1v1h-1zM42 75h1v1h-1zM2 77h1v1h-1zM164 79h1v1h-1zM5 80h1v1h-1zM11 80h1v1h-1zM212 80h1v1h-1zM9 82h1v1h-1zM183 82h1v1h-1zM184 84h1v1h-1zM184 85h1v1h-1zM257 85h1v1h-1zM198 86h1v1h-1zM178 88h1v1h-1zM2 89h1v1h-1zM261 89h1v1h-1zM190 90h1v1h-1zM3 96h1v1h-1zM176 96h1v1h-1zM50 98h1v1h-1zM40 215h1v1h-1zM37 218h1v1h-1zM42 221h1v1h-1zM34 222h1v1h-1zM32 225h1v1h-1zM39 226h1v1h-1zM42 227h1v1h-1zM76 232h1v1h-1zM77 233h1v1h-1zM40 234h1v1h-1zM76 234h1v1h-1zM27 235h1v1h-1zM32 235h1v1h-1zM49 236h1v1h-1zM77 236h1v1h-1zM26 238h1v1h-1zM19 239h1v1h-1zM32 239h1v1h-1zM76 240h1v1h-1zM25 241h1v1h-1zM44 241h1v1h-1zM77 241h1v1h-1zM0 242h1v1h-1zM44 242h1v1h-1zM49 242h1v1h-1zM6 244h1v1h-1zM144 247h1v1h-1zM14 248h1v1h-1zM149 249h1v1h-1zM1 250h1v1h-1zM82 250h1v1h-1zM203 251h1v1h-1zM49 255h1v1h-1zM83 255h1v1h-1zM154 255h1v1h-1zM178 255h1v1h-1zM233 255h1v1h-1zM236 255h1v1h-1zM83 256h1v1h-1zM262 258h1v1h-1zM1 261h1v1h-1zM3 261h1v1h-1zM4 262h1v1h-1zM184 262h1v1h-1zM5 263h1v1h-1zM171 263h1v1h-1zM185 263h1v1h-1zM285 264h1v1h-1zM6 265h1v1h-1zM10 265h1v1h-1zM6 269h1v1h-1zM53 269h1v1h-1zM15 274h1v1h-1zM53 274h1v1h-1zM96 275h1v1h-1zM15 277h1v1h-1zM55 283h1v1h-1zM83 286h1v1h-1zM5 290h1v1h-1zM5 298h1v1h-1zM83 298h1v1h-1zM77 313h1v1h-1zM77 314h1v1h-1zM81 314h1v1h-1zM81 315h1v1h-1zM76 317h1v1h-1zM76 319h1v1h-1zM14 329h1v1h-1zM14 334h1v1h-1zM37 405h1v1h-1zM27 409h1v1h-1zM37 412h1v1h-1zM38 414h1v1h-1zM29 416h1v1h-1zM33 416h1v1h-1zM32 419h1v1h-1zM23 421h1v1h-1zM36 422h1v1h-1zM16 423h1v1h-1zM118 427h1v1h-1zM8 430h1v1h-1zM45 432h1v1h-1zM10 433h1v1h-1zM9 434h1v1h-1zM14 434h1v1h-1zM20 435h1v1h-1zM50 436h1v1h-1zM10 439h1v1h-1zM22 441h1v1h-1zM122 441h1v1h-1zM12 442h1v1h-1zM155 442h1v1h-1zM196 442h1v1h-1zM22 443h1v1h-1zM163 445h1v1h-1zM205 445h1v1h-1zM256 445h1v1h-1zM194 447h1v1h-1zM177 448h1v1h-1zM229 448h1v1h-1zM242 448h1v1h-1zM177 449h1v1h-1zM274 451h1v1h-1zM229 452h1v1h-1zM22 453h1v1h-1zM192 453h1v1h-1zM227 455h1v1h-1zM138 456h1v1h-1zM22 458h1v1h-1zM22 462h1v1h-1z"/>
<path fill="#00dfff" d="M32 38h1v1h-1zM32 54h1v1h-1zM30 56h1v1h-1zM21 57h1v1h-1zM20 59h1v1h-1zM14 63h1v1h-1zM36 64h1v1h-1zM22 68h1v1h-1zM3 69h1v1h-1zM8 71h1v1h-1zM40 72h1v1h-1zM3 73h1v1h-1zM10 73h1v1h-1zM7 74h1v1h-1zM24 75h2v1h-2zM43 77h1v1h-1zM48 79h1v1h-1zM210 80h1v1h-1zM5 81h1v1h-1zM239 83h1v1h-1zM47 85h1v1h-1zM184 86h1v1h-1zM3 87h1v1h-1zM145 88h1v1h-1zM272 88h1v1h-1zM0 89h1v1h-1zM273 89h1v1h-1zM6 91h1v1h-1zM140 92h1v1h-1zM140 93h1v1h-1zM0 94h1v1h-1zM187 95h1v1h-1zM173 96h1v1h-1zM31 207h1v1h-1zM40 207h1v1h-1zM36 209h1v1h-1zM33 212h1v1h-1zM31 215h1v1h-1zM29 217h1v1h-1zM37 222h1v1h-1zM82 222h1v1h-1zM40 224h1v1h-1zM22 225h1v1h-1zM39 227h1v1h-1zM26 228h1v1h-1zM26 229h1v1h-1zM35 230h1v1h-1zM25 231h1v1h-1zM45 236h1v1h-1zM76 237h1v1h-1zM49 238h1v1h-1zM76 238h1v1h-1zM77 239h1v1h-1zM142 239h1v1h-1zM9 242h1v1h-1zM43 242h1v1h-1zM82 242h1v1h-1zM28 243h1v1h-1zM81 243h1v1h-1zM21 244h1v1h-1zM6 245h1v1h-1zM15 246h1v1h-1zM77 246h1v1h-1zM8 247h1v1h-1zM19 247h1v1h-1zM77 247h1v1h-1zM82 247h1v1h-1zM1 248h1v1h-1zM45 248h1v1h-1zM0 249h1v1h-1zM81 250h1v1h-1zM81 251h1v1h-1zM162 251h1v1h-1zM2 253h1v1h-1zM151 254h1v1h-1zM208 254h1v1h-1zM201 255h1v1h-1zM0 256h1v1h-1zM234 256h1v1h-1zM13 257h1v1h-1zM51 259h1v1h-1zM226 259h1v1h-1zM237 259h1v1h-1zM186 260h1v1h-1zM228 260h1v1h-1zM1 266h1v1h-1zM15 268h1v1h-1zM49 274h1v1h-1zM165 275h1v1h-1zM5 291h1v1h-1zM5 294h1v1h-1zM5 300h1v1h-1zM5 303h1v1h-1zM22 306h1v1h-1zM77 312h1v1h-1zM76 315h1v1h-1zM21 316h1v1h-1zM77 316h1v1h-1zM5 320h1v1h-1zM76 320h1v1h-1zM76 321h1v1h-1zM5 323h1v1h-1zM33 400h1v1h-1zM34 402h1v1h-1zM32 405h1v1h-1zM39 406h1v1h-1zM33 407h1v1h-1zM22 414h1v1h-1zM16 415h1v1h-1zM14 417h1v1h-1zM15 418h1v1h-1zM115 421h1v1h-1zM44 425h1v1h-1zM39 426h1v1h-1zM12 427h1v1h-1zM21 427h1v1h-1zM38 428h1v1h-1zM44 428h1v1h-1zM36 429h1v1h-1zM9 433h1v1h-1zM159 433h1v1h-1zM5 434h1v1h-1zM9 438h1v1h-1zM10 440h1v1h-1zM144 440h1v1h-1zM13 441h1v1h-1zM213 442h1v1h-1zM8 444h1v1h-1zM48 444h1v1h-1zM149 444h1v1h-1zM187 444h1v1h-1zM1 446h1v1h-1zM5 446h1v1h-1zM135 447h1v1h-1zM207 447h2v1h-2zM164 449h1v1h-1zM152 450h1v1h-1zM236 450h1v1h-1zM2 452h1v1h-1zM1 453h1v1h-1zM165 453h1v1h-1zM179 453h1v1h-1zM53 457h1v1h-1zM56 480h1v1h-1zM60 500h1v1h-1zM62 507h1v1h-1zM61 517h1v1h-1z"/>
<path fill="#00efff" d="M32 29h1v1h-1zM38 36h1v1h-1zM39 46h1v1h-1zM34 48h1v1h-1zM27 54h1v1h-1zM38 54h1v1h-1zM24 59h1v1h-1zM20 62h1v1h-1zM23 62h1v1h-1zM35 62h1v1h-1zM19 63h1v1h-1zM35 63h1v1h-1zM35 64h1v1h-1zM41 67h1v1h-1zM3 68h1v1h-1zM18 70h1v1h-1zM19 71h1v1h-1zM2 72h1v1h-1zM8 76h1v1h-1zM152 77h1v1h-1zM149 78h1v1h-1zM43 79h1v1h-1zM120 80h1v1h-1zM228 81h1v1h-1zM206 84h1v1h-1zM240 84h1v1h-1zM0 85h1v1h-1zM6 85h1v1h-1zM157 85h1v1h-1zM129 88h1v1h-1zM48 89h1v1h-1zM303 89h1v1h-1zM5 90h1v1h-1zM8 90h1v1h-1zM260 90h1v1h-1zM178 92h1v1h-1zM166 93h1v1h-1zM49 97h1v1h-1zM28 217h1v1h-1zM40 219h1v1h-1zM30 226h1v1h-1zM43 228h1v1h-1zM32 230h1v1h-1zM43 230h1v1h-1zM38 232h1v1h-1zM22 233h1v1h-1zM76 233h1v1h-1zM76 236h1v1h-1zM36 237h1v1h-1zM44 238h1v1h-1zM77 238h1v1h-1zM23 240h1v1h-1zM17 241h1v1h-1zM34 241h1v1h-1zM81 241h1v1h-1zM19 242h1v1h-1zM77 242h1v1h-1zM20 243h1v1h-1zM41 243h1v1h-1zM82 243h1v1h-1zM49 244h1v1h-1zM76 244h1v1h-1zM81 244h2v1h-2zM76 245h1v1h-1zM82 245h1v1h-1zM0 246h1v1h-1zM9 246h1v1h-1zM82 246h1v1h-1zM156 246h1v1h-1zM81 247h1v1h-1zM2 249h1v1h-1zM17 249h1v1h-1zM82 249h1v1h-1zM1 252h1v1h-1zM47 252h1v1h-1zM50 253h1v1h-1zM6 256h1v1h-1zM162 256h1v1h-1zM34 260h1v1h-1zM287 263h1v1h-1zM97 273h1v1h-1zM83 278h1v1h-1zM15 279h1v1h-1zM22 300h1v1h-1zM21 302h1v1h-1zM22 305h1v1h-1zM77 311h1v1h-1zM82 311h1v1h-1zM15 313h1v1h-1zM5 315h1v1h-1zM14 320h1v1h-1zM23 414h1v1h-1zM33 415h1v1h-1zM19 420h1v1h-1zM25 420h1v1h-1zM28 420h1v1h-1zM39 420h1v1h-1zM17 422h1v1h-1zM114 422h1v1h-1zM21 423h1v1h-1zM30 423h1v1h-1zM39 423h1v1h-1zM117 425h1v1h-1zM35 430h1v1h-1zM42 432h1v1h-1zM22 433h1v1h-1zM161 438h1v1h-1zM48 442h1v1h-1zM8 443h1v1h-1zM125 444h1v1h-1zM50 445h1v1h-1zM132 445h1v1h-1zM142 446h1v1h-1zM154 446h1v1h-1zM218 446h1v1h-1zM164 447h1v1h-1zM208 449h1v1h-1zM0 450h1v1h-1zM22 450h1v1h-1zM176 450h1v1h-1zM1 451h1v1h-1zM169 451h1v1h-1zM193 451h1v1h-1zM200 451h1v1h-1zM172 461h1v1h-1z"/>
<path fill="#00ffff" d="M39 54h1v1h-1zM34 58h1v1h-1zM37 61h1v1h-1zM32 62h1v1h-1zM21 63h1v1h-1zM23 63h1v1h-1zM14 64h1v1h-1zM30 65h1v1h-1zM42 65h1v1h-1zM34 66h1v1h-1zM19 67h1v1h-1zM24 68h1v1h-1zM16 70h1v1h-1zM39 70h1v1h-1zM25 72h1v1h-1zM14 73h1v1h-1zM17 74h1v1h-1zM12 75h1v1h-1zM47 75h1v1h-1zM162 76h1v1h-1zM150 77h1v1h-1zM44 78h2v1h-2zM6 79h1v1h-1zM44 79h1v1h-1zM119 79h1v1h-1zM147 79h1v1h-1zM248 83h1v1h-1zM164 84h1v1h-1zM179 85h1v1h-1zM47 86h1v1h-1zM203 87h1v1h-1zM135 88h1v1h-1zM143 89h2v1h-2zM189 90h1v1h-1zM2 91h1v1h-1zM172 92h1v1h-1zM51 115h1v1h-1zM31 210h1v1h-1zM36 211h1v1h-1zM29 213h1v1h-1zM35 215h1v1h-1zM34 221h1v1h-1zM27 223h1v1h-1zM34 223h1v1h-1zM28 226h1v1h-1zM40 233h1v1h-1zM37 234h1v1h-1zM44 234h1v1h-1zM36 235h1v1h-1zM40 237h1v1h-1zM39 238h1v1h-1zM159 238h1v1h-1zM82 239h1v1h-1zM158 239h1v1h-1zM5 240h1v1h-1zM18 241h1v1h-1zM82 241h1v1h-1zM50 242h1v1h-1zM19 244h1v1h-1zM7 245h1v1h-1zM22 245h1v1h-1zM50 245h1v1h-1zM77 245h1v1h-1zM97 245h1v1h-1zM22 246h1v1h-1zM22 247h1v1h-1zM11 248h1v1h-1zM15 248h1v1h-1zM76 248h1v1h-1zM150 249h1v1h-1zM13 252h1v1h-1zM15 252h1v1h-1zM150 252h1v1h-1zM49 254h1v1h-1zM15 255h1v1h-1zM3 256h1v1h-1zM278 256h1v1h-1zM9 257h1v1h-1zM12 258h1v1h-1zM8 259h1v1h-1zM34 259h1v1h-1zM228 261h1v1h-1zM10 262h1v1h-1zM230 263h1v1h-1zM8 264h1v1h-1zM15 265h1v1h-1zM164 266h1v1h-1zM3 268h1v1h-1zM96 274h2v1h-2zM33 275h1v1h-1zM22 296h1v1h-1zM82 313h1v1h-1zM15 320h1v1h-1zM15 326h1v1h-1zM5 327h1v1h-1zM14 333h1v1h-1zM32 408h1v1h-1zM34 414h1v1h-1zM21 417h1v1h-1zM17 420h1v1h-1zM24 421h1v1h-1zM4 425h1v1h-1zM45 427h1v1h-1zM17 428h1v1h-1zM44 429h1v1h-1zM119 431h1v1h-1zM20 432h1v1h-1zM48 433h1v1h-1zM48 435h1v1h-1zM121 436h1v1h-1zM121 438h1v1h-1zM254 444h1v1h-1zM2 445h1v1h-1zM125 445h1v1h-1zM8 446h1v1h-1zM188 446h1v1h-1zM206 447h1v1h-1zM8 449h1v1h-1zM200 449h1v1h-1zM223 449h1v1h-1zM50 450h2v1h-2zM178 450h1v1h-1zM4 451h1v1h-1zM168 451h1v1h-1zM179 451h1v1h-1zM153 452h1v1h-1zM173 461h1v1h-1zM172 464h1v1h-1zM55 478h1v1h-1zM57 488h1v1h-1z"/>
<path fill="#10ffef" d="M34 37h1v1h-1zM27 42h1v1h-1zM38 49h1v1h-1zM37 58h1v1h-1zM22 60h1v1h-1zM21 62h1v1h-1zM33 63h1v1h-1zM32 66h1v1h-1zM29 67h1v1h-1zM26 70h1v1h-1zM25 71h1v1h-1zM25 74h1v1h-1zM20 76h1v1h-1zM44 76h1v1h-1zM251 78h1v1h-1zM19 79h1v1h-1zM1 80h1v1h-1zM13 80h1v1h-1zM182 80h1v1h-1zM4 81h1v1h-1zM201 82h1v1h-1zM254 82h1v1h-1zM236 83h1v1h-1zM183 84h1v1h-1zM229 84h1v1h-1zM1 85h1v1h-1zM49 85h1v1h-1zM240 85h1v1h-1zM193 87h1v1h-1zM142 91h1v1h-1zM231 91h1v1h-1zM136 92h1v1h-1zM0 93h1v1h-1zM5 94h1v1h-1zM137 95h1v1h-1zM3 97h1v1h-1zM49 99h1v1h-1zM50 100h1v1h-1zM167 105h1v1h-1zM53 110h1v1h-1zM35 219h1v1h-1zM32 223h1v1h-1zM29 226h1v1h-1zM34 228h1v1h-1zM31 230h1v1h-1zM34 233h1v1h-1zM26 235h1v1h-1zM22 236h1v1h-1zM42 236h1v1h-1zM27 238h1v1h-1zM47 238h1v1h-1zM81 239h1v1h-1zM41 240h1v1h-1zM44 240h1v1h-1zM76 241h1v1h-1zM76 242h1v1h-1zM143 242h1v1h-1zM16 243h1v1h-1zM96 244h2v1h-2zM156 244h1v1h-1zM81 245h1v1h-1zM49 246h1v1h-1zM76 247h1v1h-1zM77 248h1v1h-1zM3 249h1v1h-1zM7 249h1v1h-1zM81 249h1v1h-1zM5 250h1v1h-1zM215 253h1v1h-1zM3 254h1v1h-1zM10 254h1v1h-1zM260 254h1v1h-1zM196 255h1v1h-1zM207 256h1v1h-1zM5 257h1v1h-1zM163 259h1v1h-1zM187 259h1v1h-1zM224 259h1v1h-1zM265 261h1v1h-1zM163 263h1v1h-1zM6 264h1v1h-1zM52 264h1v1h-1zM49 269h1v1h-1zM175 269h1v1h-1zM15 272h1v1h-1zM167 272h1v1h-1zM5 289h1v1h-1zM5 295h1v1h-1zM82 310h1v1h-1zM82 312h1v1h-1zM5 313h1v1h-1zM36 406h1v1h-1zM37 407h1v1h-1zM31 408h1v1h-1zM35 408h1v1h-1zM32 409h1v1h-1zM19 414h1v1h-1zM32 417h1v1h-1zM35 418h1v1h-1zM40 424h1v1h-1zM1 429h1v1h-1zM27 429h1v1h-1zM11 430h1v1h-1zM19 430h1v1h-1zM47 433h1v1h-1zM46 434h2v1h-2zM18 435h1v1h-1zM44 435h2v1h-2zM44 437h1v1h-1zM162 441h1v1h-1zM0 442h2v1h-2zM9 443h1v1h-1zM211 443h1v1h-1zM49 444h1v1h-1zM184 444h1v1h-1zM163 446h1v1h-1zM199 446h1v1h-1zM3 450h1v1h-1zM0 454h1v1h-1zM52 454h1v1h-1zM55 470h1v1h-1z"/>
<path fill="#20ffdf" d="M36 43h1v1h-1zM17 57h1v1h-1zM20 57h1v1h-1zM27 58h1v1h-1zM25 63h1v1h-1zM39 63h1v1h-1zM15 71h1v1h-1zM24 71h1v1h-1zM17 72h1v1h-1zM27 72h1v1h-1zM161 73h1v1h-1zM46 74h1v1h-1zM6 75h1v1h-1zM22 75h1v1h-1zM46 75h1v1h-1zM149 75h1v1h-1zM15 78h1v1h-1zM154 79h1v1h-1zM209 80h1v1h-1zM6 81h1v1h-1zM210 81h1v1h-1zM227 82h1v1h-1zM132 84h1v1h-1zM157 84h1v1h-1zM144 87h1v1h-1zM146 87h1v1h-1zM165 87h1v1h-1zM4 88h1v1h-1zM48 88h1v1h-1zM198 88h1v1h-1zM49 93h1v1h-1zM177 94h1v1h-1zM166 101h1v1h-1zM33 216h1v1h-1zM34 220h1v1h-1zM34 225h1v1h-1zM36 225h1v1h-1zM36 228h1v1h-1zM29 229h1v1h-1zM28 235h1v1h-1zM43 235h1v1h-1zM31 236h1v1h-1zM31 238h1v1h-1zM41 238h1v1h-1zM81 240h1v1h-1zM143 240h1v1h-1zM157 240h1v1h-1zM28 241h1v1h-1zM42 242h1v1h-1zM47 242h1v1h-1zM12 243h1v1h-1zM21 243h1v1h-1zM10 244h1v1h-1zM44 244h1v1h-1zM16 245h1v1h-1zM76 246h1v1h-1zM49 247h1v1h-1zM145 247h1v1h-1zM9 252h1v1h-1zM202 252h1v1h-1zM34 254h1v1h-1zM182 254h1v1h-1zM212 255h1v1h-1zM217 255h1v1h-1zM15 256h1v1h-1zM22 256h1v1h-1zM34 256h1v1h-1zM227 257h1v1h-1zM195 258h1v1h-1zM223 259h1v1h-1zM1 263h1v1h-1zM7 263h1v1h-1zM90 266h1v1h-1zM15 269h1v1h-1zM3 270h1v1h-1zM53 270h1v1h-1zM49 272h1v1h-1zM5 296h1v1h-1zM11 301h1v1h-1zM5 306h1v1h-1zM15 310h1v1h-1zM21 311h1v1h-1zM81 312h1v1h-1zM81 313h1v1h-1zM76 314h1v1h-1zM76 316h1v1h-1zM15 324h1v1h-1zM14 325h1v1h-1zM14 331h1v1h-1zM30 408h1v1h-1zM32 411h1v1h-1zM32 413h1v1h-1zM16 421h1v1h-1zM27 423h1v1h-1zM35 423h1v1h-1zM22 425h1v1h-1zM40 427h1v1h-1zM119 428h1v1h-1zM23 429h1v1h-1zM0 431h1v1h-1zM46 432h1v1h-1zM13 434h1v1h-1zM2 436h1v1h-1zM19 436h1v1h-1zM16 437h1v1h-1zM156 439h1v1h-1zM0 440h1v1h-1zM51 441h1v1h-1zM22 442h1v1h-1zM4 445h1v1h-1zM22 447h1v1h-1zM167 447h1v1h-1zM234 447h1v1h-1zM124 449h1v1h-1zM235 449h1v1h-1zM242 449h1v1h-1zM209 450h1v1h-1zM190 452h1v1h-1zM172 463h1v1h-1zM52 467h1v1h-1zM52 468h1v1h-1zM55 473h1v1h-1z"/>
<path fill="#30ffcf" d="M31 33h1v1h-1zM34 44h1v1h-1zM31 49h1v1h-1zM35 54h1v1h-1zM15 59h1v1h-1zM30 60h1v1h-1zM28 62h1v1h-1zM37 62h1v1h-1zM20 64h1v1h-1zM5 69h1v1h-1zM0 70h1v1h-1zM44 71h1v1h-1zM160 75h1v1h-1zM162 75h1v1h-1zM2 76h1v1h-1zM14 76h1v1h-1zM3 77h1v1h-1zM46 78h2v1h-2zM10 79h1v1h-1zM213 80h1v1h-1zM9 81h1v1h-1zM123 81h1v1h-1zM2 83h1v1h-1zM2 87h1v1h-1zM1 95h1v1h-1zM50 97h1v1h-1zM81 222h1v1h-1zM28 234h1v1h-1zM26 239h1v1h-1zM82 240h1v1h-1zM41 242h1v1h-1zM76 243h1v1h-1zM48 244h1v1h-1zM77 244h1v1h-1zM157 244h1v1h-1zM13 246h1v1h-1zM81 246h1v1h-1zM161 246h1v1h-1zM1 247h1v1h-1zM11 247h1v1h-1zM81 248h1v1h-1zM146 249h1v1h-1zM2 250h1v1h-1zM11 250h1v1h-1zM179 253h1v1h-1zM2 254h1v1h-1zM1 255h1v1h-1zM51 255h1v1h-1zM178 257h1v1h-1zM195 257h1v1h-1zM243 261h1v1h-1zM243 262h1v1h-1zM8 265h1v1h-1zM169 265h1v1h-1zM271 265h1v1h-1zM22 266h1v1h-1zM1 268h1v1h-1zM15 275h1v1h-1zM5 281h1v1h-1zM15 287h1v1h-1zM22 297h1v1h-1zM22 304h1v1h-1zM82 308h1v1h-1zM82 309h1v1h-1zM81 310h1v1h-1zM76 312h1v1h-1zM76 313h1v1h-1zM21 315h1v1h-1zM15 316h1v1h-1zM14 321h1v1h-1zM30 399h1v1h-1zM32 400h1v1h-1zM37 400h1v1h-1zM36 414h1v1h-1zM23 415h2v1h-2zM18 419h1v1h-1zM24 422h1v1h-1zM8 424h1v1h-1zM24 425h1v1h-1zM22 426h1v1h-1zM44 426h1v1h-1zM22 428h1v1h-1zM18 429h1v1h-1zM42 431h1v1h-1zM3 433h1v1h-1zM44 433h1v1h-1zM158 437h1v1h-1zM12 440h1v1h-1zM48 440h1v1h-1zM216 441h1v1h-1zM3 443h1v1h-1zM131 443h1v1h-1zM150 443h1v1h-1zM188 443h1v1h-1zM151 445h1v1h-1zM50 446h1v1h-1zM167 446h1v1h-1zM189 447h1v1h-1zM51 451h1v1h-1zM176 451h1v1h-1zM178 452h1v1h-1zM191 454h1v1h-1zM265 457h1v1h-1zM172 462h1v1h-1z"/>
<path fill="#40ffbf" d="M30 52h1v1h-1zM33 56h1v1h-1zM36 56h1v1h-1zM41 61h1v1h-1zM34 64h1v1h-1zM28 66h1v1h-1zM43 67h1v1h-1zM26 68h1v1h-1zM36 69h1v1h-1zM46 71h1v1h-1zM24 72h1v1h-1zM118 73h1v1h-1zM23 75h1v1h-1zM17 76h1v1h-1zM10 77h1v1h-1zM14 77h1v1h-1zM17 77h1v1h-1zM154 78h1v1h-1zM49 81h1v1h-1zM16 82h1v1h-1zM207 82h1v1h-1zM47 83h1v1h-1zM11 84h1v1h-1zM3 85h1v1h-1zM4 86h1v1h-1zM202 86h1v1h-1zM205 86h1v1h-1zM194 87h1v1h-1zM190 88h1v1h-1zM7 89h1v1h-1zM7 91h1v1h-1zM0 92h1v1h-1zM231 92h1v1h-1zM3 93h1v1h-1zM231 93h1v1h-1zM4 96h1v1h-1zM35 214h1v1h-1zM32 217h1v1h-1zM30 225h1v1h-1zM34 226h1v1h-1zM29 228h1v1h-1zM34 230h1v1h-1zM44 237h1v1h-1zM42 240h1v1h-1zM16 242h1v1h-1zM28 242h1v1h-1zM81 242h1v1h-1zM43 243h1v1h-1zM5 244h1v1h-1zM96 245h1v1h-1zM50 246h1v1h-1zM76 249h1v1h-1zM77 250h1v1h-1zM162 250h1v1h-1zM204 250h1v1h-1zM6 252h1v1h-1zM82 252h1v1h-1zM213 253h1v1h-1zM5 254h1v1h-1zM9 254h1v1h-1zM5 255h1v1h-1zM188 255h1v1h-1zM178 256h1v1h-1zM15 257h1v1h-1zM162 258h1v1h-1zM227 258h1v1h-1zM22 259h1v1h-1zM3 260h2v1h-2zM4 263h1v1h-1zM15 263h1v1h-1zM7 264h1v1h-1zM52 267h1v1h-1zM164 268h1v1h-1zM22 269h1v1h-1zM168 269h1v1h-1zM2 271h1v1h-1zM165 272h1v1h-1zM15 283h1v1h-1zM14 288h1v1h-1zM22 301h1v1h-1zM15 304h1v1h-1zM15 305h1v1h-1zM15 308h1v1h-1zM21 317h1v1h-1zM32 406h2v1h-2zM33 408h1v1h-1zM36 415h1v1h-1zM31 418h1v1h-1zM41 418h1v1h-1zM30 419h1v1h-1zM29 421h1v1h-1zM31 421h2v1h-2zM24 424h1v1h-1zM19 426h1v1h-1zM19 427h1v1h-1zM26 429h1v1h-1zM18 436h1v1h-1zM12 437h1v1h-1zM121 441h1v1h-1zM47 443h1v1h-1zM143 443h1v1h-1zM213 443h1v1h-1zM185 444h1v1h-1zM259 444h1v1h-1zM194 446h1v1h-1zM51 447h1v1h-1zM22 448h1v1h-1zM209 449h1v1h-1zM244 449h1v1h-1zM4 452h1v1h-1zM179 452h1v1h-1zM265 456h1v1h-1zM1 459h1v1h-1zM52 473h1v1h-1z"/>
<path fill="#50ffaf" d="M29 59h1v1h-1zM38 66h1v1h-1zM13 67h1v1h-1zM15 68h1v1h-1zM33 68h1v1h-1zM41 70h2v1h-2zM27 71h1v1h-1zM117 71h1v1h-1zM1 73h1v1h-1zM43 73h1v1h-1zM21 74h1v1h-1zM45 76h1v1h-1zM164 83h1v1h-1zM179 84h1v1h-1zM48 86h1v1h-1zM143 88h1v1h-1zM232 93h1v1h-1zM232 94h1v1h-1zM170 99h1v1h-1zM50 102h1v1h-1zM168 107h1v1h-1zM36 219h1v1h-1zM81 223h2v1h-2zM38 227h1v1h-1zM82 238h1v1h-1zM160 240h1v1h-1zM21 241h1v1h-1zM45 245h1v1h-1zM45 246h1v1h-1zM6 248h1v1h-1zM8 248h1v1h-1zM22 248h1v1h-1zM6 249h1v1h-1zM205 250h1v1h-1zM15 251h1v1h-1zM0 252h1v1h-1zM81 252h1v1h-1zM181 254h1v1h-1zM49 256h1v1h-1zM182 256h1v1h-1zM194 258h1v1h-1zM50 261h1v1h-1zM238 261h1v1h-1zM244 261h1v1h-1zM22 263h1v1h-1zM34 263h1v1h-1zM170 263h1v1h-1zM34 268h1v1h-1zM52 271h1v1h-1zM96 273h1v1h-1zM15 278h1v1h-1zM54 278h1v1h-1zM5 282h1v1h-1zM11 303h1v1h-1zM21 307h1v1h-1zM81 308h1v1h-1zM15 309h1v1h-1zM76 310h1v1h-1zM81 311h1v1h-1zM21 312h1v1h-1zM21 313h1v1h-1zM14 317h1v1h-1zM14 318h2v1h-2zM14 326h1v1h-1zM25 411h1v1h-1zM28 416h1v1h-1zM34 420h1v1h-1zM25 422h1v1h-1zM17 423h2v1h-2zM23 423h1v1h-1zM38 427h1v1h-1zM160 433h1v1h-1zM4 434h1v1h-1zM16 434h1v1h-1zM13 437h2v1h-2zM19 437h1v1h-1zM5 439h1v1h-1zM11 440h1v1h-1zM4 441h1v1h-1zM130 442h1v1h-1zM7 443h1v1h-1zM0 444h1v1h-1zM22 444h1v1h-1zM198 444h1v1h-1zM3 446h1v1h-1zM243 448h1v1h-1zM166 450h1v1h-1zM168 450h1v1h-1zM202 450h1v1h-1zM219 450h1v1h-1zM190 455h1v1h-1zM56 485h1v1h-1z"/>
<path fill="#60ff9f" d="M31 55h1v1h-1zM28 56h1v1h-1zM31 57h1v1h-1zM24 58h1v1h-1zM30 66h1v1h-1zM26 67h1v1h-1zM23 68h1v1h-1zM13 74h1v1h-1zM10 76h1v1h-1zM47 76h1v1h-1zM251 77h1v1h-1zM10 78h1v1h-1zM153 78h1v1h-1zM46 81h1v1h-1zM3 82h1v1h-1zM11 82h1v1h-1zM205 84h1v1h-1zM132 85h1v1h-1zM199 85h1v1h-1zM5 86h1v1h-1zM4 87h1v1h-1zM2 88h1v1h-1zM262 91h1v1h-1zM7 93h1v1h-1zM186 94h1v1h-1zM188 94h1v1h-1zM51 106h1v1h-1zM33 217h1v1h-1zM35 226h1v1h-1zM41 233h1v1h-1zM43 236h1v1h-1zM21 237h1v1h-1zM42 238h1v1h-1zM160 239h1v1h-1zM50 243h1v1h-1zM15 244h1v1h-1zM13 245h1v1h-1zM157 245h1v1h-1zM8 246h1v1h-1zM10 246h1v1h-1zM9 247h1v1h-1zM77 249h1v1h-1zM21 250h1v1h-1zM7 252h1v1h-1zM10 252h1v1h-1zM22 252h1v1h-1zM4 253h1v1h-1zM6 253h1v1h-1zM22 253h1v1h-1zM257 253h1v1h-1zM0 254h1v1h-1zM199 254h1v1h-1zM151 255h2v1h-2zM197 255h1v1h-1zM0 258h1v1h-1zM6 258h1v1h-1zM187 258h1v1h-1zM22 260h1v1h-1zM15 261h1v1h-1zM34 272h1v1h-1zM22 273h1v1h-1zM55 285h1v1h-1zM15 303h1v1h-1zM11 304h1v1h-1zM21 304h1v1h-1zM15 306h1v1h-1zM15 307h1v1h-1zM82 307h1v1h-1zM76 311h1v1h-1zM15 317h1v1h-1zM14 330h1v1h-1zM31 407h1v1h-1zM25 408h1v1h-1zM28 414h1v1h-1zM28 415h1v1h-1zM34 415h1v1h-1zM38 415h1v1h-1zM27 420h1v1h-1zM43 427h1v1h-1zM4 433h1v1h-1zM20 433h1v1h-1zM45 433h1v1h-1zM50 442h1v1h-1zM211 444h1v1h-1zM233 445h1v1h-1zM7 446h1v1h-1zM22 446h1v1h-1zM189 446h1v1h-1zM51 448h1v1h-1zM2 449h1v1h-1zM136 450h1v1h-1zM222 451h1v1h-1zM224 451h1v1h-1zM140 453h1v1h-1zM174 454h1v1h-1zM264 457h1v1h-1z"/>
<path fill="#70ff8f" d="M34 46h1v1h-1zM28 53h1v1h-1zM16 59h1v1h-1zM31 59h1v1h-1zM33 61h1v1h-1zM35 61h1v1h-1zM17 66h1v1h-1zM20 67h1v1h-1zM21 69h1v1h-1zM117 72h1v1h-1zM16 74h1v1h-1zM18 74h1v1h-1zM4 75h1v1h-1zM159 76h1v1h-1zM47 77h1v1h-1zM46 82h1v1h-1zM6 84h1v1h-1zM158 84h1v1h-1zM270 86h1v1h-1zM224 87h1v1h-1zM186 90h1v1h-1zM189 92h1v1h-1zM5 95h1v1h-1zM169 108h1v1h-1zM31 213h1v1h-1zM29 221h1v1h-1zM30 227h1v1h-1zM32 227h1v1h-1zM37 227h1v1h-1zM31 231h1v1h-1zM27 236h1v1h-1zM29 239h1v1h-1zM45 239h1v1h-1zM37 240h1v1h-1zM20 242h1v1h-1zM27 242h1v1h-1zM17 244h1v1h-1zM161 244h1v1h-1zM96 246h1v1h-1zM47 247h1v1h-1zM22 249h1v1h-1zM50 249h1v1h-1zM8 250h1v1h-1zM10 250h1v1h-1zM76 250h1v1h-1zM5 251h1v1h-1zM76 251h1v1h-1zM15 253h1v1h-1zM216 254h1v1h-1zM247 255h1v1h-1zM194 257h1v1h-1zM191 258h1v1h-1zM226 258h1v1h-1zM15 260h1v1h-1zM21 260h1v1h-1zM34 261h1v1h-1zM11 262h1v1h-1zM22 262h1v1h-1zM241 265h1v1h-1zM34 267h1v1h-1zM15 271h1v1h-1zM22 272h1v1h-1zM97 272h1v1h-1zM14 279h1v1h-1zM15 282h1v1h-1zM22 292h1v1h-1zM5 293h1v1h-1zM22 299h1v1h-1zM15 300h1v1h-1zM82 304h1v1h-1zM82 305h1v1h-1zM82 306h1v1h-1zM81 307h1v1h-1zM81 309h1v1h-1zM77 310h1v1h-1zM14 316h1v1h-1zM29 407h1v1h-1zM17 416h1v1h-1zM27 417h1v1h-1zM27 421h1v1h-1zM40 423h1v1h-1zM3 431h1v1h-1zM6 434h1v1h-1zM45 434h1v1h-1zM4 435h1v1h-1zM47 435h1v1h-1zM120 435h1v1h-1zM16 436h1v1h-1zM46 436h1v1h-1zM13 439h1v1h-1zM127 439h1v1h-1zM22 440h1v1h-1zM50 440h1v1h-1zM214 440h1v1h-1zM5 441h1v1h-1zM11 442h1v1h-1zM145 442h1v1h-1zM261 444h1v1h-1zM1 445h1v1h-1zM51 445h1v1h-1zM206 445h1v1h-1zM212 447h1v1h-1zM217 447h1v1h-1zM1 448h1v1h-1zM163 448h1v1h-1zM201 449h1v1h-1zM217 449h1v1h-1zM4 450h1v1h-1zM221 451h1v1h-1zM227 454h1v1h-1zM22 455h1v1h-1zM173 458h1v1h-1zM57 473h1v1h-1z"/>
<path fill="#80ff80" d="M31 56h1v1h-1zM24 61h1v1h-1zM29 64h1v1h-1zM25 65h1v1h-1zM32 65h1v1h-1zM29 66h1v1h-1zM39 66h1v1h-1zM23 67h1v1h-1zM37 69h1v1h-1zM40 69h1v1h-1zM4 72h1v1h-1zM46 72h1v1h-1zM42 73h1v1h-1zM1 76h1v1h-1zM11 76h1v1h-1zM9 77h1v1h-1zM13 77h1v1h-1zM45 77h1v1h-1zM9 78h1v1h-1zM20 79h1v1h-1zM46 79h1v1h-1zM147 81h1v1h-1zM254 81h1v1h-1zM239 82h1v1h-1zM147 83h1v1h-1zM165 85h1v1h-1zM279 86h1v1h-1zM0 87h1v1h-1zM187 94h1v1h-1zM171 97h1v1h-1zM51 104h1v1h-1zM26 225h1v1h-1zM31 233h1v1h-1zM36 234h1v1h-1zM38 237h1v1h-1zM43 241h1v1h-1zM46 241h1v1h-1zM46 245h2v1h-2zM47 248h1v1h-1zM156 248h1v1h-1zM15 249h1v1h-1zM77 251h1v1h-1zM155 251h1v1h-1zM161 251h1v1h-1zM213 254h1v1h-1zM207 255h1v1h-1zM218 255h1v1h-1zM233 256h1v1h-1zM1 258h1v1h-1zM211 259h1v1h-1zM50 260h1v1h-1zM229 261h1v1h-1zM171 265h1v1h-1zM14 269h1v1h-1zM2 273h1v1h-1zM22 283h1v1h-1zM15 296h1v1h-1zM81 306h1v1h-1zM33 418h1v1h-1zM32 420h1v1h-1zM26 422h1v1h-1zM28 423h1v1h-1zM34 423h1v1h-1zM39 425h1v1h-1zM25 427h1v1h-1zM27 427h1v1h-1zM17 431h1v1h-1zM20 431h1v1h-1zM40 431h1v1h-1zM43 432h1v1h-1zM0 434h1v1h-1zM42 434h1v1h-1zM17 436h1v1h-1zM162 440h1v1h-1zM151 444h1v1h-1zM22 445h1v1h-1zM154 447h1v1h-1zM1 450h1v1h-1zM174 453h1v1h-1zM181 453h1v1h-1zM181 454h1v1h-1zM170 456h1v1h-1zM1 457h1v1h-1z"/>
<path fill="#8fff70" d="M31 53h1v1h-1zM32 59h1v1h-1zM29 60h1v1h-1zM36 61h1v1h-1zM35 65h1v1h-1zM15 75h1v1h-1zM8 79h1v1h-1zM1 82h1v1h-1zM235 87h1v1h-1zM135 89h1v1h-1zM135 91h1v1h-1zM186 91h1v1h-1zM4 94h1v1h-1zM170 98h1v1h-1zM169 102h1v1h-1zM34 229h1v1h-1zM29 231h1v1h-1zM35 234h1v1h-1zM38 235h1v1h-1zM37 236h1v1h-1zM34 237h1v1h-1zM34 238h1v1h-1zM81 238h1v1h-1zM34 239h1v1h-1zM34 240h1v1h-1zM8 243h1v1h-1zM22 244h1v1h-1zM97 246h1v1h-1zM17 247h1v1h-1zM48 247h1v1h-1zM97 247h1v1h-1zM147 247h1v1h-1zM2 248h1v1h-1zM18 248h1v1h-1zM48 248h1v1h-1zM8 249h1v1h-1zM15 250h1v1h-1zM22 250h1v1h-1zM6 251h1v1h-1zM34 251h1v1h-1zM4 252h1v1h-1zM181 253h1v1h-1zM214 253h1v1h-1zM22 255h1v1h-1zM261 256h1v1h-1zM51 257h1v1h-1zM153 257h1v1h-1zM22 258h1v1h-1zM224 258h1v1h-1zM11 260h1v1h-1zM210 260h1v1h-1zM0 261h1v1h-1zM34 262h1v1h-1zM10 263h1v1h-1zM34 266h1v1h-1zM14 270h1v1h-1zM167 271h1v1h-1zM33 273h1v1h-1zM15 280h1v1h-1zM15 284h1v1h-1zM15 285h1v1h-1zM22 298h1v1h-1zM15 302h1v1h-1zM21 303h1v1h-1zM81 303h1v1h-1zM14 304h1v1h-1zM81 305h1v1h-1zM14 313h1v1h-1zM14 315h1v1h-1zM14 322h1v1h-1zM14 324h1v1h-1zM24 419h1v1h-1zM33 420h1v1h-1zM38 422h1v1h-1zM22 424h1v1h-1zM26 425h1v1h-1zM25 426h1v1h-1zM31 427h1v1h-1zM33 427h1v1h-1zM19 428h2v1h-2zM39 428h1v1h-1zM7 430h1v1h-1zM46 433h1v1h-1zM10 434h1v1h-1zM4 436h1v1h-1zM13 436h1v1h-1zM0 437h1v1h-1zM49 437h1v1h-1zM13 438h1v1h-1zM3 439h1v1h-1zM6 439h1v1h-1zM7 440h1v1h-1zM147 442h1v1h-1zM6 443h1v1h-1zM133 447h1v1h-1zM142 449h1v1h-1zM225 449h1v1h-1zM234 449h1v1h-1z"/>
<path fill="#9fff60" d="M35 36h1v1h-1zM33 58h1v1h-1zM33 62h1v1h-1zM34 65h1v1h-1zM38 67h1v1h-1zM20 70h1v1h-1zM26 71h1v1h-1zM41 71h1v1h-1zM18 72h1v1h-1zM20 72h1v1h-1zM43 72h1v1h-1zM5 75h1v1h-1zM149 76h1v1h-1zM122 78h1v1h-1zM11 81h1v1h-1zM8 82h1v1h-1zM133 82h1v1h-1zM5 84h1v1h-1zM48 91h1v1h-1zM167 106h1v1h-1zM82 224h1v1h-1zM31 232h1v1h-1zM34 232h1v1h-1zM34 234h1v1h-1zM40 235h1v1h-1zM158 235h1v1h-1zM28 237h1v1h-1zM36 238h1v1h-1zM29 242h1v1h-1zM19 246h1v1h-1zM96 247h1v1h-1zM5 248h1v1h-1zM9 248h1v1h-1zM7 250h1v1h-1zM155 250h1v1h-1zM14 251h1v1h-1zM48 251h1v1h-1zM8 253h1v1h-1zM81 253h2v1h-2zM245 255h1v1h-1zM14 256h1v1h-1zM212 256h1v1h-1zM34 257h1v1h-1zM15 258h1v1h-1zM21 258h1v1h-1zM163 261h1v1h-1zM209 261h1v1h-1zM21 262h1v1h-1zM15 281h1v1h-1zM22 284h1v1h-1zM21 301h1v1h-1zM11 305h1v1h-1zM21 305h1v1h-1zM77 309h1v1h-1zM14 328h1v1h-1zM40 415h1v1h-1zM32 416h1v1h-1zM32 425h1v1h-1zM35 429h1v1h-1zM7 432h1v1h-1zM0 433h1v1h-1zM43 435h1v1h-1zM2 437h1v1h-1zM46 437h1v1h-1zM4 439h1v1h-1zM161 439h1v1h-1zM7 441h1v1h-1zM126 441h1v1h-1zM1 443h1v1h-1zM5 444h1v1h-1zM2 446h1v1h-1zM143 446h1v1h-1zM166 447h1v1h-1zM253 447h1v1h-1zM51 449h1v1h-1zM2 451h1v1h-1zM153 451h1v1h-1zM22 452h1v1h-1zM171 466h1v1h-1z"/>
<path fill="#afff50" d="M24 69h1v1h-1zM45 72h1v1h-1zM20 73h1v1h-1zM12 74h1v1h-1zM14 74h1v1h-1zM41 74h1v1h-1zM43 75h1v1h-1zM45 75h1v1h-1zM9 76h1v1h-1zM19 77h1v1h-1zM12 78h1v1h-1zM1 79h1v1h-1zM13 79h1v1h-1zM200 82h1v1h-1zM7 83h1v1h-1zM1 87h1v1h-1zM6 89h1v1h-1zM178 89h1v1h-1zM168 106h1v1h-1zM37 221h1v1h-1zM82 225h1v1h-1zM82 227h1v1h-1zM42 237h1v1h-1zM43 238h1v1h-1zM25 239h1v1h-1zM26 240h1v1h-1zM45 241h1v1h-1zM21 242h1v1h-1zM161 243h1v1h-1zM156 249h1v1h-1zM77 252h1v1h-1zM179 252h1v1h-1zM178 253h1v1h-1zM1 254h1v1h-1zM22 254h1v1h-1zM151 256h1v1h-1zM34 258h1v1h-1zM231 259h1v1h-1zM240 263h1v1h-1zM15 264h1v1h-1zM22 264h1v1h-1zM34 264h1v1h-1zM33 265h1v1h-1zM15 270h1v1h-1zM34 270h1v1h-1zM168 270h1v1h-1zM22 275h1v1h-1zM14 281h1v1h-1zM22 282h1v1h-1zM82 296h1v1h-1zM21 297h1v1h-1zM82 297h1v1h-1zM82 302h1v1h-1zM21 308h1v1h-1zM14 311h1v1h-1zM14 323h1v1h-1zM31 423h1v1h-1zM27 424h1v1h-1zM29 425h1v1h-1zM34 428h1v1h-1zM19 429h1v1h-1zM21 429h1v1h-1zM40 432h1v1h-1zM8 439h1v1h-1zM3 441h1v1h-1zM6 441h1v1h-1zM145 441h1v1h-1zM8 442h1v1h-1zM260 442h1v1h-1zM148 443h1v1h-1zM5 445h1v1h-1zM211 445h1v1h-1zM51 446h1v1h-1zM234 448h1v1h-1zM225 450h1v1h-1zM228 457h1v1h-1zM170 458h1v1h-1z"/>
<path fill="#bfff40" d="M35 39h1v1h-1zM21 67h1v1h-1zM28 67h1v1h-1zM39 67h1v1h-1zM148 74h1v1h-1zM13 76h1v1h-1zM16 76h1v1h-1zM0 77h1v1h-1zM11 77h1v1h-1zM7 79h1v1h-1zM47 79h1v1h-1zM3 80h1v1h-1zM6 80h1v1h-1zM4 82h1v1h-1zM48 82h1v1h-1zM46 83h1v1h-1zM2 84h1v1h-1zM229 85h1v1h-1zM82 226h1v1h-1zM33 227h2v1h-2zM39 234h1v1h-1zM30 235h1v1h-1zM159 237h1v1h-1zM35 238h1v1h-1zM24 239h1v1h-1zM18 245h1v1h-1zM44 245h1v1h-1zM143 245h1v1h-1zM17 246h1v1h-1zM4 248h1v1h-1zM5 249h1v1h-1zM21 251h1v1h-1zM50 254h1v1h-1zM206 254h1v1h-1zM22 257h1v1h-1zM5 261h1v1h-1zM22 261h1v1h-1zM51 261h1v1h-1zM96 271h1v1h-1zM96 272h1v1h-1zM22 277h1v1h-1zM22 287h1v1h-1zM15 288h1v1h-1zM22 289h1v1h-1zM11 302h1v1h-1zM81 302h1v1h-1zM81 304h1v1h-1zM77 305h1v1h-1zM30 420h1v1h-1zM38 424h1v1h-1zM27 426h1v1h-1zM23 427h1v1h-1zM35 427h1v1h-1zM118 428h1v1h-1zM12 436h1v1h-1zM3 438h1v1h-1zM44 438h1v1h-1zM49 439h1v1h-1zM0 443h1v1h-1zM231 444h1v1h-1zM142 447h1v1h-1zM244 448h1v1h-1zM201 450h1v1h-1zM223 450h1v1h-1zM210 451h1v1h-1z"/>
<path fill="#cfff30" d="M31 58h1v1h-1zM33 59h1v1h-1zM22 71h1v1h-1zM20 74h1v1h-1zM10 75h1v1h-1zM47 81h1v1h-1zM1 94h1v1h-1zM168 109h1v1h-1zM81 224h1v1h-1zM82 228h1v1h-1zM81 231h1v1h-1zM82 232h1v1h-1zM82 234h1v1h-1zM41 235h1v1h-1zM31 237h1v1h-1zM37 237h1v1h-1zM81 237h1v1h-1zM24 242h1v1h-1zM34 242h1v1h-1zM18 244h1v1h-1zM34 246h1v1h-1zM48 246h1v1h-1zM20 248h1v1h-1zM21 252h1v1h-1zM34 252h1v1h-1zM76 252h1v1h-1zM14 254h1v1h-1zM90 254h1v1h-1zM225 255h1v1h-1zM234 255h1v1h-1zM4 256h1v1h-1zM6 257h1v1h-1zM14 259h1v1h-1zM274 260h1v1h-1zM15 262h1v1h-1zM2 263h1v1h-1zM15 266h1v1h-1zM172 267h1v1h-1zM14 273h1v1h-1zM21 275h1v1h-1zM15 276h1v1h-1zM22 279h1v1h-1zM14 282h1v1h-1zM15 286h1v1h-1zM22 286h1v1h-1zM15 289h1v1h-1zM15 299h1v1h-1zM82 299h1v1h-1zM14 300h1v1h-1zM21 306h1v1h-1zM38 425h1v1h-1zM40 425h1v1h-1zM21 426h1v1h-1zM39 427h1v1h-1zM20 430h1v1h-1zM43 430h1v1h-1zM1 436h1v1h-1zM3 436h1v1h-1zM44 436h1v1h-1zM8 437h1v1h-1zM1 439h1v1h-1zM15 439h1v1h-1zM46 440h2v1h-2zM4 442h1v1h-1zM10 442h1v1h-1zM47 442h1v1h-1zM141 449h1v1h-1zM142 450h1v1h-1zM227 452h1v1h-1zM174 457h1v1h-1z"/>
<path fill="#dfff20" d="M30 55h1v1h-1zM34 61h1v1h-1zM36 66h2v1h-2zM22 67h1v1h-1zM41 69h1v1h-1zM41 72h1v1h-1zM14 79h1v1h-1zM48 83h1v1h-1zM48 85h1v1h-1zM202 85h1v1h-1zM1 89h1v1h-1zM171 93h1v1h-1zM166 94h1v1h-1zM34 224h1v1h-1zM82 230h1v1h-1zM82 231h1v1h-1zM32 232h1v1h-1zM40 232h1v1h-1zM82 233h1v1h-1zM30 236h1v1h-1zM39 236h1v1h-1zM43 237h1v1h-1zM34 244h1v1h-1zM23 246h1v1h-1zM18 247h1v1h-1zM12 248h1v1h-1zM48 249h1v1h-1zM6 250h1v1h-1zM14 250h1v1h-1zM16 250h1v1h-1zM22 251h1v1h-1zM7 253h1v1h-1zM14 253h1v1h-1zM33 256h1v1h-1zM14 257h1v1h-1zM21 259h1v1h-1zM11 263h1v1h-1zM176 263h1v1h-1zM97 271h1v1h-1zM22 276h1v1h-1zM15 290h1v1h-1zM15 292h1v1h-1zM22 293h1v1h-1zM15 294h1v1h-1zM21 300h1v1h-1zM82 300h1v1h-1zM81 301h1v1h-1zM82 303h1v1h-1zM14 305h1v1h-1zM14 312h1v1h-1zM31 417h1v1h-1zM32 424h2v1h-2zM29 427h1v1h-1zM27 428h1v1h-1zM40 429h1v1h-1zM7 438h1v1h-1zM14 439h1v1h-1zM22 439h1v1h-1zM147 441h1v1h-1zM7 442h1v1h-1zM151 446h1v1h-1zM125 447h1v1h-1zM50 448h1v1h-1zM4 449h1v1h-1zM138 457h2v1h-2z"/>
<path fill="#efff10" d="M32 60h1v1h-1zM37 65h2v1h-2zM28 69h1v1h-1zM24 70h1v1h-1zM29 70h1v1h-1zM42 74h2v1h-2zM7 77h2v1h-2zM13 78h1v1h-1zM5 79h1v1h-1zM205 87h1v1h-1zM243 88h1v1h-1zM3 92h1v1h-1zM33 218h1v1h-1zM81 225h1v1h-1zM81 232h1v1h-1zM34 235h1v1h-1zM82 237h1v1h-1zM46 243h1v1h-1zM46 246h1v1h-1zM20 247h1v1h-1zM21 248h1v1h-1zM12 249h1v1h-1zM19 249h1v1h-1zM8 252h1v1h-1zM11 252h1v1h-1zM14 252h1v1h-1zM21 254h1v1h-1zM183 258h1v1h-1zM11 261h1v1h-1zM14 262h1v1h-1zM209 262h1v1h-1zM21 263h1v1h-1zM15 267h1v1h-1zM33 268h1v1h-1zM52 269h1v1h-1zM14 271h1v1h-1zM22 271h1v1h-1zM33 272h1v1h-1zM15 273h1v1h-1zM11 274h1v1h-1zM22 291h1v1h-1zM21 292h1v1h-1zM22 294h1v1h-1zM81 294h1v1h-1zM82 295h1v1h-1zM21 296h1v1h-1zM15 297h1v1h-1zM82 298h1v1h-1zM11 299h1v1h-1zM82 301h1v1h-1zM21 309h1v1h-1zM76 309h1v1h-1zM14 310h1v1h-1zM23 424h1v1h-1zM25 424h1v1h-1zM32 426h1v1h-1zM37 427h1v1h-1zM40 428h1v1h-1zM44 434h1v1h-1zM3 435h1v1h-1zM14 435h1v1h-1zM15 436h1v1h-1zM12 439h1v1h-1zM215 439h1v1h-1zM4 440h1v1h-1zM14 440h1v1h-1zM50 444h1v1h-1zM183 447h1v1h-1z"/>
<path fill="#ffff00" d="M34 63h1v1h-1zM21 72h1v1h-1zM18 75h1v1h-1zM159 77h1v1h-1zM8 78h1v1h-1zM128 87h1v1h-1zM33 222h1v1h-1zM33 225h1v1h-1zM33 228h1v1h-1zM81 229h1v1h-1zM81 230h1v1h-1zM34 231h1v1h-1zM24 241h1v1h-1zM26 241h1v1h-1zM96 248h1v1h-1zM96 249h1v1h-1zM0 253h1v1h-1zM81 254h1v1h-1zM2 255h1v1h-1zM21 255h1v1h-1zM1 256h1v1h-1zM49 257h1v1h-1zM21 261h1v1h-1zM184 261h1v1h-1zM4 264h1v1h-1zM33 264h1v1h-1zM14 265h1v1h-1zM21 266h1v1h-1zM22 268h1v1h-1zM21 270h1v1h-1zM21 272h1v1h-1zM22 274h1v1h-1zM14 277h1v1h-1zM14 284h1v1h-1zM14 286h1v1h-1zM15 293h1v1h-1zM21 294h1v1h-1zM81 295h1v1h-1zM14 296h1v1h-1zM21 298h1v1h-1zM81 298h1v1h-1zM81 299h1v1h-1zM81 300h1v1h-1zM77 301h1v1h-1zM76 308h1v1h-1zM14 314h1v1h-1zM30 421h1v1h-1zM38 421h1v1h-1zM33 425h1v1h-1zM37 425h1v1h-1zM40 426h1v1h-1zM19 431h1v1h-1zM15 433h1v1h-1zM12 438h1v1h-1zM45 440h1v1h-1zM6 442h1v1h-1zM185 442h1v1h-1zM4 443h1v1h-1zM216 444h1v1h-1z"/>
<path fill="#ffef00" d="M31 63h1v1h-1zM31 64h1v1h-1zM25 67h1v1h-1zM40 70h1v1h-1zM23 73h1v1h-1zM44 75h1v1h-1zM46 77h1v1h-1zM0 78h1v1h-1zM227 81h1v1h-1zM5 82h1v1h-1zM3 84h1v1h-1zM130 84h1v1h-1zM216 85h1v1h-1zM172 94h1v1h-1zM33 221h1v1h-1zM33 226h1v1h-1zM81 228h1v1h-1zM82 229h1v1h-1zM81 234h1v1h-1zM81 235h1v1h-1zM33 237h1v1h-1zM22 242h2v1h-2zM143 243h1v1h-1zM148 245h1v1h-1zM34 248h1v1h-1zM9 249h1v1h-1zM21 249h1v1h-1zM34 249h1v1h-1zM76 253h1v1h-1zM82 254h1v1h-1zM50 255h1v1h-1zM4 257h1v1h-1zM14 260h1v1h-1zM0 262h1v1h-1zM14 266h1v1h-1zM14 267h1v1h-1zM21 267h1v1h-1zM21 268h1v1h-1zM173 268h1v1h-1zM21 269h1v1h-1zM33 269h1v1h-1zM11 272h1v1h-1zM21 281h1v1h-1zM11 283h1v1h-1zM21 287h1v1h-1zM15 291h1v1h-1zM77 294h1v1h-1zM15 295h1v1h-1zM11 297h1v1h-1zM77 303h1v1h-1zM77 304h1v1h-1zM77 306h1v1h-1zM77 307h1v1h-1zM77 308h1v1h-1zM116 424h1v1h-1zM21 430h1v1h-1zM46 435h1v1h-1zM47 437h1v1h-1z"/>
<path fill="#ffdf00" d="M37 60h1v1h-1zM28 63h1v1h-1zM36 67h1v1h-1zM21 71h1v1h-1zM16 72h1v1h-1zM42 76h1v1h-1zM128 88h1v1h-1zM33 219h1v1h-1zM33 220h1v1h-1zM81 227h1v1h-1zM33 231h1v1h-1zM33 232h1v1h-1zM32 234h1v1h-1zM82 235h1v1h-1zM29 236h1v1h-1zM82 236h1v1h-1zM36 239h2v1h-2zM144 246h1v1h-1zM16 247h1v1h-1zM97 249h1v1h-1zM34 250h1v1h-1zM7 251h1v1h-1zM77 253h1v1h-1zM77 254h1v1h-1zM14 258h1v1h-1zM49 267h1v1h-1zM22 270h1v1h-1zM33 271h1v1h-1zM14 274h1v1h-1zM21 274h1v1h-1zM14 276h1v1h-1zM14 278h1v1h-1zM14 285h1v1h-1zM14 287h1v1h-1zM81 293h2v1h-2zM22 295h1v1h-1zM81 296h1v1h-1zM76 297h1v1h-1zM81 297h1v1h-1zM21 299h1v1h-1zM14 302h1v1h-1zM76 303h1v1h-1zM76 305h1v1h-1zM30 422h1v1h-1zM32 427h1v1h-1zM35 428h1v1h-1zM17 432h2v1h-2zM14 433h1v1h-1zM11 438h1v1h-1zM45 438h1v1h-1zM6 440h1v1h-1zM8 441h1v1h-1zM168 449h1v1h-1z"/>
<path fill="#ffcf00" d="M28 64h1v1h-1zM40 71h1v1h-1zM22 72h1v1h-1zM21 73h1v1h-1zM17 78h1v1h-1zM10 80h1v1h-1zM12 80h1v1h-1zM49 89h1v1h-1zM33 223h1v1h-1zM33 224h1v1h-1zM81 226h1v1h-1zM35 235h1v1h-1zM81 236h1v1h-1zM42 239h1v1h-1zM47 241h1v1h-1zM18 246h1v1h-1zM49 248h1v1h-1zM97 248h1v1h-1zM2 252h1v1h-1zM34 253h1v1h-1zM76 254h1v1h-1zM1 260h1v1h-1zM11 264h1v1h-1zM11 265h1v1h-1zM33 267h1v1h-1zM14 268h1v1h-1zM14 272h1v1h-1zM14 275h1v1h-1zM82 291h1v1h-1zM82 294h1v1h-1zM77 296h1v1h-1zM14 306h1v1h-1zM76 307h1v1h-1zM28 422h2v1h-2zM28 425h1v1h-1zM30 426h1v1h-1zM26 427h1v1h-1zM43 429h1v1h-1zM22 430h1v1h-1zM11 435h1v1h-1zM15 435h1v1h-1zM1 440h1v1h-1zM3 440h1v1h-1zM48 443h1v1h-1z"/>
<path fill="#ffbf00" d="M37 63h1v1h-1zM27 69h1v1h-1zM20 75h1v1h-1zM9 79h1v1h-1zM2 82h1v1h-1zM81 233h1v1h-1zM26 237h1v1h-1zM27 239h1v1h-1zM36 240h1v1h-1zM20 244h1v1h-1zM21 246h1v1h-1zM21 247h1v1h-1zM14 249h1v1h-1zM97 250h1v1h-1zM8 251h1v1h-1zM21 253h1v1h-1zM7 255h1v1h-1zM34 255h1v1h-1zM2 256h1v1h-1zM15 259h1v1h-1zM14 264h1v1h-1zM21 264h1v1h-1zM22 265h1v1h-1zM11 266h1v1h-1zM21 273h1v1h-1zM21 279h1v1h-1zM22 280h1v1h-1zM22 285h1v1h-1zM14 290h1v1h-1zM21 291h1v1h-1zM77 295h1v1h-1zM26 424h1v1h-1zM31 424h1v1h-1zM36 426h1v1h-1zM41 426h1v1h-1zM21 432h1v1h-1zM0 441h1v1h-1z"/>
<path fill="#ffaf00" d="M30 62h1v1h-1zM36 63h1v1h-1zM30 64h1v1h-1zM42 72h1v1h-1zM44 72h1v1h-1zM5 78h1v1h-1zM5 83h1v1h-1zM35 233h1v1h-1zM34 236h1v1h-1zM33 241h1v1h-1zM15 247h1v1h-1zM96 250h1v1h-1zM77 255h1v1h-1zM81 255h2v1h-2zM14 263h1v1h-1zM33 266h1v1h-1zM21 276h1v1h-1zM14 280h1v1h-1zM11 284h1v1h-1zM14 289h1v1h-1zM21 290h2v1h-2zM81 292h1v1h-1zM76 296h1v1h-1zM77 297h1v1h-1zM77 298h1v1h-1zM76 299h1v1h-1zM77 300h1v1h-1zM15 301h1v1h-1zM77 302h1v1h-1zM76 304h1v1h-1zM14 308h1v1h-1zM14 309h1v1h-1zM36 424h1v1h-1zM27 425h1v1h-1zM24 426h1v1h-1zM26 426h1v1h-1zM41 428h1v1h-1zM44 430h1v1h-1zM43 433h1v1h-1zM16 435h1v1h-1zM11 439h1v1h-1zM49 440h1v1h-1zM49 445h1v1h-1z"/>
<path fill="#ff9f00" d="M26 69h1v1h-1zM0 79h1v1h-1zM3 83h1v1h-1zM33 242h1v1h-1zM45 242h1v1h-1zM24 243h1v1h-1zM34 243h1v1h-1zM48 245h1v1h-1zM49 250h1v1h-1zM5 252h1v1h-1zM3 255h1v1h-1zM14 255h1v1h-1zM153 256h1v1h-1zM5 262h1v1h-1zM90 265h1v1h-1zM11 268h1v1h-1zM97 270h1v1h-1zM21 271h1v1h-1zM22 278h1v1h-1zM14 291h1v1h-1zM82 292h1v1h-1zM11 295h1v1h-1zM76 295h1v1h-1zM15 298h1v1h-1zM77 299h1v1h-1zM76 300h1v1h-1zM76 301h1v1h-1zM14 303h1v1h-1zM76 306h1v1h-1zM38 423h1v1h-1zM24 430h1v1h-1zM43 431h1v1h-1zM16 433h1v1h-1zM17 434h1v1h-1zM14 436h1v1h-1zM4 438h1v1h-1zM15 438h1v1h-1zM2 439h1v1h-1zM218 448h1v1h-1z"/>
<path fill="#ff8f00" d="M37 68h1v1h-1zM5 77h1v1h-1zM12 77h1v1h-1zM213 79h1v1h-1zM0 84h1v1h-1zM199 84h1v1h-1zM33 235h1v1h-1zM27 240h1v1h-1zM9 250h1v1h-1zM4 255h1v1h-1zM21 257h1v1h-1zM33 257h1v1h-1zM33 270h1v1h-1zM22 281h1v1h-1zM21 282h1v1h-1zM81 291h1v1h-1zM77 292h1v1h-1zM77 293h1v1h-1zM14 297h1v1h-1zM76 298h1v1h-1zM41 430h1v1h-1z"/>
<path fill="#ff8000" d="M34 60h1v1h-1zM32 61h1v1h-1zM19 73h1v1h-1zM19 78h1v1h-1zM7 81h1v1h-1zM4 83h1v1h-1zM35 237h1v1h-1zM22 243h1v1h-1zM17 248h1v1h-1zM97 252h1v1h-1zM3 258h1v1h-1zM2 259h2v1h-2zM33 262h1v1h-1zM96 270h1v1h-1zM11 273h1v1h-1zM14 283h1v1h-1zM21 283h1v1h-1zM21 289h1v1h-1zM81 290h1v1h-1zM14 292h1v1h-1zM76 294h1v1h-1zM14 301h1v1h-1zM76 302h1v1h-1zM31 422h1v1h-1zM24 423h1v1h-1zM40 430h1v1h-1zM43 434h1v1h-1zM5 438h1v1h-1zM14 438h1v1h-1zM2 440h1v1h-1zM10 441h1v1h-1zM3 442h1v1h-1zM150 444h1v1h-1z"/>
<path fill="#ff7000" d="M21 70h1v1h-1zM18 77h1v1h-1zM1 84h1v1h-1zM33 229h1v1h-1zM43 240h1v1h-1zM20 245h1v1h-1zM9 251h1v1h-1zM13 251h1v1h-1zM33 255h1v1h-1zM76 255h1v1h-1zM21 256h1v1h-1zM77 256h1v1h-1zM33 258h1v1h-1zM21 280h1v1h-1zM11 285h1v1h-1zM22 288h1v1h-1zM14 293h1v1h-1zM21 293h1v1h-1zM76 293h1v1h-1zM14 294h1v1h-1zM14 299h1v1h-1zM33 422h1v1h-1zM28 424h1v1h-1zM33 426h1v1h-1zM38 426h1v1h-1z"/>
<path fill="#ff6000" d="M36 65h1v1h-1zM40 68h1v1h-1zM25 70h1v1h-1zM23 74h1v1h-1zM14 78h1v1h-1zM33 230h1v1h-1zM41 237h1v1h-1zM47 246h1v1h-1zM34 247h1v1h-1zM16 249h1v1h-1zM5 256h1v1h-1zM77 257h1v1h-1zM1 259h1v1h-1zM49 262h1v1h-1zM21 277h1v1h-1zM21 278h1v1h-1zM11 279h1v1h-1zM11 282h1v1h-1zM21 288h1v1h-1zM82 289h1v1h-1zM82 290h1v1h-1zM77 291h1v1h-1zM30 424h1v1h-1zM36 425h1v1h-1zM34 427h1v1h-1zM36 427h1v1h-1zM19 432h1v1h-1zM15 437h1v1h-1zM0 439h1v1h-1zM7 439h1v1h-1zM11 441h1v1h-1z"/>
<path fill="#ff5000" d="M29 62h1v1h-1zM45 74h1v1h-1zM15 77h2v1h-2zM20 77h1v1h-1zM11 78h1v1h-1zM33 233h1v1h-1zM37 238h1v1h-1zM97 251h1v1h-1zM90 255h1v1h-1zM76 256h1v1h-1zM14 261h1v1h-1zM96 269h2v1h-2zM11 275h1v1h-1zM11 281h1v1h-1zM21 285h1v1h-1zM76 292h1v1h-1zM11 298h1v1h-1zM14 307h1v1h-1zM30 425h1v1h-1zM34 426h1v1h-1zM22 429h1v1h-1zM13 440h1v1h-1z"/>
<path fill="#ff4000" d="M32 63h1v1h-1zM0 76h1v1h-1zM11 79h2v1h-2zM2 80h1v1h-1zM4 80h1v1h-1zM0 82h1v1h-1zM33 251h1v1h-1zM81 256h1v1h-1zM77 258h1v1h-1zM33 263h1v1h-1zM11 267h1v1h-1zM11 277h1v1h-1zM11 278h1v1h-1zM11 280h1v1h-1zM81 289h1v1h-1zM11 292h1v1h-1zM21 295h1v1h-1zM11 300h1v1h-1zM35 425h1v1h-1zM28 426h1v1h-1zM4 437h1v1h-1z"/>
<path fill="#ff3000" d="M28 68h1v1h-1zM39 68h1v1h-1zM25 69h1v1h-1zM22 73h1v1h-1zM19 75h1v1h-1zM8 80h1v1h-1zM33 250h1v1h-1zM96 251h1v1h-1zM33 252h1v1h-1zM49 253h1v1h-1zM82 256h1v1h-1zM33 260h1v1h-1zM49 266h1v1h-1zM21 284h1v1h-1zM82 288h1v1h-1zM14 295h1v1h-1zM11 296h1v1h-1zM1 441h1v1h-1z"/>
<path fill="#ff2000" d="M18 76h1v1h-1zM33 236h1v1h-1zM33 239h1v1h-1zM33 248h1v1h-1zM90 256h1v1h-1zM76 257h1v1h-1zM90 257h1v1h-1zM90 258h1v1h-1zM49 263h1v1h-1zM21 265h1v1h-1zM11 271h1v1h-1zM11 276h1v1h-1zM11 290h1v1h-1zM76 290h1v1h-1zM76 291h1v1h-1z"/>
<path fill="#ff1000" d="M33 234h1v1h-1zM33 238h1v1h-1zM33 240h1v1h-1zM33 244h1v1h-1zM33 246h1v1h-1zM96 252h1v1h-1zM82 257h1v1h-1zM11 270h1v1h-1zM77 276h1v1h-1zM11 287h1v1h-1zM11 294h1v1h-1zM29 426h1v1h-1z"/>
<path fill="#ff0000" d="M9 80h1v1h-1zM33 243h1v1h-1zM33 253h1v1h-1zM97 253h1v1h-1zM33 259h1v1h-1zM77 260h1v1h-1zM33 261h1v1h-1zM90 263h1v1h-1zM96 268h2v1h-2zM77 273h1v1h-1zM77 283h1v1h-1zM21 286h1v1h-1zM81 288h1v1h-1zM11 289h1v1h-1zM76 289h1v1h-1zM77 290h1v1h-1zM14 298h1v1h-1zM47 438h1v1h-1z"/>
<path fill="#ef0000" d="M43 76h1v1h-1zM21 245h1v1h-1zM34 245h1v1h-1zM33 249h1v1h-1zM49 258h1v1h-1zM77 259h1v1h-1zM82 260h1v1h-1zM49 261h1v1h-1zM90 262h1v1h-1zM77 265h1v1h-1zM77 282h1v1h-1zM77 284h1v1h-1zM24 427h1v1h-1z"/>
<path fill="#df0000" d="M31 61h1v1h-1zM0 80h1v1h-1zM33 247h1v1h-1zM1 257h1v1h-1zM76 258h1v1h-1zM90 260h1v1h-1zM77 261h1v1h-1zM90 264h1v1h-1zM49 265h1v1h-1zM77 274h1v1h-1zM77 280h1v1h-1zM11 286h1v1h-1z"/>
<path fill="#cf0000" d="M96 253h1v1h-1zM81 257h1v1h-1zM90 259h1v1h-1zM49 260h1v1h-1zM90 261h1v1h-1zM97 267h1v1h-1zM77 268h1v1h-1zM76 269h2v1h-2zM76 271h1v1h-1zM77 272h1v1h-1zM76 273h1v1h-1zM76 275h2v1h-2zM76 276h1v1h-1zM82 282h1v1h-1zM76 285h1v1h-1zM77 287h1v1h-1zM11 288h1v1h-1zM77 288h1v1h-1zM77 289h1v1h-1zM11 293h1v1h-1z"/>
<path fill="#bf0000" d="M7 80h1v1h-1zM97 254h1v1h-1zM96 257h1v1h-1zM81 258h1v1h-1zM76 261h1v1h-1zM96 261h1v1h-1zM77 266h1v1h-1zM77 267h1v1h-1zM96 267h1v1h-1zM76 268h1v1h-1zM77 271h1v1h-1zM77 278h1v1h-1zM77 279h1v1h-1zM82 279h1v1h-1zM77 281h1v1h-1zM76 284h1v1h-1zM77 285h1v1h-1zM5 442h1v1h-1z"/>
<path fill="#af0000" d="M29 65h1v1h-1zM27 67h1v1h-1zM97 258h1v1h-1zM76 259h1v1h-1zM82 259h1v1h-1zM97 262h1v1h-1zM97 263h1v1h-1zM49 264h1v1h-1zM76 264h1v1h-1zM11 269h1v1h-1zM76 270h1v1h-1zM82 274h1v1h-1zM77 277h1v1h-1zM82 277h1v1h-1zM76 279h1v1h-1zM76 283h1v1h-1zM77 286h1v1h-1zM76 288h1v1h-1zM29 423h1v1h-1z"/>
<path fill="#9f0000" d="M23 71h1v1h-1zM33 245h1v1h-1zM96 254h1v1h-1zM82 258h1v1h-1zM96 258h1v1h-1zM97 259h1v1h-1zM76 260h1v1h-1zM82 262h1v1h-1zM77 263h1v1h-1zM77 264h1v1h-1zM82 264h1v1h-1zM82 271h1v1h-1zM81 274h1v1h-1zM82 276h1v1h-1zM76 278h1v1h-1zM76 280h1v1h-1zM81 284h1v1h-1zM82 286h1v1h-1zM81 287h2v1h-2zM35 426h1v1h-1zM1 438h1v1h-1z"/>
<path fill="#8f0000" d="M33 254h1v1h-1zM96 255h2v1h-2zM49 259h1v1h-1zM82 261h1v1h-1zM76 262h2v1h-2zM96 263h1v1h-1zM81 264h1v1h-1zM97 265h1v1h-1zM81 266h1v1h-1zM96 266h2v1h-2zM81 267h1v1h-1zM82 268h1v1h-1zM82 269h1v1h-1zM77 270h1v1h-1zM82 270h1v1h-1zM76 272h1v1h-1zM82 272h1v1h-1zM81 275h2v1h-2zM76 277h1v1h-1zM82 278h1v1h-1zM82 281h1v1h-1zM76 282h1v1h-1zM82 285h1v1h-1z"/>
<path fill="#800000" d="M96 256h2v1h-2zM97 257h1v1h-1zM81 259h1v1h-1zM96 259h1v1h-1zM81 260h1v1h-1zM96 260h2v1h-2zM81 261h1v1h-1zM97 261h1v1h-1zM81 262h1v1h-1zM96 262h1v1h-1zM76 263h1v1h-1zM81 263h2v1h-2zM96 264h2v1h-2zM76 265h1v1h-1zM81 265h2v1h-2zM96 265h1v1h-1zM76 266h1v1h-1zM82 266h1v1h-1zM76 267h1v1h-1zM82 267h1v1h-1zM81 268h1v1h-1zM81 269h1v1h-1zM81 270h1v1h-1zM81 271h1v1h-1zM81 272h1v1h-1zM81 273h2v1h-2zM76 274h1v1h-1zM81 276h1v1h-1zM81 277h1v1h-1zM81 278h1v1h-1zM81 279h1v1h-1zM81 280h2v1h-2zM76 281h1v1h-1zM81 281h1v1h-1zM81 282h1v1h-1zM81 283h2v1h-2zM82 284h1v1h-1zM81 285h1v1h-1zM76 286h1v1h-1zM81 286h1v1h-1zM76 287h1v1h-1zM11 291h1v1h-1z"/>
</g>
<rect x="288.00" y="256.0" width="1.00" height="226.0" fill="#000094"/>
<rect x="298.00" y="256.0" width="1.00" height="222.0" fill="#000094"/>
<rect x="328.00" y="318.0" width="1.00" height="94.0" fill="#00008f"/>
<rect x="313.00" y="288.0" width="0.50" height="158.0" fill="#00008f"/>
<rect x="314.50" y="288.0" width="0.50" height="158.0" fill="#00008f"/>
<rect x="300.20" y="318.0" width="0.80" height="128.0" fill="#00008f"/>
<!-- axes box -->
<rect x="133.0" y="66.0" width="798.0" height="714.0" fill="none" stroke="#262626" stroke-opacity=".6" stroke-width="1"/>
<!-- colour bar -->
<rect x="969" y="66.000" width="45" height="714.000" fill="#800000"/>
<rect x="969" y="77.156" width="45" height="702.844" fill="#8f0000"/>
<rect x="969" y="88.312" width="45" height="691.688" fill="#9f0000"/>
<rect x="969" y="99.469" width="45" height="680.531" fill="#af0000"/>
<rect x="969" y="110.625" width="45" height="669.375" fill="#bf0000"/>
<rect x="969" y="121.781" width="45" height="658.219" fill="#cf0000"/>
<rect x="969" y="132.938" width="45" height="647.062" fill="#df0000"/>
<rect x="969" y="144.094" width="45" height="635.906" fill="#ef0000"/>
<rect x="969" y="155.250" width="45" height="624.750" fill="#ff0000"/>
<rect x="969" y="166.406" width="45" height="613.594" fill="#ff1000"/>
<rect x="969" y="177.562" width="45" height="602.438" fill="#ff2000"/>
<rect x="969" y="188.719" width="45" height="591.281" fill="#ff3000"/>
<rect x="969" y="199.875" width="45" height="580.125" fill="#ff4000"/>
<rect x="969" y="211.031" width="45" height="568.969" fill="#ff5000"/>
<rect x="969" y="222.188" width="45" height="557.812" fill="#ff6000"/>
<rect x="969" y="233.344" width="45" height="546.656" fill="#ff7000"/>
<rect x="969" y="244.500" width="45" height="535.500" fill="#ff8000"/>
<rect x="969" y="255.656" width="45" height="524.344" fill="#ff8f00"/>
<rect x="969" y="266.812" width="45" height="513.188" fill="#ff9f00"/>
<rect x="969" y="277.969" width="45" height="502.031" fill="#ffaf00"/>
<rect x="969" y="289.125" width="45" height="490.875" fill="#ffbf00"/>
<rect x="969" y="300.281" width="45" height="479.719" fill="#ffcf00"/>
<rect x="969" y="311.438" width="45" height="468.562" fill="#ffdf00"/>
<rect x="969" y="322.594" width="45" height="457.406" fill="#ffef00"/>
<rect x="969" y="333.750" width="45" height="446.250" fill="#ffff00"/>
<rect x="969" y="344.906" width="45" height="435.094" fill="#efff10"/>
<rect x="969" y="356.062" width="45" height="423.938" fill="#dfff20"/>
<rect x="969" y="367.219" width="45" height="412.781" fill="#cfff30"/>
<rect x="969" y="378.375" width="45" height="401.625" fill="#bfff40"/>
<rect x="969" y="389.531" width="45" height="390.469" fill="#afff50"/>
<rect x="969" y="400.688" width="45" height="379.312" fill="#9fff60"/>
<rect x="969" y="411.844" width="45" height="368.156" fill="#8fff70"/>
<rect x="969" y="423.000" width="45" height="357.000" fill="#80ff80"/>
<rect x="969" y="434.156" width="45" height="345.844" fill="#70ff8f"/>
<rect x="969" y="445.312" width="45" height="334.688" fill="#60ff9f"/>
<rect x="969" y="456.469" width="45" height="323.531" fill="#50ffaf"/>
<rect x="969" y="467.625" width="45" height="312.375" fill="#40ffbf"/>
<rect x="969" y="478.781" width="45" height="301.219" fill="#30ffcf"/>
<rect x="969" y="489.938" width="45" height="290.062" fill="#20ffdf"/>
<rect x="969" y="501.094" width="45" height="278.906" fill="#10ffef"/>
<rect x="969" y="512.250" width="45" height="267.750" fill="#00ffff"/>
<rect x="969" y="523.406" width="45" height="256.594" fill="#00efff"/>
<rect x="969" y="534.562" width="45" height="245.438" fill="#00dfff"/>
<rect x="969" y="545.719" width="45" height="234.281" fill="#00cfff"/>
<rect x="969" y="556.875" width="45" height="223.125" fill="#00bfff"/>
<rect x="969" y="568.031" width="45" height="211.969" fill="#00afff"/>
<rect x="969" y="579.188" width="45" height="200.812" fill="#009fff"/>
<rect x="969" y="590.344" width="45" height="189.656" fill="#008fff"/>
<rect x="969" y="601.500" width="45" height="178.500" fill="#0080ff"/>
<rect x="969" y="612.656" width="45" height="167.344" fill="#0070ff"/>
<rect x="969" y="623.812" width="45" height="156.188" fill="#0060ff"/>
<rect x="969" y="634.969" width="45" height="145.031" fill="#0050ff"/>
<rect x="969" y="646.125" width="45" height="133.875" fill="#0040ff"/>
<rect x="969" y="657.281" width="45" height="122.719" fill="#0030ff"/>
<rect x="969" y="668.438" width="45" height="111.562" fill="#0020ff"/>
<rect x="969" y="679.594" width="45" height="100.406" fill="#0010ff"/>
<rect x="969" y="690.750" width="45" height="89.250" fill="#0000ff"/>
<rect x="969" y="701.906" width="45" height="78.094" fill="#0000ef"/>
<rect x="969" y="713.062" width="45" height="66.938" fill="#0000df"/>
<rect x="969" y="724.219" width="45" height="55.781" fill="#0000cf"/>
<rect x="969" y="735.375" width="45" height="44.625" fill="#0000bf"/>
<rect x="969" y="746.531" width="45" height="33.469" fill="#0000af"/>
<rect x="969" y="757.688" width="45" height="22.312" fill="#00009f"/>
<rect x="969" y="768.844" width="45" height="11.156" fill="#00008f"/>
<rect x="969.0" y="66.0" width="45.0" height="714.0" fill="none" stroke="#262626" stroke-opacity=".8" stroke-width="1"/>
<!-- ticks and labels -->
<text x="232.75" y="817.7" text-anchor="middle" class="tk">9</text>
<text x="332.50" y="817.7" text-anchor="middle" class="tk">10</text>
<text x="432.25" y="817.7" text-anchor="middle" class="tk">11</text>
<text x="532.00" y="817.7" text-anchor="middle" class="tk">12</text>
<text x="631.75" y="817.7" text-anchor="middle" class="tk">13</text>
<text x="731.50" y="817.7" text-anchor="middle" class="tk">14</text>
<text x="831.25" y="817.7" text-anchor="middle" class="tk">15</text>
<text x="931.00" y="817.7" text-anchor="middle" class="tk">16</text>
<text x="121.6" y="750.28" text-anchor="end" class="tk">-8</text>
<text x="121.6" y="670.95" text-anchor="end" class="tk">-6</text>
<text x="121.6" y="591.62" text-anchor="end" class="tk">-4</text>
<text x="121.6" y="512.28" text-anchor="end" class="tk">-2</text>
<text x="121.6" y="432.95" text-anchor="end" class="tk">0</text>
<text x="121.6" y="353.62" text-anchor="end" class="tk">2</text>
<text x="121.6" y="274.28" text-anchor="end" class="tk">4</text>
<text x="121.6" y="194.95" text-anchor="end" class="tk">6</text>
<text x="121.6" y="115.62" text-anchor="end" class="tk">8</text>
<text x="1024.4" y="753.30" class="cb">3.2</text>
<line x1="1014.0" x2="1007.0" y1="744.30" y2="744.30" class="cm"/>
<text x="1024.4" y="681.90" class="cb">3.4</text>
<line x1="1014.0" x2="1007.0" y1="672.90" y2="672.90" class="cm"/>
<text x="1024.4" y="610.50" class="cb">3.6</text>
<line x1="1014.0" x2="1007.0" y1="601.50" y2="601.50" class="cm"/>
<text x="1024.4" y="539.10" class="cb">3.8</text>
<line x1="1014.0" x2="1007.0" y1="530.10" y2="530.10" class="cm"/>
<text x="1024.4" y="467.70" class="cb">4</text>
<line x1="1014.0" x2="1007.0" y1="458.70" y2="458.70" class="cm"/>
<text x="1024.4" y="396.30" class="cb">4.2</text>
<line x1="1014.0" x2="1007.0" y1="387.30" y2="387.30" class="cm"/>
<text x="1024.4" y="324.90" class="cb">4.4</text>
<line x1="1014.0" x2="1007.0" y1="315.90" y2="315.90" class="cm"/>
<text x="1024.4" y="253.50" class="cb">4.6</text>
<line x1="1014.0" x2="1007.0" y1="244.50" y2="244.50" class="cm"/>
<text x="1024.4" y="182.10" class="cb">4.8</text>
<line x1="1014.0" x2="1007.0" y1="173.10" y2="173.10" class="cm"/>
<text x="1024.4" y="110.70" class="cb">5</text>
<line x1="1014.0" x2="1007.0" y1="101.70" y2="101.70" class="cm"/>
<text x="532" y="55.3" text-anchor="middle" class="ttl" xml:space="preserve">f=6.80 MHz;  lat=-26.84; long=-65.23, time=0 is at 2026 01 26 08:00</text>
<text x="532.5" y="858.7" text-anchor="middle" class="lab">hour of day [UT]</text>
<text transform="translate(82.5 422) rotate(-90)" text-anchor="middle" class="lab" letter-spacing=".12">frequency [Hz]</text>
</svg>
</body>
</html>
